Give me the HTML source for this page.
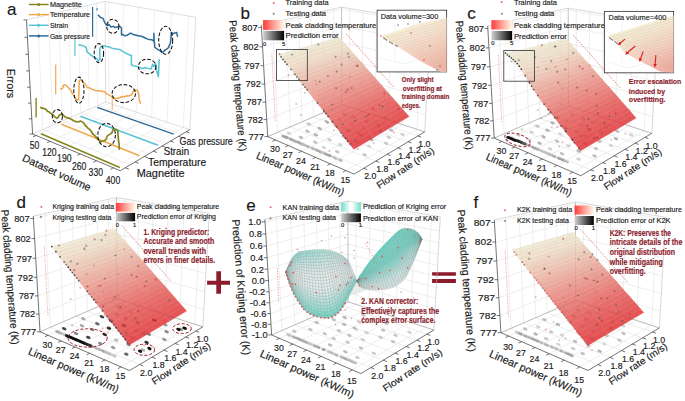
<!DOCTYPE html>
<html><head><meta charset="utf-8"><style>
html,body{margin:0;padding:0;background:#fff;}
svg{display:block;font-family:"Liberation Sans",sans-serif;}
text{fill:#1a1a1a;stroke:#1a1a1a;stroke-width:0.16px;}
</style></head><body>
<svg width="685" height="401" viewBox="0 0 685 401">
<rect width="685" height="401" fill="#fff"/>
<defs>
<linearGradient id="rg" x1="0" x2="1" y1="0" y2="0"><stop offset="0" stop-color="#ff3a3a"/><stop offset="0.5" stop-color="#ff9f93"/><stop offset="1" stop-color="#fff8e8"/></linearGradient>
<linearGradient id="gg" x1="0" x2="1" y1="0" y2="0"><stop offset="0" stop-color="#d2d2d2"/><stop offset="1" stop-color="#000"/></linearGradient>
<linearGradient id="tg" x1="0" x2="1" y1="0" y2="0"><stop offset="0" stop-color="#6fdccb"/><stop offset="0.45" stop-color="#ffffff"/><stop offset="0.55" stop-color="#ffffff"/><stop offset="1" stop-color="#6fdccb"/></linearGradient>
<linearGradient id="ib" gradientUnits="userSpaceOnUse" x1="405" y1="22" x2="425" y2="70"><stop offset="0" stop-color="#f6f0d6"/><stop offset="0.35" stop-color="#f5e2cf"/><stop offset="0.7" stop-color="#f3cdbb"/><stop offset="1" stop-color="#efb9a8"/></linearGradient>
<linearGradient id="ic" gradientUnits="userSpaceOnUse" x1="630" y1="22" x2="650" y2="72"><stop offset="0" stop-color="#f1f0d4"/><stop offset="0.3" stop-color="#f4e6cf"/><stop offset="0.65" stop-color="#f3cfbf"/><stop offset="1" stop-color="#eeb2a4"/></linearGradient>
<marker id="ah" viewBox="0 0 6 6" refX="3" refY="3" markerWidth="3.2" markerHeight="3.2" orient="auto"><path d="M0 0L6 3L0 6z" fill="#d82020"/></marker>
</defs>
<g stroke="#dcdcdc" stroke-width="0.5" fill="none">
<polyline points="267.7,136.6 341.9,104.6 424.7,131.9"/>
<polyline points="266.7,119.6 341.8,89.6 425.7,115.1"/>
<polyline points="265.7,102.1 341.7,74.2 426.6,97.9"/>
<polyline points="264.7,84.1 341.7,58.5 427.6,80.3"/>
<polyline points="263.6,65.7 341.6,42.4 428.7,62.2"/>
<polyline points="262.5,46.8 341.6,26 429.7,43.7"/>
<polyline points="261.4,27.4 341.5,9.2 430.8,24.7"/>
<polyline points="272.3,22.6 277.8,132.3 363.8,168.2"/>
<polyline points="285.8,19.6 290.3,126.9 375.8,161.1"/>
<polyline points="298.7,16.7 302.1,121.8 387.2,154.3"/>
<polyline points="310.9,14 313.4,116.9 397.9,147.9"/>
<polyline points="322.6,11.4 324.2,112.2 408.2,141.8"/>
<polyline points="333.7,8.9 334.6,107.7 417.9,135.9"/>
<polyline points="349.6,8.5 349.4,107.1 275.4,140"/>
<polyline points="362.9,10.8 361.8,111.2 288.2,145.5"/>
<polyline points="376.8,13.2 374.8,115.4 301.5,151.3"/>
<polyline points="391.4,15.7 388.3,119.9 315.6,157.4"/>
<polyline points="406.6,18.2 402.3,124.5 330.3,163.8"/>
<polyline points="422.5,21 417,129.3 345.8,170.5"/>
</g>
<g stroke="#bdbdbd" stroke-width="0.6" fill="none">
<polyline points="261.3,25.1 341.5,7.2 430.9,22.4 424.7,131.9"/>
</g>
<g stroke="#9a9a9a" stroke-width="0.6" fill="none">
<polyline points="341.5,7.2 341.9,104.6"/>
<polyline points="267.7,136.6 341.9,104.6 424.7,131.9"/>
</g>
<g>
<ellipse cx="289" cy="133.2" rx="2.4" ry="1.4" fill="#d2d2d2" transform="rotate(23.5 289 133.2)"/>
<ellipse cx="301" cy="137.4" rx="2.4" ry="1.4" fill="#bebebe" transform="rotate(23.5 301 137.4)"/>
<ellipse cx="315.3" cy="142.3" rx="2.4" ry="1.4" fill="#c0c0c0" transform="rotate(23.5 315.3 142.3)"/>
<ellipse cx="323.9" cy="147.5" rx="2.4" ry="1.4" fill="#d6d6d6" transform="rotate(23.5 323.9 147.5)"/>
<ellipse cx="337.3" cy="151.8" rx="2.4" ry="1.4" fill="#c6c6c6" transform="rotate(23.5 337.3 151.8)"/>
<ellipse cx="307.5" cy="131.3" rx="2.4" ry="1.4" fill="#bebebe" transform="rotate(23.5 307.5 131.3)"/>
<ellipse cx="315.8" cy="134.9" rx="2.4" ry="1.4" fill="#b4b4b4" transform="rotate(23.5 315.8 134.9)"/>
<ellipse cx="329.4" cy="139.8" rx="2.4" ry="1.4" fill="#cccccc" transform="rotate(23.5 329.4 139.8)"/>
<ellipse cx="340.2" cy="144.7" rx="2.4" ry="1.4" fill="#d2d2d2" transform="rotate(23.5 340.2 144.7)"/>
<ellipse cx="364.7" cy="154.8" rx="2.4" ry="1.4" fill="#c6c6c6" transform="rotate(23.5 364.7 154.8)"/>
<ellipse cx="308.9" cy="124.1" rx="2.4" ry="1.4" fill="#c6c6c6" transform="rotate(23.5 308.9 124.1)"/>
<ellipse cx="319.7" cy="128.5" rx="2.4" ry="1.4" fill="#b4b4b4" transform="rotate(23.5 319.7 128.5)"/>
<ellipse cx="343.7" cy="137" rx="2.4" ry="1.4" fill="#d2d2d2" transform="rotate(23.5 343.7 137)"/>
<ellipse cx="355.9" cy="141.3" rx="2.4" ry="1.4" fill="#b4b4b4" transform="rotate(23.5 355.9 141.3)"/>
<ellipse cx="369.1" cy="146.3" rx="2.4" ry="1.4" fill="#d6d6d6" transform="rotate(23.5 369.1 146.3)"/>
<ellipse cx="326.8" cy="121.7" rx="2.4" ry="1.4" fill="#b4b4b4" transform="rotate(23.5 326.8 121.7)"/>
<ellipse cx="335.8" cy="126" rx="2.4" ry="1.4" fill="#c6c6c6" transform="rotate(23.5 335.8 126)"/>
<ellipse cx="347.9" cy="130.5" rx="2.4" ry="1.4" fill="#b4b4b4" transform="rotate(23.5 347.9 130.5)"/>
<ellipse cx="360.4" cy="135" rx="2.4" ry="1.4" fill="#bebebe" transform="rotate(23.5 360.4 135)"/>
<ellipse cx="371.3" cy="139.5" rx="2.4" ry="1.4" fill="#b4b4b4" transform="rotate(23.5 371.3 139.5)"/>
<ellipse cx="386.1" cy="143.4" rx="2.4" ry="1.4" fill="#cccccc" transform="rotate(23.5 386.1 143.4)"/>
<ellipse cx="339.7" cy="120" rx="2.4" ry="1.4" fill="#cccccc" transform="rotate(23.5 339.7 120)"/>
<ellipse cx="351.5" cy="124.2" rx="2.4" ry="1.4" fill="#d2d2d2" transform="rotate(23.5 351.5 124.2)"/>
<ellipse cx="364" cy="128.1" rx="2.4" ry="1.4" fill="#d6d6d6" transform="rotate(23.5 364 128.1)"/>
<ellipse cx="374.2" cy="132.2" rx="2.4" ry="1.4" fill="#d6d6d6" transform="rotate(23.5 374.2 132.2)"/>
<ellipse cx="388.8" cy="137.3" rx="2.4" ry="1.4" fill="#cccccc" transform="rotate(23.5 388.8 137.3)"/>
<ellipse cx="344.3" cy="114.5" rx="2.4" ry="1.4" fill="#b4b4b4" transform="rotate(23.5 344.3 114.5)"/>
<ellipse cx="354" cy="117" rx="2.4" ry="1.4" fill="#c0c0c0" transform="rotate(23.5 354 117)"/>
<ellipse cx="366.7" cy="121.6" rx="2.4" ry="1.4" fill="#b4b4b4" transform="rotate(23.5 366.7 121.6)"/>
<ellipse cx="378.5" cy="125.7" rx="2.4" ry="1.4" fill="#c0c0c0" transform="rotate(23.5 378.5 125.7)"/>
<ellipse cx="391.2" cy="130.1" rx="2.4" ry="1.4" fill="#c0c0c0" transform="rotate(23.5 391.2 130.1)"/>
<ellipse cx="402.4" cy="134.4" rx="2.4" ry="1.4" fill="#d2d2d2" transform="rotate(23.5 402.4 134.4)"/>
<ellipse cx="284.5" cy="136.7" rx="3.2" ry="1.35" fill="#a1a1a1" transform="rotate(23.5 284.5 136.7)"/>
<ellipse cx="286.8" cy="137.6" rx="2.4" ry="1.35" fill="#a3a3a3" transform="rotate(23.5 286.8 137.6)"/>
<ellipse cx="291.4" cy="139.6" rx="2.8" ry="1.35" fill="#a0a0a0" transform="rotate(23.5 291.4 139.6)"/>
<ellipse cx="294.4" cy="140.9" rx="3.2" ry="1.35" fill="#aaaaaa" transform="rotate(23.5 294.4 140.9)"/>
<ellipse cx="297.5" cy="142.1" rx="2.4" ry="1.35" fill="#adadad" transform="rotate(23.5 297.5 142.1)"/>
<ellipse cx="300.5" cy="143.4" rx="3.2" ry="1.35" fill="#a6a6a6" transform="rotate(23.5 300.5 143.4)"/>
<ellipse cx="303.6" cy="144.7" rx="3.2" ry="1.35" fill="#bababa" transform="rotate(23.5 303.6 144.7)"/>
<ellipse cx="307.7" cy="146.4" rx="2.8" ry="1.35" fill="#b2b2b2" transform="rotate(23.5 307.7 146.4)"/>
<ellipse cx="312.7" cy="148.6" rx="2.4" ry="1.35" fill="#b2b2b2" transform="rotate(23.5 312.7 148.6)"/>
<ellipse cx="316.9" cy="150.3" rx="2.8" ry="1.35" fill="#afafaf" transform="rotate(23.5 316.9 150.3)"/>
<ellipse cx="320.1" cy="151.7" rx="2.8" ry="1.35" fill="#aaaaaa" transform="rotate(23.5 320.1 151.7)"/>
<ellipse cx="323.5" cy="153.1" rx="2.8" ry="1.35" fill="#c6c6c6" transform="rotate(23.5 323.5 153.1)"/>
<ellipse cx="326.1" cy="154.2" rx="2.8" ry="1.35" fill="#a9a9a9" transform="rotate(23.5 326.1 154.2)"/>
<ellipse cx="329.5" cy="155.6" rx="2.4" ry="1.35" fill="#a1a1a1" transform="rotate(23.5 329.5 155.6)"/>
<ellipse cx="334.9" cy="157.9" rx="3.2" ry="1.35" fill="#bcbcbc" transform="rotate(23.5 334.9 157.9)"/>
<ellipse cx="340.4" cy="160.2" rx="2.4" ry="1.35" fill="#b5b5b5" transform="rotate(23.5 340.4 160.2)"/>
</g>
<line x1="346.5" y1="34.1" x2="394" y2="87.5" stroke="#e07a7a" stroke-width="0.9" stroke-dasharray="1.6 1.4"/>
<line x1="275.3" y1="120.7" x2="271.8" y2="53.3" stroke="#e88" stroke-width="0.9" stroke-dasharray="0.9 1.3"/>
<g opacity="0.82">
<g stroke-width="0.5">
<polygon points="409,116.5 405.9,113 388.9,122.8 392.1,126.5" fill="#e43033" stroke="#e43033"/>
<polygon points="392.1,126.5 388.9,122.8 370.5,133.4 373.8,137.4" fill="#e42e31" stroke="#e42e31"/>
<polygon points="373.8,137.4 370.5,133.4 350.5,145 353.8,149.2" fill="#e32b2f" stroke="#e32b2f"/>
<polygon points="405.9,113 402.8,109.5 385.8,119.1 388.9,122.8" fill="#e43738" stroke="#e43738"/>
<polygon points="388.9,122.8 385.8,119.1 367.3,129.5 370.5,133.4" fill="#e43436" stroke="#e43436"/>
<polygon points="370.5,133.4 367.3,129.5 347.1,140.8 350.5,145" fill="#e43235" stroke="#e43235"/>
<polygon points="402.8,109.5 399.7,106 382.6,115.4 385.8,119.1" fill="#e53d3e" stroke="#e53d3e"/>
<polygon points="385.8,119.1 382.6,115.4 364.1,125.6 367.3,129.5" fill="#e53b3c" stroke="#e53b3c"/>
<polygon points="367.3,129.5 364.1,125.6 343.8,136.6 347.1,140.8" fill="#e5393a" stroke="#e5393a"/>
<polygon points="399.7,106 396.7,102.6 379.5,111.7 382.6,115.4" fill="#e54443" stroke="#e54443"/>
<polygon points="382.6,115.4 379.5,111.7 360.9,121.7 364.1,125.6" fill="#e54241" stroke="#e54241"/>
<polygon points="364.1,125.6 360.9,121.7 340.6,132.5 343.8,136.6" fill="#e53f3f" stroke="#e53f3f"/>
<polygon points="396.7,102.6 393.6,99.1 376.4,108.1 379.5,111.7" fill="#e64a48" stroke="#e64a48"/>
<polygon points="379.5,111.7 376.4,108.1 357.7,117.8 360.9,121.7" fill="#e64846" stroke="#e64846"/>
<polygon points="360.9,121.7 357.7,117.8 337.3,128.4 340.6,132.5" fill="#e64645" stroke="#e64645"/>
<polygon points="393.6,99.1 390.6,95.7 373.3,104.4 376.4,108.1" fill="#e7514d" stroke="#e7514d"/>
<polygon points="376.4,108.1 373.3,104.4 354.5,113.9 357.7,117.8" fill="#e64f4b" stroke="#e64f4b"/>
<polygon points="357.7,117.8 354.5,113.9 334.1,124.3 337.3,128.4" fill="#e64d4a" stroke="#e64d4a"/>
<polygon points="390.6,95.7 387.6,92.3 370.2,100.8 373.3,104.4" fill="#e75a55" stroke="#e75a55"/>
<polygon points="373.3,104.4 370.2,100.8 351.4,110.1 354.5,113.9" fill="#e75753" stroke="#e75753"/>
<polygon points="354.5,113.9 351.4,110.1 330.9,120.2 334.1,124.3" fill="#e75550" stroke="#e75550"/>
<polygon points="387.6,92.3 384.6,88.9 367.2,97.2 370.2,100.8" fill="#e8635d" stroke="#e8635d"/>
<polygon points="370.2,100.8 367.2,97.2 348.3,106.3 351.4,110.1" fill="#e8615b" stroke="#e8615b"/>
<polygon points="351.4,110.1 348.3,106.3 327.7,116.1 330.9,120.2" fill="#e85e59" stroke="#e85e59"/>
<polygon points="384.6,88.9 381.7,85.5 364.2,93.7 367.2,97.2" fill="#e96c65" stroke="#e96c65"/>
<polygon points="367.2,97.2 364.2,93.7 345.2,102.5 348.3,106.3" fill="#e96a63" stroke="#e96a63"/>
<polygon points="348.3,106.3 345.2,102.5 324.5,112.1 327.7,116.1" fill="#e96861" stroke="#e96861"/>
<polygon points="381.7,85.5 378.7,82.2 361.1,90.1 364.2,93.7" fill="#ea766d" stroke="#ea766d"/>
<polygon points="364.2,93.7 361.1,90.1 342.1,98.7 345.2,102.5" fill="#ea736b" stroke="#ea736b"/>
<polygon points="345.2,102.5 342.1,98.7 321.3,108.1 324.5,112.1" fill="#e97169" stroke="#e97169"/>
<polygon points="378.7,82.2 375.8,78.8 358.1,86.6 361.1,90.1" fill="#ea7f74" stroke="#ea7f74"/>
<polygon points="361.1,90.1 358.1,86.6 339,95 342.1,98.7" fill="#ea7d73" stroke="#ea7d73"/>
<polygon points="342.1,98.7 339,95 318.2,104.2 321.3,108.1" fill="#ea7b71" stroke="#ea7b71"/>
<polygon points="375.8,78.8 372.9,75.5 355.2,83.1 358.1,86.6" fill="#eb887c" stroke="#eb887c"/>
<polygon points="358.1,86.6 355.2,83.1 336,91.3 339,95" fill="#eb867b" stroke="#eb867b"/>
<polygon points="339,95 336,91.3 315.1,100.2 318.2,104.2" fill="#eb8479" stroke="#eb8479"/>
<polygon points="372.9,75.5 370,72.2 352.2,79.6 355.2,83.1" fill="#ec9184" stroke="#ec9184"/>
<polygon points="355.2,83.1 352.2,79.6 332.9,87.6 336,91.3" fill="#ec8f83" stroke="#ec8f83"/>
<polygon points="336,91.3 332.9,87.6 312,96.3 315.1,100.2" fill="#ec8d81" stroke="#ec8d81"/>
<polygon points="370,72.2 367.1,69 349.3,76.1 352.2,79.6" fill="#ec9b8c" stroke="#ec9b8c"/>
<polygon points="352.2,79.6 349.3,76.1 329.9,83.9 332.9,87.6" fill="#ec998b" stroke="#ec998b"/>
<polygon points="332.9,87.6 329.9,83.9 308.9,92.4 312,96.3" fill="#ec9789" stroke="#ec9789"/>
<polygon points="367.1,69 364.2,65.7 346.3,72.7 349.3,76.1" fill="#eda495" stroke="#eda495"/>
<polygon points="349.3,76.1 346.3,72.7 326.9,80.3 329.9,83.9" fill="#eda293" stroke="#eda293"/>
<polygon points="329.9,83.9 326.9,80.3 305.8,88.5 308.9,92.4" fill="#eda192" stroke="#eda192"/>
<polygon points="364.2,65.7 361.4,62.5 343.4,69.3 346.3,72.7" fill="#edad9d" stroke="#edad9d"/>
<polygon points="346.3,72.7 343.4,69.3 324,76.7 326.9,80.3" fill="#edac9b" stroke="#edac9b"/>
<polygon points="326.9,80.3 324,76.7 302.8,84.7 305.8,88.5" fill="#edaa9a" stroke="#edaa9a"/>
<polygon points="361.4,62.5 358.5,59.2 340.5,65.9 343.4,69.3" fill="#eeb7a5" stroke="#eeb7a5"/>
<polygon points="343.4,69.3 340.5,65.9 321,73.1 324,76.7" fill="#eeb5a4" stroke="#eeb5a4"/>
<polygon points="324,76.7 321,73.1 299.8,80.9 302.8,84.7" fill="#eeb4a3" stroke="#eeb4a3"/>
<polygon points="358.5,59.2 355.7,56 337.6,62.5 340.5,65.9" fill="#eec0ad" stroke="#eec0ad"/>
<polygon points="340.5,65.9 337.6,62.5 318.1,69.5 321,73.1" fill="#eebfac" stroke="#eebfac"/>
<polygon points="321,73.1 318.1,69.5 296.8,77.1 299.8,80.9" fill="#eebdab" stroke="#eebdab"/>
<polygon points="355.7,56 352.9,52.9 334.8,59.1 337.6,62.5" fill="#efc8b4" stroke="#efc8b4"/>
<polygon points="337.6,62.5 334.8,59.1 315.1,65.9 318.1,69.5" fill="#efc7b3" stroke="#efc7b3"/>
<polygon points="318.1,69.5 315.1,65.9 293.8,73.3 296.8,77.1" fill="#efc6b2" stroke="#efc6b2"/>
<polygon points="352.9,52.9 350.1,49.7 331.9,55.8 334.8,59.1" fill="#efd1bb" stroke="#efd1bb"/>
<polygon points="334.8,59.1 331.9,55.8 312.2,62.4 315.1,65.9" fill="#efd0ba" stroke="#efd0ba"/>
<polygon points="315.1,65.9 312.2,62.4 290.8,69.5 293.8,73.3" fill="#efcfb9" stroke="#efcfb9"/>
<polygon points="350.1,49.7 347.4,46.5 329.1,52.5 331.9,55.8" fill="#f0dac2" stroke="#f0dac2"/>
<polygon points="331.9,55.8 329.1,52.5 309.3,58.9 312.2,62.4" fill="#f0d9c1" stroke="#f0d9c1"/>
<polygon points="312.2,62.4 309.3,58.9 287.9,65.8 290.8,69.5" fill="#f0d8c1" stroke="#f0d8c1"/>
<polygon points="347.4,46.5 344.6,43.4 326.3,49.1 329.1,52.5" fill="#f1e0c8" stroke="#f1e0c8"/>
<polygon points="329.1,52.5 326.3,49.1 306.5,55.4 309.3,58.9" fill="#f1e0c8" stroke="#f1e0c8"/>
<polygon points="309.3,58.9 306.5,55.4 284.9,62.1 287.9,65.8" fill="#f0e0c7" stroke="#f0e0c7"/>
<polygon points="344.6,43.4 341.9,40.3 323.5,45.9 326.3,49.1" fill="#f1e5cc" stroke="#f1e5cc"/>
<polygon points="326.3,49.1 323.5,45.9 303.6,51.9 306.5,55.4" fill="#f1e4cc" stroke="#f1e4cc"/>
<polygon points="306.5,55.4 303.6,51.9 282,58.4 284.9,62.1" fill="#f1e4cc" stroke="#f1e4cc"/>
<polygon points="341.9,40.3 339.1,37.2 320.7,42.6 323.5,45.9" fill="#f1e9d1" stroke="#f1e9d1"/>
<polygon points="323.5,45.9 320.7,42.6 300.8,48.4 303.6,51.9" fill="#f1e9d1" stroke="#f1e9d1"/>
<polygon points="303.6,51.9 300.8,48.4 279.1,54.7 282,58.4" fill="#f1e9d0" stroke="#f1e9d0"/>
</g>
<g stroke="#5a4a44" stroke-width="0.35" stroke-opacity="0.16" fill="none">
<polyline points="409,116.5 353.8,149.2"/>
<polyline points="406.5,113.7 351.1,145.9"/>
<polyline points="404,110.9 348.5,142.5"/>
<polyline points="401.6,108.1 345.8,139.1"/>
<polyline points="399.1,105.3 343.2,135.8"/>
<polyline points="396.7,102.6 340.6,132.5"/>
<polyline points="394.3,99.8 338,129.2"/>
<polyline points="391.8,97 335.4,125.9"/>
<polyline points="389.4,94.3 332.8,122.6"/>
<polyline points="387,91.6 330.2,119.4"/>
<polyline points="384.6,88.9 327.7,116.1"/>
<polyline points="382.3,86.2 325.1,112.9"/>
<polyline points="379.9,83.5 322.6,109.7"/>
<polyline points="377.6,80.8 320.1,106.5"/>
<polyline points="375.2,78.2 317.6,103.4"/>
<polyline points="372.9,75.5 315.1,100.2"/>
<polyline points="370.6,72.9 312.6,97.1"/>
<polyline points="368.3,70.3 310.1,94"/>
<polyline points="366,67.7 307.7,90.9"/>
<polyline points="363.7,65.1 305.2,87.8"/>
<polyline points="361.4,62.5 302.8,84.7"/>
<polyline points="359.1,59.9 300.4,81.6"/>
<polyline points="356.9,57.3 298,78.6"/>
<polyline points="354.6,54.8 295.6,75.5"/>
<polyline points="352.4,52.2 293.2,72.5"/>
<polyline points="350.1,49.7 290.8,69.5"/>
<polyline points="347.9,47.2 288.5,66.5"/>
<polyline points="345.7,44.7 286.1,63.6"/>
<polyline points="343.5,42.2 283.8,60.6"/>
<polyline points="341.3,39.7 281.5,57.7"/>
<polyline points="339.1,37.2 279.1,54.7"/>
<polyline points="409,116.5 339.1,37.2"/>
<polyline points="407.4,117.5 337.4,37.7"/>
<polyline points="405.7,118.5 335.6,38.2"/>
<polyline points="404.1,119.5 333.8,38.8"/>
<polyline points="402.4,120.4 331.9,39.3"/>
<polyline points="400.7,121.4 330.1,39.8"/>
<polyline points="399,122.4 328.2,40.4"/>
<polyline points="397.3,123.5 326.4,40.9"/>
<polyline points="395.6,124.5 324.5,41.5"/>
<polyline points="393.9,125.5 322.6,42"/>
<polyline points="392.1,126.5 320.7,42.6"/>
<polyline points="390.4,127.6 318.8,43.1"/>
<polyline points="388.6,128.6 316.8,43.7"/>
<polyline points="386.8,129.7 314.9,44.3"/>
<polyline points="385,130.8 312.9,44.9"/>
<polyline points="383.2,131.9 310.9,45.4"/>
<polyline points="381.3,132.9 308.9,46"/>
<polyline points="379.5,134 306.9,46.6"/>
<polyline points="377.6,135.2 304.9,47.2"/>
<polyline points="375.7,136.3 302.8,47.8"/>
<polyline points="373.8,137.4 300.8,48.4"/>
<polyline points="371.9,138.5 298.7,49"/>
<polyline points="369.9,139.7 296.6,49.6"/>
<polyline points="368,140.8 294.5,50.3"/>
<polyline points="366,142 292.3,50.9"/>
<polyline points="364,143.2 290.2,51.5"/>
<polyline points="362,144.4 288,52.1"/>
<polyline points="360,145.6 285.8,52.8"/>
<polyline points="358,146.8 283.6,53.4"/>
<polyline points="355.9,148 281.4,54.1"/>
<polyline points="353.8,149.2 279.1,54.7"/>
</g></g>
<g stroke-width="0.6">
<path d="M344.6 92h2.4M345.8 90.8v2.4" stroke="#b03030" stroke-opacity="0.7"/>
<path d="M346.6 89.6h2.4M347.8 88.4v2.4" stroke="#b03030" stroke-opacity="0.7"/>
<path d="M367.2 114.6h2.4M368.4 113.4v2.4" stroke="#b03030" stroke-opacity="0.7"/>
<path d="M346.7 53.8h2.4M347.9 52.6v2.4" stroke="#555" stroke-opacity="0.7"/>
<path d="M357.1 132.8h2.4M358.3 131.6v2.4" stroke="#b03030" stroke-opacity="0.7"/>
<path d="M350.4 143.6h2.4M351.6 142.4v2.4" stroke="#b03030" stroke-opacity="0.7"/>
<path d="M326.7 75.9h2.4M327.9 74.7v2.4" stroke="#555" stroke-opacity="0.7"/>
<path d="M379.2 130.7h2.4M380.4 129.5v2.4" stroke="#555" stroke-opacity="0.7"/>
<path d="M381.4 106.4h2.4M382.6 105.2v2.4" stroke="#555" stroke-opacity="0.7"/>
<path d="M350.6 88h2.4M351.8 86.8v2.4" stroke="#b03030" stroke-opacity="0.7"/>
<path d="M334.9 88.2h2.4M336.1 87v2.4" stroke="#555" stroke-opacity="0.7"/>
<path d="M335.5 71.6h2.4M336.7 70.4v2.4" stroke="#555" stroke-opacity="0.7"/>
<path d="M278.4 54.1h2.4M279.6 52.9v2.4" stroke="#b03030" stroke-opacity="0.7"/>
<path d="M340.4 64.8h2.4M341.6 63.6v2.4" stroke="#555" stroke-opacity="0.7"/>
<path d="M383.1 93.5h2.4M384.3 92.3v2.4" stroke="#b03030" stroke-opacity="0.7"/>
<path d="M331.1 104.5h2.4M332.3 103.3v2.4" stroke="#555" stroke-opacity="0.7"/>
<path d="M290.9 54.6h2.4M292.1 53.4v2.4" stroke="#555" stroke-opacity="0.7"/>
<path d="M341.7 124.5h2.4M342.9 123.3v2.4" stroke="#555" stroke-opacity="0.7"/>
<path d="M317.1 44.5h2.4M318.3 43.3v2.4" stroke="#555" stroke-opacity="0.7"/>
<path d="M318.5 81.8h2.4M319.7 80.6v2.4" stroke="#555" stroke-opacity="0.7"/>
<path d="M384.4 118h2.4M385.6 116.8v2.4" stroke="#b03030" stroke-opacity="0.7"/>
<path d="M347.7 57h2.4M348.9 55.8v2.4" stroke="#555" stroke-opacity="0.7"/>
<path d="M397.4 109h2.4M398.6 107.8v2.4" stroke="#b03030" stroke-opacity="0.7"/>
<path d="M365 116.6h2.4M366.2 115.4v2.4" stroke="#555" stroke-opacity="0.7"/>
<path d="M354 120.7h2.4M355.2 119.5v2.4" stroke="#555" stroke-opacity="0.7"/>
<path d="M355.6 65.9h2.4M356.8 64.7v2.4" stroke="#555" stroke-opacity="0.7"/>
<path d="M378.3 105.2h2.4M379.5 104v2.4" stroke="#b03030" stroke-opacity="0.7"/>
<path d="M334.4 56.9h2.4M335.6 55.7v2.4" stroke="#b03030" stroke-opacity="0.7"/>
<path d="M371.7 108.9h2.4M372.9 107.7v2.4" stroke="#b03030" stroke-opacity="0.7"/>
<path d="M356.6 65.7h2.4M357.8 64.5v2.4" stroke="#b03030" stroke-opacity="0.7"/>
<path d="M378.8 112.2h2.2M379.9 111.1v2.2" stroke="#e06060" stroke-opacity="0.6"/>
<path d="M381.7 124.2h2.2M382.8 123.1v2.2" stroke="#e06060" stroke-opacity="0.6"/>
<path d="M357.6 132.1h2.2M358.7 131v2.2" stroke="#e06060" stroke-opacity="0.6"/>
<path d="M314.3 80.6h2.2M315.4 79.5v2.2" stroke="#888" stroke-opacity="0.6"/>
<path d="M386.6 107.8h2.2M387.7 106.7v2.2" stroke="#888" stroke-opacity="0.6"/>
<path d="M379.7 108.8h2.2M380.8 107.7v2.2" stroke="#888" stroke-opacity="0.6"/>
<path d="M340.3 131.2h2.2M341.4 130.1v2.2" stroke="#888" stroke-opacity="0.6"/>
<path d="M371.2 123.4h2.2M372.3 122.3v2.2" stroke="#888" stroke-opacity="0.6"/>
<path d="M352 139h2.2M353.1 137.9v2.2" stroke="#888" stroke-opacity="0.6"/>
<path d="M349.3 116.8h2.2M350.4 115.7v2.2" stroke="#888" stroke-opacity="0.6"/>
<path d="M391 126.2h2.2M392.1 125.1v2.2" stroke="#888" stroke-opacity="0.6"/>
<path d="M348.9 76.9h2.2M350 75.8v2.2" stroke="#e06060" stroke-opacity="0.6"/>
<path d="M392.8 132.4h2.2M393.9 131.3v2.2" stroke="#e06060" stroke-opacity="0.6"/>
<path d="M375.5 123.4h2.2M376.6 122.3v2.2" stroke="#e06060" stroke-opacity="0.6"/>
<path d="M331.3 110.9h2.2M332.4 109.8v2.2" stroke="#888" stroke-opacity="0.6"/>
<path d="M326.8 123h2.2M327.9 121.9v2.2" stroke="#e06060" stroke-opacity="0.6"/>
<path d="M356.8 149h2.2M357.9 147.9v2.2" stroke="#888" stroke-opacity="0.6"/>
<path d="M372.6 143h2.2M373.7 141.9v2.2" stroke="#888" stroke-opacity="0.6"/>
<path d="M328.2 151.1h2.2M329.3 150v2.2" stroke="#e06060" stroke-opacity="0.6"/>
<path d="M303.7 92.9h2.2M304.8 91.8v2.2" stroke="#888" stroke-opacity="0.6"/>
<path d="M299.6 114.9h2.2M300.7 113.8v2.2" stroke="#888" stroke-opacity="0.6"/>
<path d="M295.1 104h2.2M296.2 102.9v2.2" stroke="#888" stroke-opacity="0.6"/>
<path d="M315.3 84.4h2.2M316.4 83.3v2.2" stroke="#e06060" stroke-opacity="0.6"/>
<path d="M332.8 130.4h2.2M333.9 129.3v2.2" stroke="#888" stroke-opacity="0.6"/>
<path d="M287.4 75.1h2.2M288.5 74v2.2" stroke="#e06060" stroke-opacity="0.6"/>
</g>
<g>
<circle cx="281.1" cy="56.8" r="0.85" fill="#555"/>
<circle cx="283" cy="59.3" r="0.85" fill="#444"/>
<circle cx="285" cy="61.8" r="0.85" fill="#444"/>
<circle cx="286.9" cy="64.3" r="0.85" fill="#444"/>
<circle cx="290.9" cy="69.3" r="0.85" fill="#666"/>
<circle cx="294.9" cy="74.3" r="0.85" fill="#555"/>
<circle cx="296.9" cy="76.9" r="0.85" fill="#666"/>
<circle cx="298.9" cy="79.4" r="0.85" fill="#555"/>
<circle cx="303" cy="84.6" r="0.85" fill="#666"/>
<circle cx="305" cy="87.1" r="0.85" fill="#666"/>
<circle cx="307.1" cy="89.7" r="0.85" fill="#666"/>
<circle cx="317.5" cy="102.9" r="0.85" fill="#555"/>
<circle cx="323.8" cy="110.9" r="0.85" fill="#444"/>
<circle cx="325.9" cy="113.6" r="0.85" fill="#444"/>
<circle cx="328.1" cy="116.3" r="0.85" fill="#444"/>
<circle cx="332.4" cy="121.7" r="0.85" fill="#444"/>
<circle cx="336.7" cy="127.2" r="0.85" fill="#666"/>
<circle cx="341.1" cy="132.8" r="0.85" fill="#666"/>
<circle cx="343.3" cy="135.6" r="0.85" fill="#666"/>
<circle cx="345.5" cy="138.4" r="0.85" fill="#444"/>
<circle cx="347.7" cy="141.2" r="0.85" fill="#444"/>
<circle cx="350" cy="144" r="0.85" fill="#666"/>
</g>
<g stroke="#3a3a3a" stroke-width="0.7" fill="none">
<polyline points="261.3,25.1 267.7,136.6 354,174.1 424.7,131.9"/>
<line x1="264.5" y1="136.6" x2="267.7" y2="136.6"/>
<line x1="263.5" y1="119.6" x2="266.7" y2="119.6"/>
<line x1="262.5" y1="102.1" x2="265.7" y2="102.1"/>
<line x1="261.5" y1="84.1" x2="264.7" y2="84.1"/>
<line x1="260.4" y1="65.7" x2="263.6" y2="65.7"/>
<line x1="259.3" y1="46.8" x2="262.5" y2="46.8"/>
<line x1="258.2" y1="27.4" x2="261.4" y2="27.4"/>
<line x1="275.4" y1="140" x2="272.4" y2="141.3"/>
<line x1="288.2" y1="145.5" x2="285.2" y2="146.9"/>
<line x1="301.5" y1="151.3" x2="298.5" y2="152.8"/>
<line x1="315.6" y1="157.4" x2="312.6" y2="158.9"/>
<line x1="330.3" y1="163.8" x2="327.3" y2="165.4"/>
<line x1="345.8" y1="170.5" x2="342.8" y2="172.2"/>
<line x1="363.8" y1="168.2" x2="367.3" y2="169.7"/>
<line x1="375.8" y1="161.1" x2="379.3" y2="162.4"/>
<line x1="387.2" y1="154.3" x2="390.6" y2="155.6"/>
<line x1="397.9" y1="147.9" x2="401.3" y2="149.1"/>
<line x1="408.2" y1="141.8" x2="411.5" y2="142.9"/>
<line x1="417.9" y1="135.9" x2="421.2" y2="137.1"/>
</g>
<text x="263.9" y="139.9" style="font-size:9.3px" text-anchor="end">777</text>
<text x="262.9" y="122.9" style="font-size:9.3px" text-anchor="end">782</text>
<text x="261.9" y="105.4" style="font-size:9.3px" text-anchor="end">787</text>
<text x="260.9" y="87.4" style="font-size:9.3px" text-anchor="end">792</text>
<text x="259.8" y="69" style="font-size:9.3px" text-anchor="end">797</text>
<text x="258.7" y="50.1" style="font-size:9.3px" text-anchor="end">802</text>
<text x="257.6" y="30.7" style="font-size:9.3px" text-anchor="end">807</text>
<text x="274.9" y="152.3" style="font-size:8.8px" text-anchor="middle">30</text>
<text x="287.7" y="157.8" style="font-size:8.8px" text-anchor="middle">27</text>
<text x="301" y="163.6" style="font-size:8.8px" text-anchor="middle">24</text>
<text x="315.1" y="169.7" style="font-size:8.8px" text-anchor="middle">21</text>
<text x="329.8" y="176.1" style="font-size:8.8px" text-anchor="middle">18</text>
<text x="345.3" y="182.8" style="font-size:8.8px" text-anchor="middle">15</text>
<text x="370.3" y="179.3" style="font-size:8.8px" text-anchor="middle">2.0</text>
<text x="382.3" y="172.2" style="font-size:8.8px" text-anchor="middle">1.8</text>
<text x="393.7" y="165.4" style="font-size:8.8px" text-anchor="middle">1.6</text>
<text x="404.4" y="159" style="font-size:8.8px" text-anchor="middle">1.4</text>
<text x="414.7" y="152.9" style="font-size:8.8px" text-anchor="middle">1.2</text>
<text x="424.4" y="147" style="font-size:8.8px" text-anchor="middle">1.0</text>
<text x="240.5" y="18.5" style="font-size:17px">b</text>
<text x="229" y="20.6" style="font-size:10.8px" textLength="131.3" lengthAdjust="spacingAndGlyphs" transform="rotate(85.5 229 20.6)">Peak cladding temperature (K)</text>
<text x="255.6" y="158.2" style="font-size:10.8px" textLength="94.5" lengthAdjust="spacingAndGlyphs" transform="rotate(23.5 255.6 158.2)">Linear power (kW/m)</text>
<text x="379.2" y="189" style="font-size:9.5px" textLength="67" lengthAdjust="spacingAndGlyphs" transform="rotate(-33.5 379.2 189)">Flow rate (m/s)</text>
<circle cx="273.7" cy="3" r="1.05" fill="#f07070"/>
<circle cx="273.7" cy="13.8" r="1.05" fill="#888"/>
<rect x="263.1" y="20" width="21" height="9.9" fill="url(#rg)"/>
<rect x="263.1" y="30.9" width="21" height="9.4" fill="url(#gg)"/>
<text x="285.6" y="5" style="font-size:7.8px" textLength="43" lengthAdjust="spacingAndGlyphs">Training data</text>
<text x="285.6" y="16" style="font-size:7.8px" textLength="40.4" lengthAdjust="spacingAndGlyphs">Testing data</text>
<text x="285.6" y="27.6" style="font-size:7.8px" textLength="90.6" lengthAdjust="spacingAndGlyphs">Peak cladding temperature</text>
<text x="285.6" y="38.2" style="font-size:7.8px" textLength="53" lengthAdjust="spacingAndGlyphs">Prediction error</text>
<text x="264.6" y="45.5" style="font-size:5.8px" text-anchor="middle">0</text>
<text x="283.6" y="45.5" style="font-size:5.8px" text-anchor="middle">5</text>
<rect x="276.6" y="49.4" width="30.7" height="31.2" fill="none" stroke="#333" stroke-width="0.8"/>
<rect x="377.1" y="10.2" width="69.5" height="61.7" fill="#fff" stroke="#444" stroke-width="0.9"/>
<g stroke="#e4e4e4" stroke-width="0.5" fill="none"><path d="M395 22V60M414 18V55M431 14V50M380 58L404 64L446 52M380 40L446 27"/></g>
<polygon points="381,36 414,25 446.6,17.5 446.6,71.9 441,71.9 420,61 399,47.5" fill="url(#ib)"/>
<g stroke="#555" stroke-width="0.5" stroke-opacity="0.15"><path d="M384.2 37.8L446.6 20.2"/><path d="M387.4 39.5L446.6 22.9"/><path d="M390.6 41.3L446.6 25.7"/><path d="M393.8 43L446.6 28.4"/><path d="M397 44.8L446.6 31.1"/><path d="M400.2 46.6L446.6 33.8"/><path d="M403.4 48.3L446.6 36.5"/><path d="M406.6 50.1L446.6 39.3"/><path d="M409.8 51.8L446.6 42"/><path d="M413 53.6L446.6 44.7"/><path d="M416.2 55.4L446.6 47.4"/><path d="M419.4 57.1L446.6 50.1"/><path d="M422.6 58.9L446.6 52.9"/><path d="M425.8 60.6L446.6 55.6"/><path d="M429 62.4L446.6 58.3"/><path d="M432.2 64.2L446.6 61"/><path d="M435.4 65.9L446.6 63.7"/><path d="M438.6 67.7L446.6 66.5"/><path d="M441.8 69.4L446.6 69.2"/></g>
<path d="M383 37.5L387 40.5M389 41.5L393 44M395 45L398 46.5" stroke="#555" stroke-width="0.9"/>
<circle cx="381" cy="36" r="0.7" fill="#d33"/>
<circle cx="398" cy="25" r="0.7" fill="#555"/>
<circle cx="408" cy="24" r="0.7" fill="#555"/>
<circle cx="420" cy="22" r="0.7" fill="#555"/>
<circle cx="411" cy="33" r="0.7" fill="#d33"/>
<circle cx="430" cy="46" r="0.7" fill="#555"/>
<circle cx="424" cy="60" r="0.7" fill="#d33"/>
<circle cx="440" cy="66" r="0.7" fill="#d33"/>
<circle cx="437" cy="70" r="0.7" fill="#555"/>
<text x="380.8" y="19.2" style="font-size:8px" textLength="57.4" lengthAdjust="spacingAndGlyphs">Data volume=300</text>
<text x="401.8" y="82" style="font-size:7.8px;font-weight:bold;fill:#8c1c2c;stroke:#8c1c2c" textLength="31.7" lengthAdjust="spacingAndGlyphs">Only slight</text>
<text x="402.8" y="90.5" style="font-size:7.8px;font-weight:bold;fill:#8c1c2c;stroke:#8c1c2c" textLength="39.2" lengthAdjust="spacingAndGlyphs">overfitting at</text>
<text x="401.8" y="99" style="font-size:7.8px;font-weight:bold;fill:#8c1c2c;stroke:#8c1c2c" textLength="47.6" lengthAdjust="spacingAndGlyphs">training domain</text>
<text x="401.8" y="107.5" style="font-size:7.8px;font-weight:bold;fill:#8c1c2c;stroke:#8c1c2c" textLength="18.7" lengthAdjust="spacingAndGlyphs">edges.</text>
<g stroke="#dcdcdc" stroke-width="0.5" fill="none">
<polyline points="494.2,138.1 568.6,105.9 651.8,133.3"/>
<polyline points="493.2,120.9 568.6,90.8 652.8,116.5"/>
<polyline points="492.2,103.4 568.5,75.4 653.8,99.2"/>
<polyline points="491.1,85.3 568.4,59.6 654.8,81.5"/>
<polyline points="490,66.8 568.4,43.4 655.8,63.4"/>
<polyline points="488.9,47.9 568.3,27 656.8,44.7"/>
<polyline points="487.8,28.4 568.3,10.1 657.9,25.7"/>
<polyline points="498.8,23.6 504.3,133.7 590.7,169.8"/>
<polyline points="512.3,20.5 516.8,128.3 602.7,162.6"/>
<polyline points="525.2,17.6 528.7,123.2 614.1,155.8"/>
<polyline points="537.5,14.9 540,118.3 624.9,149.3"/>
<polyline points="549.2,12.3 550.9,113.6 635.2,143.2"/>
<polyline points="560.4,9.8 561.3,109.1 645,137.4"/>
<polyline points="576.3,9.4 576.2,108.4 501.9,141.4"/>
<polyline points="589.7,11.7 588.7,112.5 514.7,147"/>
<polyline points="603.7,14.1 601.7,116.8 528.1,152.8"/>
<polyline points="618.3,16.6 615.2,121.3 542.2,158.9"/>
<polyline points="633.6,19.2 629.3,125.9 557,165.3"/>
<polyline points="649.6,21.9 644.1,130.8 572.6,172.1"/>
</g>
<g stroke="#bdbdbd" stroke-width="0.6" fill="none">
<polyline points="487.7,26 568.2,8.1 658.1,23.3 651.8,133.3"/>
</g>
<g stroke="#9a9a9a" stroke-width="0.6" fill="none">
<polyline points="568.2,8.1 568.6,105.9"/>
<polyline points="494.2,138.1 568.6,105.9 651.8,133.3"/>
</g>
<g>
<ellipse cx="518.4" cy="135" rx="2.4" ry="1.4" fill="#cccccc" transform="rotate(23.5 518.4 135)"/>
<ellipse cx="529.3" cy="139.8" rx="2.4" ry="1.4" fill="#d2d2d2" transform="rotate(23.5 529.3 139.8)"/>
<ellipse cx="539.6" cy="143.3" rx="2.4" ry="1.4" fill="#b4b4b4" transform="rotate(23.5 539.6 143.3)"/>
<ellipse cx="550" cy="148.9" rx="2.4" ry="1.4" fill="#d2d2d2" transform="rotate(23.5 550 148.9)"/>
<ellipse cx="562" cy="153.8" rx="2.4" ry="1.4" fill="#c0c0c0" transform="rotate(23.5 562 153.8)"/>
<ellipse cx="578.6" cy="159.1" rx="2.4" ry="1.4" fill="#d2d2d2" transform="rotate(23.5 578.6 159.1)"/>
<ellipse cx="531.5" cy="132.3" rx="2.4" ry="1.4" fill="#d2d2d2" transform="rotate(23.5 531.5 132.3)"/>
<ellipse cx="543.5" cy="136.7" rx="2.4" ry="1.4" fill="#b4b4b4" transform="rotate(23.5 543.5 136.7)"/>
<ellipse cx="557.1" cy="141.2" rx="2.4" ry="1.4" fill="#c0c0c0" transform="rotate(23.5 557.1 141.2)"/>
<ellipse cx="568.4" cy="145.7" rx="2.4" ry="1.4" fill="#d2d2d2" transform="rotate(23.5 568.4 145.7)"/>
<ellipse cx="578.7" cy="151" rx="2.4" ry="1.4" fill="#b4b4b4" transform="rotate(23.5 578.7 151)"/>
<ellipse cx="594.6" cy="156" rx="2.4" ry="1.4" fill="#bebebe" transform="rotate(23.5 594.6 156)"/>
<ellipse cx="537.3" cy="126.1" rx="2.4" ry="1.4" fill="#c6c6c6" transform="rotate(23.5 537.3 126.1)"/>
<ellipse cx="547.5" cy="130.3" rx="2.4" ry="1.4" fill="#b4b4b4" transform="rotate(23.5 547.5 130.3)"/>
<ellipse cx="560.4" cy="134" rx="2.4" ry="1.4" fill="#d6d6d6" transform="rotate(23.5 560.4 134)"/>
<ellipse cx="572.7" cy="138.4" rx="2.4" ry="1.4" fill="#d6d6d6" transform="rotate(23.5 572.7 138.4)"/>
<ellipse cx="585.2" cy="143.6" rx="2.4" ry="1.4" fill="#b4b4b4" transform="rotate(23.5 585.2 143.6)"/>
<ellipse cx="595.9" cy="148.6" rx="2.4" ry="1.4" fill="#c6c6c6" transform="rotate(23.5 595.9 148.6)"/>
<ellipse cx="552.5" cy="122.9" rx="2.4" ry="1.4" fill="#b4b4b4" transform="rotate(23.5 552.5 122.9)"/>
<ellipse cx="564.8" cy="127.5" rx="2.4" ry="1.4" fill="#cccccc" transform="rotate(23.5 564.8 127.5)"/>
<ellipse cx="576.9" cy="132" rx="2.4" ry="1.4" fill="#c6c6c6" transform="rotate(23.5 576.9 132)"/>
<ellipse cx="585.5" cy="135.8" rx="2.4" ry="1.4" fill="#d2d2d2" transform="rotate(23.5 585.5 135.8)"/>
<ellipse cx="599.4" cy="141.4" rx="2.4" ry="1.4" fill="#c0c0c0" transform="rotate(23.5 599.4 141.4)"/>
<ellipse cx="610.9" cy="145.5" rx="2.4" ry="1.4" fill="#d6d6d6" transform="rotate(23.5 610.9 145.5)"/>
<ellipse cx="557.6" cy="117.1" rx="2.4" ry="1.4" fill="#bebebe" transform="rotate(23.5 557.6 117.1)"/>
<ellipse cx="567.7" cy="121.4" rx="2.4" ry="1.4" fill="#cccccc" transform="rotate(23.5 567.7 121.4)"/>
<ellipse cx="580.9" cy="125.1" rx="2.4" ry="1.4" fill="#cccccc" transform="rotate(23.5 580.9 125.1)"/>
<ellipse cx="588.5" cy="129.5" rx="2.4" ry="1.4" fill="#b4b4b4" transform="rotate(23.5 588.5 129.5)"/>
<ellipse cx="601.3" cy="133" rx="2.4" ry="1.4" fill="#cccccc" transform="rotate(23.5 601.3 133)"/>
<ellipse cx="616" cy="138.8" rx="2.4" ry="1.4" fill="#b4b4b4" transform="rotate(23.5 616 138.8)"/>
<ellipse cx="572.5" cy="114.9" rx="2.4" ry="1.4" fill="#bebebe" transform="rotate(23.5 572.5 114.9)"/>
<ellipse cx="583.2" cy="118.6" rx="2.4" ry="1.4" fill="#c0c0c0" transform="rotate(23.5 583.2 118.6)"/>
<ellipse cx="592.7" cy="122.5" rx="2.4" ry="1.4" fill="#cccccc" transform="rotate(23.5 592.7 122.5)"/>
<ellipse cx="606" cy="127" rx="2.4" ry="1.4" fill="#c6c6c6" transform="rotate(23.5 606 127)"/>
<ellipse cx="617.3" cy="131.3" rx="2.4" ry="1.4" fill="#bebebe" transform="rotate(23.5 617.3 131.3)"/>
<ellipse cx="631.2" cy="135" rx="2.4" ry="1.4" fill="#d2d2d2" transform="rotate(23.5 631.2 135)"/>
<ellipse cx="511" cy="138.1" rx="3.2" ry="1.35" fill="#aaaaaa" transform="rotate(23.5 511 138.1)"/>
<ellipse cx="513.9" cy="139.3" rx="2.8" ry="1.35" fill="#bebebe" transform="rotate(23.5 513.9 139.3)"/>
<ellipse cx="517.7" cy="141" rx="2.4" ry="1.35" fill="#a5a5a5" transform="rotate(23.5 517.7 141)"/>
<ellipse cx="521.6" cy="142.6" rx="3.2" ry="1.35" fill="#b6b6b6" transform="rotate(23.5 521.6 142.6)"/>
<ellipse cx="526.4" cy="144.6" rx="3.2" ry="1.35" fill="#c6c6c6" transform="rotate(23.5 526.4 144.6)"/>
<ellipse cx="528.9" cy="145.7" rx="2.4" ry="1.35" fill="#b3b3b3" transform="rotate(23.5 528.9 145.7)"/>
<ellipse cx="533.8" cy="147.7" rx="3.2" ry="1.35" fill="#a8a8a8" transform="rotate(23.5 533.8 147.7)"/>
<ellipse cx="537" cy="149.1" rx="3.2" ry="1.35" fill="#adadad" transform="rotate(23.5 537 149.1)"/>
<ellipse cx="542.1" cy="151.2" rx="3.2" ry="1.35" fill="#bfbfbf" transform="rotate(23.5 542.1 151.2)"/>
<ellipse cx="546.3" cy="153" rx="3.2" ry="1.35" fill="#c0c0c0" transform="rotate(23.5 546.3 153)"/>
<ellipse cx="549.7" cy="154.4" rx="3.2" ry="1.35" fill="#bababa" transform="rotate(23.5 549.7 154.4)"/>
<ellipse cx="554" cy="156.2" rx="2.8" ry="1.35" fill="#adadad" transform="rotate(23.5 554 156.2)"/>
<ellipse cx="559.4" cy="158.5" rx="2.8" ry="1.35" fill="#a2a2a2" transform="rotate(23.5 559.4 158.5)"/>
<ellipse cx="562.9" cy="160" rx="3.2" ry="1.35" fill="#a1a1a1" transform="rotate(23.5 562.9 160)"/>
<ellipse cx="566.4" cy="161.4" rx="2.8" ry="1.35" fill="#bebebe" transform="rotate(23.5 566.4 161.4)"/>
<ellipse cx="508.7" cy="137.7" rx="2.6" ry="1.5" fill="#111" transform="rotate(23.5 508.7 137.7)"/>
<ellipse cx="511.6" cy="138.9" rx="2.6" ry="1.5" fill="#111" transform="rotate(23.5 511.6 138.9)"/>
<ellipse cx="514.5" cy="140.2" rx="2.6" ry="1.5" fill="#111" transform="rotate(23.5 514.5 140.2)"/>
<ellipse cx="518.2" cy="141.1" rx="2.6" ry="1.5" fill="#222" transform="rotate(23.5 518.2 141.1)"/>
<ellipse cx="521.2" cy="142.4" rx="2.6" ry="1.5" fill="#333" transform="rotate(23.5 521.2 142.4)"/>
<ellipse cx="524.2" cy="143.7" rx="2.6" ry="1.5" fill="#555" transform="rotate(23.5 524.2 143.7)"/>
</g>
<line x1="573.2" y1="35.1" x2="620.9" y2="88.7" stroke="#e07a7a" stroke-width="0.9" stroke-dasharray="1.6 1.4"/>
<line x1="501.8" y1="122.1" x2="498.3" y2="54.4" stroke="#e88" stroke-width="0.9" stroke-dasharray="0.9 1.3"/>
<g opacity="0.82">
<g stroke-width="0.5">
<polygon points="636,117.9 632.9,114.4 615.9,124.2 619.1,127.9" fill="#e43033" stroke="#e43033"/>
<polygon points="619.1,127.9 615.9,124.2 597.4,134.9 600.7,138.8" fill="#e42e31" stroke="#e42e31"/>
<polygon points="600.7,138.8 597.4,134.9 577.3,146.5 580.6,150.7" fill="#e32b2f" stroke="#e32b2f"/>
<polygon points="632.9,114.4 629.8,110.8 612.7,120.5 615.9,124.2" fill="#e43738" stroke="#e43738"/>
<polygon points="615.9,124.2 612.7,120.5 594.2,130.9 597.4,134.9" fill="#e43436" stroke="#e43436"/>
<polygon points="597.4,134.9 594.2,130.9 573.9,142.3 577.3,146.5" fill="#e43235" stroke="#e43235"/>
<polygon points="629.8,110.8 626.7,107.3 609.6,116.7 612.7,120.5" fill="#e53d3e" stroke="#e53d3e"/>
<polygon points="612.7,120.5 609.6,116.7 590.9,127 594.2,130.9" fill="#e53b3c" stroke="#e53b3c"/>
<polygon points="594.2,130.9 590.9,127 570.6,138.1 573.9,142.3" fill="#e5393a" stroke="#e5393a"/>
<polygon points="626.7,107.3 623.7,103.9 606.4,113 609.6,116.7" fill="#e54443" stroke="#e54443"/>
<polygon points="609.6,116.7 606.4,113 587.7,123 590.9,127" fill="#e54241" stroke="#e54241"/>
<polygon points="590.9,127 587.7,123 567.3,133.9 570.6,138.1" fill="#e53f3f" stroke="#e53f3f"/>
<polygon points="623.7,103.9 620.6,100.4 603.3,109.4 606.4,113" fill="#e64a48" stroke="#e64a48"/>
<polygon points="606.4,113 603.3,109.4 584.5,119.1 587.7,123" fill="#e64846" stroke="#e64846"/>
<polygon points="587.7,123 584.5,119.1 564,129.8 567.3,133.9" fill="#e64645" stroke="#e64645"/>
<polygon points="620.6,100.4 617.6,96.9 600.2,105.7 603.3,109.4" fill="#e7514d" stroke="#e7514d"/>
<polygon points="603.3,109.4 600.2,105.7 581.3,115.3 584.5,119.1" fill="#e64f4b" stroke="#e64f4b"/>
<polygon points="584.5,119.1 581.3,115.3 560.8,125.7 564,129.8" fill="#e64d4a" stroke="#e64d4a"/>
<polygon points="617.6,96.9 614.6,93.5 597.1,102.1 600.2,105.7" fill="#e75a55" stroke="#e75a55"/>
<polygon points="600.2,105.7 597.1,102.1 578.2,111.4 581.3,115.3" fill="#e75753" stroke="#e75753"/>
<polygon points="581.3,115.3 578.2,111.4 557.6,121.6 560.8,125.7" fill="#e75550" stroke="#e75550"/>
<polygon points="614.6,93.5 611.6,90.1 594.1,98.5 597.1,102.1" fill="#e8635d" stroke="#e8635d"/>
<polygon points="597.1,102.1 594.1,98.5 575,107.6 578.2,111.4" fill="#e8615b" stroke="#e8615b"/>
<polygon points="578.2,111.4 575,107.6 554.4,117.5 557.6,121.6" fill="#e85e59" stroke="#e85e59"/>
<polygon points="611.6,90.1 608.6,86.7 591,94.9 594.1,98.5" fill="#e96c65" stroke="#e96c65"/>
<polygon points="594.1,98.5 591,94.9 571.9,103.8 575,107.6" fill="#e96a63" stroke="#e96a63"/>
<polygon points="575,107.6 571.9,103.8 551.2,113.5 554.4,117.5" fill="#e96861" stroke="#e96861"/>
<polygon points="608.6,86.7 605.6,83.4 588,91.4 591,94.9" fill="#ea766d" stroke="#ea766d"/>
<polygon points="591,94.9 588,91.4 568.8,100 571.9,103.8" fill="#ea736b" stroke="#ea736b"/>
<polygon points="571.9,103.8 568.8,100 548,109.4 551.2,113.5" fill="#e97169" stroke="#e97169"/>
<polygon points="605.6,83.4 602.7,80 585,87.8 588,91.4" fill="#ea7f74" stroke="#ea7f74"/>
<polygon points="588,91.4 585,87.8 565.8,96.2 568.8,100" fill="#ea7d73" stroke="#ea7d73"/>
<polygon points="568.8,100 565.8,96.2 544.8,105.4 548,109.4" fill="#ea7b71" stroke="#ea7b71"/>
<polygon points="602.7,80 599.8,76.7 582,84.3 585,87.8" fill="#eb887c" stroke="#eb887c"/>
<polygon points="585,87.8 582,84.3 562.7,92.5 565.8,96.2" fill="#eb867b" stroke="#eb867b"/>
<polygon points="565.8,96.2 562.7,92.5 541.7,101.3 544.8,105.4" fill="#eb8479" stroke="#eb8479"/>
<polygon points="599.8,76.7 596.9,73.4 579,80.8 582,84.3" fill="#ec9184" stroke="#ec9184"/>
<polygon points="582,84.3 579,80.8 559.6,88.6 562.7,92.5" fill="#ec9083" stroke="#ec9083"/>
<polygon points="562.7,92.5 559.6,88.6 538.6,97.1 541.7,101.3" fill="#ec8e82" stroke="#ec8e82"/>
<polygon points="596.9,73.4 594,70.1 576,77.3 579,80.8" fill="#ec9b8c" stroke="#ec9b8c"/>
<polygon points="579,80.8 576,77.3 556.6,84.7 559.6,88.6" fill="#ec998b" stroke="#ec998b"/>
<polygon points="559.6,88.6 556.6,84.7 535.5,92.6 538.6,97.1" fill="#ec998b" stroke="#ec998b"/>
<polygon points="594,70.1 591.1,66.8 573.1,73.8 576,77.3" fill="#eda495" stroke="#eda495"/>
<polygon points="576,77.3 573.1,73.8 553.6,80.7 556.6,84.7" fill="#eda394" stroke="#eda394"/>
<polygon points="556.6,84.7 553.6,80.7 532.4,87.9 535.5,92.6" fill="#eda495" stroke="#eda495"/>
<polygon points="591.1,66.8 588.2,63.6 570.2,70.3 573.1,73.8" fill="#edad9d" stroke="#edad9d"/>
<polygon points="573.1,73.8 570.2,70.3 550.6,76.6 553.6,80.7" fill="#edad9d" stroke="#edad9d"/>
<polygon points="553.6,80.7 550.6,76.6 529.3,82.8 532.4,87.9" fill="#edb09f" stroke="#edb09f"/>
<polygon points="588.2,63.6 585.4,60.4 567.3,66.9 570.2,70.3" fill="#eeb7a5" stroke="#eeb7a5"/>
<polygon points="570.2,70.3 567.3,66.9 547.6,72.4 550.6,76.6" fill="#eeb8a6" stroke="#eeb8a6"/>
<polygon points="550.6,76.6 547.6,72.4 526.2,77.6 529.3,82.8" fill="#eebcaa" stroke="#eebcaa"/>
<polygon points="585.4,60.4 582.5,57.1 564.4,63.4 567.3,66.9" fill="#eec0ad" stroke="#eec0ad"/>
<polygon points="567.3,66.9 564.4,63.4 544.7,68.3 547.6,72.4" fill="#eec2ae" stroke="#eec2ae"/>
<polygon points="547.6,72.4 544.7,68.3 523.1,72.5 526.2,77.6" fill="#efc8b4" stroke="#efc8b4"/>
<polygon points="582.5,57.1 579.7,53.9 561.5,60 564.4,63.4" fill="#efc8b4" stroke="#efc8b4"/>
<polygon points="564.4,63.4 561.5,60 541.7,64.4 544.7,68.3" fill="#efcbb6" stroke="#efcbb6"/>
<polygon points="544.7,68.3 541.7,64.4 520.1,67.8 523.1,72.5" fill="#f0d4bd" stroke="#f0d4bd"/>
<polygon points="579.7,53.9 576.9,50.8 558.6,56.7 561.5,60" fill="#efd1bb" stroke="#efd1bb"/>
<polygon points="561.5,60 558.6,56.7 538.8,60.8 541.7,64.4" fill="#f0d4bd" stroke="#f0d4bd"/>
<polygon points="541.7,64.4 538.8,60.8 517.1,63.9 520.1,67.8" fill="#f0dec5" stroke="#f0dec5"/>
<polygon points="576.9,50.8 574.1,47.6 555.8,53.3 558.6,56.7" fill="#f0dac2" stroke="#f0dac2"/>
<polygon points="558.6,56.7 555.8,53.3 535.9,57.5 538.8,60.8" fill="#f0ddc5" stroke="#f0ddc5"/>
<polygon points="538.8,60.8 535.9,57.5 514.2,60.8 517.1,63.9" fill="#f1e2ca" stroke="#f1e2ca"/>
<polygon points="574.1,47.6 571.4,44.5 553,50 555.8,53.3" fill="#f1e0c8" stroke="#f1e0c8"/>
<polygon points="555.8,53.3 553,50 533,54.5 535.9,57.5" fill="#f1e2c9" stroke="#f1e2c9"/>
<polygon points="535.9,57.5 533,54.5 511.2,58.2 514.2,60.8" fill="#f1e6cd" stroke="#f1e6cd"/>
<polygon points="571.4,44.5 568.6,41.3 550.2,46.8 553,50" fill="#f1e5cc" stroke="#f1e5cc"/>
<polygon points="553,50 550.2,46.8 530.2,51.5 533,54.5" fill="#f1e6cd" stroke="#f1e6cd"/>
<polygon points="533,54.5 530.2,51.5 508.4,55.9 511.2,58.2" fill="#f1e9d0" stroke="#f1e9d0"/>
<polygon points="568.6,41.3 565.9,38.2 547.4,43.6 550.2,46.8" fill="#f1e9d1" stroke="#f1e9d1"/>
<polygon points="550.2,46.8 547.4,43.6 527.3,48.6 530.2,51.5" fill="#f1ead1" stroke="#f1ead1"/>
<polygon points="530.2,51.5 527.3,48.6 505.5,53.5 508.4,55.9" fill="#f1ecd4" stroke="#f1ecd4"/>
</g>
<g stroke="#5a4a44" stroke-width="0.35" stroke-opacity="0.16" fill="none">
<polyline points="636,117.9 580.6,150.7"/>
<polyline points="633.5,115.1 577.9,147.3"/>
<polyline points="631.1,112.2 575.3,144"/>
<polyline points="628.6,109.4 572.6,140.6"/>
<polyline points="626.1,106.6 570,137.2"/>
<polyline points="623.7,103.9 567.3,133.9"/>
<polyline points="621.2,101.1 564.7,130.6"/>
<polyline points="618.8,98.3 562.1,127.3"/>
<polyline points="616.4,95.6 559.5,124"/>
<polyline points="614,92.8 556.9,120.8"/>
<polyline points="611.6,90.1 554.4,117.5"/>
<polyline points="609.2,87.4 551.8,114.3"/>
<polyline points="606.8,84.7 549.3,111"/>
<polyline points="604.5,82 546.7,107.8"/>
<polyline points="602.1,79.4 544.2,104.6"/>
<polyline points="599.8,76.7 541.7,101.3"/>
<polyline points="597.4,74.1 539.2,97.9"/>
<polyline points="595.1,71.4 536.7,94.4"/>
<polyline points="592.8,68.8 534.2,90.7"/>
<polyline points="590.5,66.2 531.8,86.9"/>
<polyline points="588.2,63.6 529.3,82.8"/>
<polyline points="585.9,61 526.8,78.6"/>
<polyline points="583.7,58.4 524.4,74.5"/>
<polyline points="581.4,55.9 521.9,70.5"/>
<polyline points="579.2,53.3 519.5,67"/>
<polyline points="576.9,50.8 517.1,63.9"/>
<polyline points="574.7,48.2 514.7,61.4"/>
<polyline points="572.5,45.7 512.4,59.2"/>
<polyline points="570.3,43.2 510.1,57.3"/>
<polyline points="568.1,40.7 507.8,55.5"/>
<polyline points="565.9,38.2 505.5,53.5"/>
<polyline points="636,117.9 565.9,38.2"/>
<polyline points="634.4,118.9 564.1,38.7"/>
<polyline points="632.8,119.8 562.3,39.3"/>
<polyline points="631.1,120.8 560.5,39.8"/>
<polyline points="629.4,121.8 558.6,40.3"/>
<polyline points="627.7,122.8 556.8,40.9"/>
<polyline points="626,123.8 554.9,41.4"/>
<polyline points="624.3,124.8 553.1,42"/>
<polyline points="622.6,125.9 551.2,42.5"/>
<polyline points="620.9,126.9 549.3,43"/>
<polyline points="619.1,127.9 547.4,43.6"/>
<polyline points="617.3,129 545.4,44.1"/>
<polyline points="615.5,130 543.5,44.6"/>
<polyline points="613.7,131.1 541.5,45.1"/>
<polyline points="611.9,132.2 539.5,45.6"/>
<polyline points="610.1,133.3 537.6,46.1"/>
<polyline points="608.2,134.4 535.5,46.6"/>
<polyline points="606.4,135.5 533.5,47.1"/>
<polyline points="604.5,136.6 531.5,47.6"/>
<polyline points="602.6,137.7 529.4,48.1"/>
<polyline points="600.7,138.8 527.3,48.6"/>
<polyline points="598.8,140 525.2,49.1"/>
<polyline points="596.8,141.1 523.1,49.6"/>
<polyline points="594.9,142.3 521,50"/>
<polyline points="592.9,143.5 518.8,50.5"/>
<polyline points="590.9,144.7 516.7,51"/>
<polyline points="588.9,145.9 514.5,51.5"/>
<polyline points="586.8,147.1 512.3,52"/>
<polyline points="584.8,148.3 510,52.5"/>
<polyline points="582.7,149.5 507.8,53"/>
<polyline points="580.6,150.7 505.5,53.5"/>
</g></g>
<g stroke-width="0.6">
<path d="M589 129.1h2.4M590.2 127.9v2.4" stroke="#b03030" stroke-opacity="0.7"/>
<path d="M553.7 46.5h2.4M554.9 45.3v2.4" stroke="#555" stroke-opacity="0.7"/>
<path d="M545.1 69h2.4M546.3 67.8v2.4" stroke="#555" stroke-opacity="0.7"/>
<path d="M564.1 69.3h2.4M565.3 68.1v2.4" stroke="#b03030" stroke-opacity="0.7"/>
<path d="M614.7 113.4h2.4M615.9 112.2v2.4" stroke="#b03030" stroke-opacity="0.7"/>
<path d="M595 93.8h2.4M596.2 92.6v2.4" stroke="#b03030" stroke-opacity="0.7"/>
<path d="M581.5 68.7h2.4M582.7 67.5v2.4" stroke="#b03030" stroke-opacity="0.7"/>
<path d="M578.5 66.4h2.4M579.7 65.2v2.4" stroke="#b03030" stroke-opacity="0.7"/>
<path d="M608.3 116.3h2.4M609.5 115.1v2.4" stroke="#555" stroke-opacity="0.7"/>
<path d="M564.6 128.7h2.4M565.8 127.5v2.4" stroke="#555" stroke-opacity="0.7"/>
<path d="M540.6 45.2h2.4M541.8 44v2.4" stroke="#b03030" stroke-opacity="0.7"/>
<path d="M533.6 57.2h2.4M534.8 56v2.4" stroke="#555" stroke-opacity="0.7"/>
<path d="M557 82.7h2.4M558.2 81.5v2.4" stroke="#555" stroke-opacity="0.7"/>
<path d="M579.6 136h2.4M580.8 134.8v2.4" stroke="#b03030" stroke-opacity="0.7"/>
<path d="M596.7 113.4h2.4M597.9 112.2v2.4" stroke="#555" stroke-opacity="0.7"/>
<path d="M550.1 61.1h2.4M551.3 59.9v2.4" stroke="#555" stroke-opacity="0.7"/>
<path d="M572 52.9h2.4M573.2 51.7v2.4" stroke="#555" stroke-opacity="0.7"/>
<path d="M593 137.9h2.4M594.2 136.7v2.4" stroke="#555" stroke-opacity="0.7"/>
<path d="M591.9 76h2.4M593.1 74.8v2.4" stroke="#555" stroke-opacity="0.7"/>
<path d="M556 71.7h2.4M557.2 70.5v2.4" stroke="#555" stroke-opacity="0.7"/>
<path d="M576 87.4h2.4M577.2 86.2v2.4" stroke="#b03030" stroke-opacity="0.7"/>
<path d="M603 123h2.4M604.2 121.8v2.4" stroke="#555" stroke-opacity="0.7"/>
<path d="M517.7 60.2h2.4M518.9 59v2.4" stroke="#555" stroke-opacity="0.7"/>
<path d="M586.2 125.7h2.4M587.4 124.5v2.4" stroke="#b03030" stroke-opacity="0.7"/>
<path d="M595.8 137.6h2.4M597 136.4v2.4" stroke="#b03030" stroke-opacity="0.7"/>
<path d="M585.5 90.5h2.4M586.7 89.3v2.4" stroke="#b03030" stroke-opacity="0.7"/>
<path d="M554.2 46.5h2.4M555.4 45.3v2.4" stroke="#555" stroke-opacity="0.7"/>
<path d="M587.1 119.1h2.4M588.3 117.9v2.4" stroke="#555" stroke-opacity="0.7"/>
<path d="M595.6 106h2.4M596.8 104.8v2.4" stroke="#555" stroke-opacity="0.7"/>
<path d="M555.9 118.2h2.4M557.1 117v2.4" stroke="#b03030" stroke-opacity="0.7"/>
<path d="M561.4 142.3h2.2M562.5 141.2v2.2" stroke="#e06060" stroke-opacity="0.6"/>
<path d="M624.5 133.7h2.2M625.6 132.6v2.2" stroke="#e06060" stroke-opacity="0.6"/>
<path d="M559.2 103.6h2.2M560.3 102.5v2.2" stroke="#888" stroke-opacity="0.6"/>
<path d="M554.5 66.7h2.2M555.6 65.6v2.2" stroke="#e06060" stroke-opacity="0.6"/>
<path d="M561.4 88.2h2.2M562.5 87.1v2.2" stroke="#888" stroke-opacity="0.6"/>
<path d="M550.7 127.3h2.2M551.8 126.2v2.2" stroke="#e06060" stroke-opacity="0.6"/>
<path d="M536.8 67.4h2.2M537.9 66.3v2.2" stroke="#e06060" stroke-opacity="0.6"/>
<path d="M536.8 110h2.2M537.9 108.9v2.2" stroke="#888" stroke-opacity="0.6"/>
<path d="M582.5 120h2.2M583.6 118.9v2.2" stroke="#e06060" stroke-opacity="0.6"/>
<path d="M582.3 145h2.2M583.4 143.9v2.2" stroke="#e06060" stroke-opacity="0.6"/>
<path d="M572.7 121.3h2.2M573.8 120.2v2.2" stroke="#888" stroke-opacity="0.6"/>
<path d="M596.4 124.4h2.2M597.5 123.3v2.2" stroke="#e06060" stroke-opacity="0.6"/>
<path d="M610.8 111.2h2.2M611.9 110.1v2.2" stroke="#e06060" stroke-opacity="0.6"/>
<path d="M575.1 88h2.2M576.2 86.9v2.2" stroke="#888" stroke-opacity="0.6"/>
<path d="M556.2 127h2.2M557.3 125.9v2.2" stroke="#e06060" stroke-opacity="0.6"/>
<path d="M610.1 139.7h2.2M611.2 138.6v2.2" stroke="#e06060" stroke-opacity="0.6"/>
<path d="M520.9 129.2h2.2M522 128.1v2.2" stroke="#888" stroke-opacity="0.6"/>
<path d="M539.9 118.4h2.2M541 117.3v2.2" stroke="#888" stroke-opacity="0.6"/>
<path d="M547.5 113.5h2.2M548.6 112.4v2.2" stroke="#888" stroke-opacity="0.6"/>
<path d="M565.7 59.3h2.2M566.8 58.2v2.2" stroke="#e06060" stroke-opacity="0.6"/>
<path d="M605 127.2h2.2M606.1 126.1v2.2" stroke="#e06060" stroke-opacity="0.6"/>
<path d="M558.4 122.9h2.2M559.5 121.8v2.2" stroke="#e06060" stroke-opacity="0.6"/>
<path d="M558.2 146.5h2.2M559.3 145.4v2.2" stroke="#888" stroke-opacity="0.6"/>
<path d="M588.5 65.4h2.2M589.6 64.3v2.2" stroke="#e06060" stroke-opacity="0.6"/>
<path d="M510.4 61.6h2.2M511.5 60.5v2.2" stroke="#888" stroke-opacity="0.6"/>
</g>
<g>
<circle cx="505.5" cy="53.1" r="0.85" fill="#444"/>
<circle cx="507.4" cy="54.8" r="0.85" fill="#555"/>
<circle cx="509.3" cy="56.3" r="0.85" fill="#333"/>
<circle cx="511.3" cy="57.9" r="0.85" fill="#555"/>
<circle cx="513.2" cy="59.6" r="0.85" fill="#555"/>
<circle cx="515.2" cy="61.4" r="0.85" fill="#444"/>
<circle cx="517.2" cy="63.6" r="0.85" fill="#333"/>
<circle cx="519.2" cy="66.2" r="0.85" fill="#333"/>
<circle cx="521.2" cy="69.1" r="0.85" fill="#333"/>
<circle cx="525.3" cy="75.7" r="0.85" fill="#555"/>
<circle cx="529.5" cy="82.7" r="0.85" fill="#333"/>
<circle cx="531.6" cy="86.2" r="0.85" fill="#555"/>
<circle cx="533.6" cy="89.5" r="0.85" fill="#555"/>
<circle cx="537.8" cy="95.6" r="0.85" fill="#555"/>
<circle cx="544.1" cy="104.1" r="0.85" fill="#555"/>
<circle cx="548.3" cy="109.5" r="0.85" fill="#333"/>
<circle cx="550.5" cy="112.2" r="0.85" fill="#444"/>
<circle cx="554.8" cy="117.6" r="0.85" fill="#444"/>
<circle cx="561.3" cy="125.9" r="0.85" fill="#444"/>
<circle cx="565.6" cy="131.4" r="0.85" fill="#333"/>
<circle cx="572.3" cy="139.8" r="0.85" fill="#333"/>
<circle cx="574.5" cy="142.6" r="0.85" fill="#555"/>
<circle cx="579" cy="148.3" r="0.85" fill="#555"/>
</g>
<g stroke="#3a3a3a" stroke-width="0.7" fill="none">
<polyline points="487.7,26 494.2,138.1 580.8,175.7 651.8,133.3"/>
<line x1="491" y1="138.1" x2="494.2" y2="138.1"/>
<line x1="490" y1="120.9" x2="493.2" y2="120.9"/>
<line x1="489" y1="103.4" x2="492.2" y2="103.4"/>
<line x1="487.9" y1="85.3" x2="491.1" y2="85.3"/>
<line x1="486.8" y1="66.8" x2="490" y2="66.8"/>
<line x1="485.7" y1="47.9" x2="488.9" y2="47.9"/>
<line x1="484.6" y1="28.4" x2="487.8" y2="28.4"/>
<line x1="501.9" y1="141.4" x2="498.9" y2="142.8"/>
<line x1="514.7" y1="147" x2="511.7" y2="148.4"/>
<line x1="528.1" y1="152.8" x2="525.1" y2="154.3"/>
<line x1="542.2" y1="158.9" x2="539.2" y2="160.5"/>
<line x1="557" y1="165.3" x2="554" y2="167"/>
<line x1="572.6" y1="172.1" x2="569.6" y2="173.8"/>
<line x1="590.7" y1="169.8" x2="594.2" y2="171.2"/>
<line x1="602.7" y1="162.6" x2="606.2" y2="164"/>
<line x1="614.1" y1="155.8" x2="617.6" y2="157.1"/>
<line x1="624.9" y1="149.3" x2="628.3" y2="150.6"/>
<line x1="635.2" y1="143.2" x2="638.6" y2="144.4"/>
<line x1="645" y1="137.4" x2="648.3" y2="138.5"/>
</g>
<text x="490.4" y="141.4" style="font-size:9.3px" text-anchor="end">777</text>
<text x="489.4" y="124.2" style="font-size:9.3px" text-anchor="end">782</text>
<text x="488.4" y="106.7" style="font-size:9.3px" text-anchor="end">787</text>
<text x="487.3" y="88.6" style="font-size:9.3px" text-anchor="end">792</text>
<text x="486.2" y="70.1" style="font-size:9.3px" text-anchor="end">797</text>
<text x="485.1" y="51.2" style="font-size:9.3px" text-anchor="end">802</text>
<text x="484" y="31.7" style="font-size:9.3px" text-anchor="end">807</text>
<text x="501.4" y="153.7" style="font-size:8.8px" text-anchor="middle">30</text>
<text x="514.2" y="159.3" style="font-size:8.8px" text-anchor="middle">27</text>
<text x="527.6" y="165.1" style="font-size:8.8px" text-anchor="middle">24</text>
<text x="541.7" y="171.2" style="font-size:8.8px" text-anchor="middle">21</text>
<text x="556.5" y="177.6" style="font-size:8.8px" text-anchor="middle">18</text>
<text x="572.1" y="184.4" style="font-size:8.8px" text-anchor="middle">15</text>
<text x="597.2" y="180.9" style="font-size:8.8px" text-anchor="middle">2.0</text>
<text x="609.2" y="173.7" style="font-size:8.8px" text-anchor="middle">1.8</text>
<text x="620.6" y="166.9" style="font-size:8.8px" text-anchor="middle">1.6</text>
<text x="631.4" y="160.4" style="font-size:8.8px" text-anchor="middle">1.4</text>
<text x="641.7" y="154.3" style="font-size:8.8px" text-anchor="middle">1.2</text>
<text x="651.5" y="148.5" style="font-size:8.8px" text-anchor="middle">1.0</text>
<text x="467.2" y="18.5" style="font-size:17px">c</text>
<text x="455.6" y="21" style="font-size:10.8px" textLength="129.4" lengthAdjust="spacingAndGlyphs" transform="rotate(85.5 455.6 21)">Peak cladding temperature (K)</text>
<text x="485.2" y="159.4" style="font-size:10.8px" textLength="92.5" lengthAdjust="spacingAndGlyphs" transform="rotate(23.5 485.2 159.4)">Linear power (kW/m)</text>
<text x="606.6" y="190.3" style="font-size:9.5px" textLength="67" lengthAdjust="spacingAndGlyphs" transform="rotate(-33.5 606.6 190.3)">Flow rate (m/s)</text>
<circle cx="501.6" cy="2.1" r="1.05" fill="#f07070"/>
<circle cx="502" cy="13.7" r="1.05" fill="#888"/>
<rect x="491.4" y="20.1" width="20.7" height="9.4" fill="url(#rg)"/>
<rect x="491.4" y="31" width="20.7" height="9.2" fill="url(#gg)"/>
<text x="513.9" y="4.6" style="font-size:7.8px" textLength="43" lengthAdjust="spacingAndGlyphs">Training data</text>
<text x="513.9" y="16.1" style="font-size:7.8px" textLength="40.4" lengthAdjust="spacingAndGlyphs">Testing data</text>
<text x="513.9" y="28" style="font-size:7.8px" textLength="91" lengthAdjust="spacingAndGlyphs">Peak cladding temperature</text>
<text x="513.9" y="38.8" style="font-size:7.8px" textLength="53" lengthAdjust="spacingAndGlyphs">Prediction error</text>
<text x="492.9" y="45.4" style="font-size:5.8px" text-anchor="middle">0</text>
<text x="511.6" y="45.4" style="font-size:5.8px" text-anchor="middle">5</text>
<ellipse cx="517.5" cy="139.8" rx="13.2" ry="5.8" fill="none" stroke="#a02030" stroke-width="1" stroke-dasharray="3 1.8" transform="rotate(18 517.5 139.8)"/>
<rect x="503.8" y="50.4" width="30.7" height="30.8" fill="none" stroke="#333" stroke-width="0.8"/>
<rect x="604.4" y="11.4" width="69.2" height="61.4" fill="#fff" stroke="#444" stroke-width="0.9"/>
<g stroke="#e4e4e4" stroke-width="0.5" fill="none"><path d="M622 22V62M641 18V58M658 15V54M607 62L628 68L673 56"/></g>
<polygon points="607.1,36 673.6,15.5 673.6,72.8 660,71.5 625.3,53.3 616.2,43.3" fill="url(#ic)"/>
<g stroke="#555" stroke-width="0.5" stroke-opacity="0.15"><path d="M610.3 37.8L673.6 18.4"/><path d="M613.6 39.6L673.6 21.3"/><path d="M616.9 41.4L673.6 24.2"/><path d="M620.2 43.2L673.6 27.1"/><path d="M623.5 45L673.6 30"/><path d="M626.8 46.8L673.6 32.9"/><path d="M630.1 48.6L673.6 35.8"/><path d="M633.4 50.4L673.6 38.7"/><path d="M636.7 52.2L673.6 41.6"/><path d="M640 54L673.6 44.5"/><path d="M643.3 55.8L673.6 47.4"/><path d="M646.6 57.6L673.6 50.3"/><path d="M649.9 59.4L673.6 53.2"/><path d="M653.2 61.2L673.6 56.1"/><path d="M656.5 63L673.6 59"/><path d="M659.8 64.8L673.6 61.9"/><path d="M663.1 66.6L673.6 64.8"/><path d="M666.4 68.4L673.6 67.7"/><path d="M669.7 70.2L673.6 70.6"/></g>
<path d="M609 37.5L613 40.5M614.5 41.5L618 44" stroke="#555" stroke-width="0.9"/>
<g stroke="#d82020" stroke-width="1.1" marker-end="url(#ah)"><path d="M625 39.2L619.3 44"/><path d="M635.3 46L626.5 53.5"/><path d="M643.2 51.4L640 60.2"/><path d="M655.9 55.1L655 65.8"/></g>
<text x="608.6" y="20" style="font-size:8px" textLength="57.7" lengthAdjust="spacingAndGlyphs">Data volume=400</text>
<text x="628.8" y="84.2" style="font-size:7.8px;font-weight:bold;fill:#8c1c2c;stroke:#8c1c2c" textLength="52.5" lengthAdjust="spacingAndGlyphs">Error escalation</text>
<text x="628.8" y="93.5" style="font-size:7.8px;font-weight:bold;fill:#8c1c2c;stroke:#8c1c2c" textLength="36.3" lengthAdjust="spacingAndGlyphs">induced by</text>
<text x="628.8" y="102.2" style="font-size:7.8px;font-weight:bold;fill:#8c1c2c;stroke:#8c1c2c" textLength="36.7" lengthAdjust="spacingAndGlyphs">overfitting.</text>
<g stroke="#dcdcdc" stroke-width="0.5" fill="none">
<polyline points="40,331.8 116.9,298.6 202.8,326.9"/>
<polyline points="39,314.1 116.8,283 203.8,309.5"/>
<polyline points="38,295.9 116.8,267 204.8,291.7"/>
<polyline points="36.9,277.3 116.7,250.7 205.9,273.4"/>
<polyline points="35.8,258.2 116.7,234.1 206.9,254.6"/>
<polyline points="34.6,238.6 116.6,217.1 208,235.4"/>
<polyline points="33.5,218.5 116.5,199.6 209.1,215.7"/>
<polyline points="44.8,213.5 50.5,327.3 139.7,364.5"/>
<polyline points="58.8,210.4 63.4,321.7 152.1,357.1"/>
<polyline points="72.1,207.4 75.7,316.4 163.9,350.1"/>
<polyline points="84.8,204.6 87.4,311.3 175.1,343.4"/>
<polyline points="96.9,201.9 98.6,306.5 185.7,337.1"/>
<polyline points="108.4,199.3 109.4,301.8 195.8,331.1"/>
<polyline points="124.9,199 124.7,301.2 48,335.3"/>
<polyline points="138.7,201.3 137.6,305.4 61.2,341"/>
<polyline points="153.2,203.8 151,309.8 75.1,347"/>
<polyline points="168.3,206.3 165,314.4 89.6,353.3"/>
<polyline points="184,209 179.6,319.2 104.9,360"/>
<polyline points="200.6,211.8 194.8,324.2 121,366.9"/>
</g>
<g stroke="#bdbdbd" stroke-width="0.6" fill="none">
<polyline points="33.3,216.1 116.5,197.5 209.3,213.3 202.8,326.9"/>
</g>
<g stroke="#9a9a9a" stroke-width="0.6" fill="none">
<polyline points="116.5,197.5 116.9,298.6"/>
<polyline points="40,331.8 116.9,298.6 202.8,326.9"/>
</g>
<g>
<ellipse cx="64.2" cy="328.8" rx="2.4" ry="1.4" fill="#444444" transform="rotate(23.5 64.2 328.8)"/>
<ellipse cx="76" cy="333.5" rx="2.4" ry="1.4" fill="#888888" transform="rotate(23.5 76 333.5)"/>
<ellipse cx="88.3" cy="337.4" rx="2.4" ry="1.4" fill="#444444" transform="rotate(23.5 88.3 337.4)"/>
<ellipse cx="100.4" cy="343.5" rx="2.4" ry="1.4" fill="#888888" transform="rotate(23.5 100.4 343.5)"/>
<ellipse cx="113.1" cy="347.5" rx="2.4" ry="1.4" fill="#999999" transform="rotate(23.5 113.1 347.5)"/>
<ellipse cx="126.3" cy="354.1" rx="2.4" ry="1.4" fill="#666666" transform="rotate(23.5 126.3 354.1)"/>
<ellipse cx="82" cy="325.7" rx="2.4" ry="1.4" fill="#aaaaaa" transform="rotate(23.5 82 325.7)"/>
<ellipse cx="92.2" cy="329.6" rx="2.4" ry="1.4" fill="#888888" transform="rotate(23.5 92.2 329.6)"/>
<ellipse cx="104.7" cy="334.5" rx="2.4" ry="1.4" fill="#222222" transform="rotate(23.5 104.7 334.5)"/>
<ellipse cx="116.2" cy="340.1" rx="2.4" ry="1.4" fill="#bbbbbb" transform="rotate(23.5 116.2 340.1)"/>
<ellipse cx="128.4" cy="344.5" rx="2.4" ry="1.4" fill="#888888" transform="rotate(23.5 128.4 344.5)"/>
<ellipse cx="143" cy="350" rx="2.4" ry="1.4" fill="#aaaaaa" transform="rotate(23.5 143 350)"/>
<ellipse cx="83.3" cy="318.8" rx="2.4" ry="1.4" fill="#aaaaaa" transform="rotate(23.5 83.3 318.8)"/>
<ellipse cx="97.3" cy="323.7" rx="2.4" ry="1.4" fill="#666666" transform="rotate(23.5 97.3 323.7)"/>
<ellipse cx="108.9" cy="328.1" rx="2.4" ry="1.4" fill="#222222" transform="rotate(23.5 108.9 328.1)"/>
<ellipse cx="132.1" cy="337.5" rx="2.4" ry="1.4" fill="#bbbbbb" transform="rotate(23.5 132.1 337.5)"/>
<ellipse cx="146.6" cy="342.4" rx="2.4" ry="1.4" fill="#333333" transform="rotate(23.5 146.6 342.4)"/>
<ellipse cx="101.9" cy="316.7" rx="2.4" ry="1.4" fill="#444444" transform="rotate(23.5 101.9 316.7)"/>
<ellipse cx="111" cy="320.7" rx="2.4" ry="1.4" fill="#333333" transform="rotate(23.5 111 320.7)"/>
<ellipse cx="123.8" cy="325.5" rx="2.4" ry="1.4" fill="#222222" transform="rotate(23.5 123.8 325.5)"/>
<ellipse cx="148.8" cy="334.3" rx="2.4" ry="1.4" fill="#888888" transform="rotate(23.5 148.8 334.3)"/>
<ellipse cx="164.3" cy="339.5" rx="2.4" ry="1.4" fill="#999999" transform="rotate(23.5 164.3 339.5)"/>
<ellipse cx="116.7" cy="314.4" rx="2.4" ry="1.4" fill="#aaaaaa" transform="rotate(23.5 116.7 314.4)"/>
<ellipse cx="125.6" cy="318.4" rx="2.4" ry="1.4" fill="#aaaaaa" transform="rotate(23.5 125.6 318.4)"/>
<ellipse cx="137.6" cy="322.4" rx="2.4" ry="1.4" fill="#999999" transform="rotate(23.5 137.6 322.4)"/>
<ellipse cx="166.6" cy="331.8" rx="2.4" ry="1.4" fill="#888888" transform="rotate(23.5 166.6 331.8)"/>
<ellipse cx="118.9" cy="307.5" rx="2.4" ry="1.4" fill="#aaaaaa" transform="rotate(23.5 118.9 307.5)"/>
<ellipse cx="131" cy="311.9" rx="2.4" ry="1.4" fill="#bbbbbb" transform="rotate(23.5 131 311.9)"/>
<ellipse cx="154.3" cy="320.3" rx="2.4" ry="1.4" fill="#222222" transform="rotate(23.5 154.3 320.3)"/>
<ellipse cx="165.3" cy="324.7" rx="2.4" ry="1.4" fill="#999999" transform="rotate(23.5 165.3 324.7)"/>
<ellipse cx="180.9" cy="329.2" rx="2.4" ry="1.4" fill="#999999" transform="rotate(23.5 180.9 329.2)"/>
<ellipse cx="57.4" cy="331.8" rx="2.4" ry="1.35" fill="#a2a2a2" transform="rotate(23.5 57.4 331.8)"/>
<ellipse cx="60.4" cy="333.1" rx="2.4" ry="1.35" fill="#b1b1b1" transform="rotate(23.5 60.4 333.1)"/>
<ellipse cx="64.4" cy="334.8" rx="2.4" ry="1.35" fill="#b8b8b8" transform="rotate(23.5 64.4 334.8)"/>
<ellipse cx="66.8" cy="335.8" rx="3.2" ry="1.35" fill="#b6b6b6" transform="rotate(23.5 66.8 335.8)"/>
<ellipse cx="69.3" cy="336.9" rx="3.2" ry="1.35" fill="#c5c5c5" transform="rotate(23.5 69.3 336.9)"/>
<ellipse cx="71.8" cy="337.9" rx="2.4" ry="1.35" fill="#a2a2a2" transform="rotate(23.5 71.8 337.9)"/>
<ellipse cx="76.8" cy="340" rx="2.8" ry="1.35" fill="#a5a5a5" transform="rotate(23.5 76.8 340)"/>
<ellipse cx="81" cy="341.8" rx="2.8" ry="1.35" fill="#b8b8b8" transform="rotate(23.5 81 341.8)"/>
<ellipse cx="83.6" cy="342.9" rx="2.8" ry="1.35" fill="#a4a4a4" transform="rotate(23.5 83.6 342.9)"/>
<ellipse cx="88.8" cy="345.1" rx="2.8" ry="1.35" fill="#b3b3b3" transform="rotate(23.5 88.8 345.1)"/>
<ellipse cx="91.5" cy="346.2" rx="3.2" ry="1.35" fill="#a5a5a5" transform="rotate(23.5 91.5 346.2)"/>
<ellipse cx="95.9" cy="348" rx="2.8" ry="1.35" fill="#bdbdbd" transform="rotate(23.5 95.9 348)"/>
<ellipse cx="99.3" cy="349.5" rx="2.4" ry="1.35" fill="#b4b4b4" transform="rotate(23.5 99.3 349.5)"/>
<ellipse cx="103.8" cy="351.4" rx="3.2" ry="1.35" fill="#a5a5a5" transform="rotate(23.5 103.8 351.4)"/>
<ellipse cx="106.6" cy="352.6" rx="2.8" ry="1.35" fill="#bebebe" transform="rotate(23.5 106.6 352.6)"/>
<ellipse cx="109.4" cy="353.8" rx="2.8" ry="1.35" fill="#bbbbbb" transform="rotate(23.5 109.4 353.8)"/>
<ellipse cx="114.1" cy="355.7" rx="2.8" ry="1.35" fill="#c4c4c4" transform="rotate(23.5 114.1 355.7)"/>
<ellipse cx="67.5" cy="336.1" rx="2.6" ry="1.5" fill="#111" transform="rotate(23.5 67.5 336.1)"/>
<ellipse cx="70.2" cy="337.2" rx="2.6" ry="1.5" fill="#111" transform="rotate(23.5 70.2 337.2)"/>
<ellipse cx="72.9" cy="338.4" rx="2.6" ry="1.5" fill="#111" transform="rotate(23.5 72.9 338.4)"/>
<ellipse cx="75.6" cy="339.5" rx="2.6" ry="1.5" fill="#111" transform="rotate(23.5 75.6 339.5)"/>
<ellipse cx="78.4" cy="340.7" rx="2.6" ry="1.5" fill="#111" transform="rotate(23.5 78.4 340.7)"/>
<ellipse cx="81.2" cy="341.9" rx="2.6" ry="1.5" fill="#111" transform="rotate(23.5 81.2 341.9)"/>
<ellipse cx="84" cy="343.1" rx="2.6" ry="1.5" fill="#111" transform="rotate(23.5 84 343.1)"/>
<ellipse cx="86.9" cy="344.3" rx="2.6" ry="1.5" fill="#222" transform="rotate(23.5 86.9 344.3)"/>
<ellipse cx="89.8" cy="345.5" rx="2.6" ry="1.5" fill="#333" transform="rotate(23.5 89.8 345.5)"/>
<ellipse cx="140.1" cy="351.2" rx="2.2" ry="1.5" fill="#111" transform="rotate(23.5 140.1 351.2)"/>
<ellipse cx="149.4" cy="348.5" rx="2.2" ry="1.5" fill="#111" transform="rotate(23.5 149.4 348.5)"/>
<ellipse cx="178.5" cy="329.4" rx="2.4" ry="1.5" fill="#111" transform="rotate(23.5 178.5 329.4)"/>
<ellipse cx="184.6" cy="328.2" rx="2.4" ry="1.5" fill="#111" transform="rotate(23.5 184.6 328.2)"/>
</g>
<line x1="121.7" y1="225.5" x2="170.9" y2="280.9" stroke="#e07a7a" stroke-width="0.9" stroke-dasharray="1.6 1.4"/>
<line x1="47.9" y1="315.3" x2="44.2" y2="245.4" stroke="#e88" stroke-width="0.9" stroke-dasharray="0.9 1.3"/>
<g opacity="0.82">
<g stroke-width="0.5">
<polygon points="186.5,311 183.3,307.3 165.7,317.5 169,321.3" fill="#e43033" stroke="#e43033"/>
<polygon points="169,321.3 165.7,317.5 146.7,328.5 150,332.6" fill="#e42e31" stroke="#e42e31"/>
<polygon points="150,332.6 146.7,328.5 125.8,340.5 129.3,344.9" fill="#e32b2f" stroke="#e32b2f"/>
<polygon points="183.3,307.3 180.1,303.7 162.5,313.6 165.7,317.5" fill="#e43738" stroke="#e43738"/>
<polygon points="165.7,317.5 162.5,313.6 143.3,324.4 146.7,328.5" fill="#e43436" stroke="#e43436"/>
<polygon points="146.7,328.5 143.3,324.4 122.4,336.1 125.8,340.5" fill="#e43235" stroke="#e43235"/>
<polygon points="180.1,303.7 176.9,300.1 159.2,309.8 162.5,313.6" fill="#e53d3e" stroke="#e53d3e"/>
<polygon points="162.5,313.6 159.2,309.8 139.9,320.3 143.3,324.4" fill="#e53b3c" stroke="#e53b3c"/>
<polygon points="143.3,324.4 139.9,320.3 119,331.8 122.4,336.1" fill="#e5393a" stroke="#e5393a"/>
<polygon points="176.9,300.1 173.8,296.5 156,306 159.2,309.8" fill="#e54443" stroke="#e54443"/>
<polygon points="159.2,309.8 156,306 136.6,316.3 139.9,320.3" fill="#e54241" stroke="#e54241"/>
<polygon points="139.9,320.3 136.6,316.3 115.6,327.5 119,331.8" fill="#e53f3f" stroke="#e53f3f"/>
<polygon points="173.8,296.5 170.6,292.9 152.7,302.2 156,306" fill="#e64a48" stroke="#e64a48"/>
<polygon points="156,306 152.7,302.2 133.3,312.3 136.6,316.3" fill="#e64846" stroke="#e64846"/>
<polygon points="136.6,316.3 133.3,312.3 112.2,323.2 115.6,327.5" fill="#e64645" stroke="#e64645"/>
<polygon points="170.6,292.9 167.5,289.3 149.5,298.4 152.7,302.2" fill="#e7514d" stroke="#e7514d"/>
<polygon points="152.7,302.2 149.5,298.4 130.1,308.3 133.3,312.3" fill="#e64f4b" stroke="#e64f4b"/>
<polygon points="133.3,312.3 130.1,308.3 108.8,319 112.2,323.2" fill="#e64d4a" stroke="#e64d4a"/>
<polygon points="167.5,289.3 164.4,285.8 146.4,294.7 149.5,298.4" fill="#e75a55" stroke="#e75a55"/>
<polygon points="149.5,298.4 146.4,294.7 126.8,304.3 130.1,308.3" fill="#e75753" stroke="#e75753"/>
<polygon points="130.1,308.3 126.8,304.3 105.5,314.8 108.8,319" fill="#e75550" stroke="#e75550"/>
<polygon points="164.4,285.8 161.3,282.3 143.2,290.9 146.4,294.7" fill="#e8635d" stroke="#e8635d"/>
<polygon points="146.4,294.7 143.2,290.9 123.6,300.3 126.8,304.3" fill="#e8615b" stroke="#e8615b"/>
<polygon points="126.8,304.3 123.6,300.3 102.2,310.6 105.5,314.8" fill="#e85e59" stroke="#e85e59"/>
<polygon points="161.3,282.3 158.2,278.8 140,287.2 143.2,290.9" fill="#e96c65" stroke="#e96c65"/>
<polygon points="143.2,290.9 140,287.2 120.3,296.4 123.6,300.3" fill="#e96a63" stroke="#e96a63"/>
<polygon points="123.6,300.3 120.3,296.4 98.9,306.4 102.2,310.6" fill="#e96861" stroke="#e96861"/>
<polygon points="158.2,278.8 155.1,275.3 136.9,283.6 140,287.2" fill="#ea766d" stroke="#ea766d"/>
<polygon points="140,287.2 136.9,283.6 117.1,292.5 120.3,296.4" fill="#ea736b" stroke="#ea736b"/>
<polygon points="120.3,296.4 117.1,292.5 95.6,302.3 98.9,306.4" fill="#e97169" stroke="#e97169"/>
<polygon points="155.1,275.3 152.1,271.9 133.8,279.9 136.9,283.6" fill="#ea7f74" stroke="#ea7f74"/>
<polygon points="136.9,283.6 133.8,279.9 114,288.6 117.1,292.5" fill="#ea7d73" stroke="#ea7d73"/>
<polygon points="117.1,292.5 114,288.6 92.4,298.1 95.6,302.3" fill="#ea7b71" stroke="#ea7b71"/>
<polygon points="152.1,271.9 149.1,268.4 130.7,276.3 133.8,279.9" fill="#eb887c" stroke="#eb887c"/>
<polygon points="133.8,279.9 130.7,276.3 110.8,284.8 114,288.6" fill="#eb867b" stroke="#eb867b"/>
<polygon points="114,288.6 110.8,284.8 89.1,294 92.4,298.1" fill="#eb8479" stroke="#eb8479"/>
<polygon points="149.1,268.4 146.1,265 127.6,272.7 130.7,276.3" fill="#ec9184" stroke="#ec9184"/>
<polygon points="130.7,276.3 127.6,272.7 107.7,281 110.8,284.8" fill="#ec8f83" stroke="#ec8f83"/>
<polygon points="110.8,284.8 107.7,281 85.9,290 89.1,294" fill="#ec8d81" stroke="#ec8d81"/>
<polygon points="146.1,265 143.1,261.6 124.6,269.1 127.6,272.7" fill="#ec9b8c" stroke="#ec9b8c"/>
<polygon points="127.6,272.7 124.6,269.1 104.5,277.2 107.7,281" fill="#ec998b" stroke="#ec998b"/>
<polygon points="107.7,281 104.5,277.2 82.7,285.9 85.9,290" fill="#ec9789" stroke="#ec9789"/>
<polygon points="143.1,261.6 140.1,258.2 121.5,265.5 124.6,269.1" fill="#eda495" stroke="#eda495"/>
<polygon points="124.6,269.1 121.5,265.5 101.4,273.4 104.5,277.2" fill="#eda293" stroke="#eda293"/>
<polygon points="104.5,277.2 101.4,273.4 79.6,281.9 82.7,285.9" fill="#eda192" stroke="#eda192"/>
<polygon points="140.1,258.2 137.2,254.9 118.5,262 121.5,265.5" fill="#edad9d" stroke="#edad9d"/>
<polygon points="121.5,265.5 118.5,262 98.3,269.6 101.4,273.4" fill="#edac9b" stroke="#edac9b"/>
<polygon points="101.4,273.4 98.3,269.6 76.4,277.9 79.6,281.9" fill="#edaa9a" stroke="#edaa9a"/>
<polygon points="137.2,254.9 134.2,251.5 115.5,258.4 118.5,262" fill="#eeb7a5" stroke="#eeb7a5"/>
<polygon points="118.5,262 115.5,258.4 95.3,265.9 98.3,269.6" fill="#eeb5a4" stroke="#eeb5a4"/>
<polygon points="98.3,269.6 95.3,265.9 73.3,274 76.4,277.9" fill="#eeb4a3" stroke="#eeb4a3"/>
<polygon points="134.2,251.5 131.3,248.2 112.5,254.9 115.5,258.4" fill="#eec0ad" stroke="#eec0ad"/>
<polygon points="115.5,258.4 112.5,254.9 92.2,262.2 95.3,265.9" fill="#eebfac" stroke="#eebfac"/>
<polygon points="95.3,265.9 92.2,262.2 70.2,270 73.3,274" fill="#eebdab" stroke="#eebdab"/>
<polygon points="131.3,248.2 128.4,244.9 109.6,251.4 112.5,254.9" fill="#efc8b4" stroke="#efc8b4"/>
<polygon points="112.5,254.9 109.6,251.4 89.2,258.5 92.2,262.2" fill="#efc7b3" stroke="#efc7b3"/>
<polygon points="92.2,262.2 89.2,258.5 67.1,266.1 70.2,270" fill="#efc6b2" stroke="#efc6b2"/>
<polygon points="128.4,244.9 125.5,241.6 106.6,248 109.6,251.4" fill="#efd1bb" stroke="#efd1bb"/>
<polygon points="109.6,251.4 106.6,248 86.2,254.8 89.2,258.5" fill="#efd0ba" stroke="#efd0ba"/>
<polygon points="89.2,258.5 86.2,254.8 64,262.2 67.1,266.1" fill="#efcfb9" stroke="#efcfb9"/>
<polygon points="125.5,241.6 122.6,238.4 103.7,244.5 106.6,248" fill="#f0dac2" stroke="#f0dac2"/>
<polygon points="106.6,248 103.7,244.5 83.2,251.1 86.2,254.8" fill="#f0d9c1" stroke="#f0d9c1"/>
<polygon points="86.2,254.8 83.2,251.1 60.9,258.3 64,262.2" fill="#f0d8c1" stroke="#f0d8c1"/>
<polygon points="122.6,238.4 119.8,235.1 100.8,241.1 103.7,244.5" fill="#f1e0c8" stroke="#f1e0c8"/>
<polygon points="103.7,244.5 100.8,241.1 80.2,247.5 83.2,251.1" fill="#f1e0c8" stroke="#f1e0c8"/>
<polygon points="83.2,251.1 80.2,247.5 57.9,254.5 60.9,258.3" fill="#f0e0c7" stroke="#f0e0c7"/>
<polygon points="119.8,235.1 116.9,231.9 97.9,237.7 100.8,241.1" fill="#f1e5cc" stroke="#f1e5cc"/>
<polygon points="100.8,241.1 97.9,237.7 77.2,243.9 80.2,247.5" fill="#f1e4cc" stroke="#f1e4cc"/>
<polygon points="80.2,247.5 77.2,243.9 54.9,250.7 57.9,254.5" fill="#f1e4cc" stroke="#f1e4cc"/>
<polygon points="116.9,231.9 114.1,228.7 95,234.3 97.9,237.7" fill="#f1e9d1" stroke="#f1e9d1"/>
<polygon points="97.9,237.7 95,234.3 74.3,240.3 77.2,243.9" fill="#f1e9d1" stroke="#f1e9d1"/>
<polygon points="77.2,243.9 74.3,240.3 51.9,246.9 54.9,250.7" fill="#f1e9d0" stroke="#f1e9d0"/>
</g>
<g stroke="#5a4a44" stroke-width="0.35" stroke-opacity="0.16" fill="none">
<polyline points="186.5,311 129.3,344.9"/>
<polyline points="184,308 126.5,341.4"/>
<polyline points="181.4,305.1 123.8,337.9"/>
<polyline points="178.8,302.2 121,334.4"/>
<polyline points="176.3,299.3 118.3,330.9"/>
<polyline points="173.8,296.5 115.6,327.5"/>
<polyline points="171.2,293.6 112.9,324.1"/>
<polyline points="168.7,290.8 110.2,320.7"/>
<polyline points="166.2,287.9 107.5,317.3"/>
<polyline points="163.8,285.1 104.8,313.9"/>
<polyline points="161.3,282.3 102.2,310.6"/>
<polyline points="158.8,279.5 99.6,307.2"/>
<polyline points="156.4,276.7 96.9,303.9"/>
<polyline points="153.9,273.9 94.3,300.6"/>
<polyline points="151.5,271.2 91.7,297.3"/>
<polyline points="149.1,268.4 89.1,294"/>
<polyline points="146.7,265.7 86.6,290.8"/>
<polyline points="144.3,263 84,287.6"/>
<polyline points="141.9,260.3 81.5,284.3"/>
<polyline points="139.5,257.6 78.9,281.1"/>
<polyline points="137.2,254.9 76.4,277.9"/>
<polyline points="134.8,252.2 73.9,274.8"/>
<polyline points="132.5,249.6 71.4,271.6"/>
<polyline points="130.1,246.9 68.9,268.5"/>
<polyline points="127.8,244.3 66.4,265.3"/>
<polyline points="125.5,241.6 64,262.2"/>
<polyline points="123.2,239 61.5,259.1"/>
<polyline points="120.9,236.4 59.1,256"/>
<polyline points="118.6,233.8 56.7,253"/>
<polyline points="116.3,231.3 54.3,249.9"/>
<polyline points="114.1,228.7 51.9,246.9"/>
<polyline points="186.5,311 114.1,228.7"/>
<polyline points="184.9,312 112.2,229.2"/>
<polyline points="183.2,313 110.4,229.8"/>
<polyline points="181.4,314 108.5,230.3"/>
<polyline points="179.7,315 106.6,230.9"/>
<polyline points="178,316.1 104.7,231.4"/>
<polyline points="176.2,317.1 102.8,232"/>
<polyline points="174.4,318.1 100.9,232.6"/>
<polyline points="172.7,319.2 98.9,233.1"/>
<polyline points="170.9,320.3 97,233.7"/>
<polyline points="169,321.3 95,234.3"/>
<polyline points="167.2,322.4 93,234.9"/>
<polyline points="165.4,323.5 91,235.4"/>
<polyline points="163.5,324.6 88.9,236"/>
<polyline points="161.6,325.7 86.9,236.6"/>
<polyline points="159.7,326.9 84.8,237.2"/>
<polyline points="157.8,328 82.8,237.8"/>
<polyline points="155.9,329.1 80.7,238.5"/>
<polyline points="154,330.3 78.6,239.1"/>
<polyline points="152,331.4 76.4,239.7"/>
<polyline points="150,332.6 74.3,240.3"/>
<polyline points="148,333.8 72.1,240.9"/>
<polyline points="146,335 70,241.6"/>
<polyline points="144,336.2 67.8,242.2"/>
<polyline points="142,337.4 65.5,242.9"/>
<polyline points="139.9,338.6 63.3,243.5"/>
<polyline points="137.8,339.8 61.1,244.2"/>
<polyline points="135.7,341.1 58.8,244.8"/>
<polyline points="133.6,342.3 56.5,245.5"/>
<polyline points="131.5,343.6 54.2,246.2"/>
<polyline points="129.3,344.9 51.9,246.9"/>
</g></g>
<g stroke-width="0.6">
<path d="M99 285.7h2.4M100.2 284.5v2.4" stroke="#b03030" stroke-opacity="0.7"/>
<path d="M119.6 306.8h2.4M120.8 305.6v2.4" stroke="#b03030" stroke-opacity="0.7"/>
<path d="M130.3 256.9h2.4M131.5 255.7v2.4" stroke="#555" stroke-opacity="0.7"/>
<path d="M113.5 297.1h2.4M114.7 295.9v2.4" stroke="#555" stroke-opacity="0.7"/>
<path d="M130.3 275h2.4M131.5 273.8v2.4" stroke="#b03030" stroke-opacity="0.7"/>
<path d="M93.5 239.3h2.4M94.7 238.1v2.4" stroke="#b03030" stroke-opacity="0.7"/>
<path d="M134.9 330.8h2.4M136.1 329.6v2.4" stroke="#b03030" stroke-opacity="0.7"/>
<path d="M134.3 318.3h2.4M135.5 317.1v2.4" stroke="#b03030" stroke-opacity="0.7"/>
<path d="M104.1 235h2.4M105.3 233.8v2.4" stroke="#b03030" stroke-opacity="0.7"/>
<path d="M83.2 249.2h2.4M84.4 248v2.4" stroke="#555" stroke-opacity="0.7"/>
<path d="M125.2 333.3h2.4M126.4 332.1v2.4" stroke="#555" stroke-opacity="0.7"/>
<path d="M105.2 230.6h2.4M106.4 229.4v2.4" stroke="#b03030" stroke-opacity="0.7"/>
<path d="M69.7 261.4h2.4M70.9 260.2v2.4" stroke="#555" stroke-opacity="0.7"/>
<path d="M154.5 279.6h2.4M155.7 278.4v2.4" stroke="#b03030" stroke-opacity="0.7"/>
<path d="M102 306.4h2.4M103.2 305.2v2.4" stroke="#555" stroke-opacity="0.7"/>
<path d="M76.1 263.8h2.4M77.3 262.6v2.4" stroke="#555" stroke-opacity="0.7"/>
<path d="M86.4 286.5h2.4M87.6 285.3v2.4" stroke="#b03030" stroke-opacity="0.7"/>
<path d="M143.7 286.1h2.4M144.9 284.9v2.4" stroke="#b03030" stroke-opacity="0.7"/>
<path d="M137.1 311h2.4M138.3 309.8v2.4" stroke="#b03030" stroke-opacity="0.7"/>
<path d="M137 266.2h2.4M138.2 265v2.4" stroke="#b03030" stroke-opacity="0.7"/>
<path d="M100.4 240.1h2.4M101.6 238.9v2.4" stroke="#555" stroke-opacity="0.7"/>
<path d="M85.1 245.7h2.4M86.3 244.5v2.4" stroke="#555" stroke-opacity="0.7"/>
<path d="M142.8 333.9h2.4M144 332.7v2.4" stroke="#555" stroke-opacity="0.7"/>
<path d="M135.4 276.9h2.4M136.6 275.7v2.4" stroke="#b03030" stroke-opacity="0.7"/>
<path d="M114.2 255.5h2.4M115.4 254.3v2.4" stroke="#555" stroke-opacity="0.7"/>
<path d="M57.8 245.5h2.4M59 244.3v2.4" stroke="#555" stroke-opacity="0.7"/>
<path d="M103.5 278.6h2.4M104.7 277.4v2.4" stroke="#555" stroke-opacity="0.7"/>
<path d="M73.1 270h2.4M74.3 268.8v2.4" stroke="#b03030" stroke-opacity="0.7"/>
<path d="M145.3 281.5h2.4M146.5 280.3v2.4" stroke="#555" stroke-opacity="0.7"/>
<path d="M168.1 300.2h2.4M169.3 299v2.4" stroke="#555" stroke-opacity="0.7"/>
<path d="M92.9 265.4h2.2M94 264.3v2.2" stroke="#888" stroke-opacity="0.6"/>
<path d="M123.2 249.3h2.2M124.3 248.2v2.2" stroke="#e06060" stroke-opacity="0.6"/>
<path d="M79.1 287.8h2.2M80.2 286.7v2.2" stroke="#e06060" stroke-opacity="0.6"/>
<path d="M175 314.7h2.2M176.1 313.6v2.2" stroke="#e06060" stroke-opacity="0.6"/>
<path d="M130.8 313.3h2.2M131.9 312.2v2.2" stroke="#e06060" stroke-opacity="0.6"/>
<path d="M104.5 298.6h2.2M105.6 297.5v2.2" stroke="#e06060" stroke-opacity="0.6"/>
<path d="M115 305.1h2.2M116.1 304v2.2" stroke="#888" stroke-opacity="0.6"/>
<path d="M117.4 295.6h2.2M118.5 294.5v2.2" stroke="#e06060" stroke-opacity="0.6"/>
<path d="M156.2 290.5h2.2M157.3 289.4v2.2" stroke="#e06060" stroke-opacity="0.6"/>
<path d="M101.5 328.5h2.2M102.6 327.4v2.2" stroke="#e06060" stroke-opacity="0.6"/>
<path d="M85.9 274h2.2M87 272.9v2.2" stroke="#e06060" stroke-opacity="0.6"/>
<path d="M69.6 299.1h2.2M70.7 298v2.2" stroke="#e06060" stroke-opacity="0.6"/>
<path d="M112.1 299h2.2M113.2 297.9v2.2" stroke="#e06060" stroke-opacity="0.6"/>
<path d="M101.8 291.8h2.2M102.9 290.7v2.2" stroke="#e06060" stroke-opacity="0.6"/>
<path d="M123.7 306.5h2.2M124.8 305.4v2.2" stroke="#e06060" stroke-opacity="0.6"/>
<path d="M170.8 318.2h2.2M171.9 317.1v2.2" stroke="#888" stroke-opacity="0.6"/>
<path d="M107.2 327.3h2.2M108.3 326.2v2.2" stroke="#e06060" stroke-opacity="0.6"/>
<path d="M106.8 332.6h2.2M107.9 331.5v2.2" stroke="#e06060" stroke-opacity="0.6"/>
<path d="M83.3 247.9h2.2M84.4 246.8v2.2" stroke="#e06060" stroke-opacity="0.6"/>
<path d="M71.1 325.4h2.2M72.2 324.3v2.2" stroke="#e06060" stroke-opacity="0.6"/>
<path d="M117.3 274.4h2.2M118.4 273.3v2.2" stroke="#888" stroke-opacity="0.6"/>
<path d="M103.4 315.3h2.2M104.5 314.2v2.2" stroke="#e06060" stroke-opacity="0.6"/>
<path d="M141.2 331h2.2M142.3 329.9v2.2" stroke="#e06060" stroke-opacity="0.6"/>
<path d="M96.7 286.1h2.2M97.8 285v2.2" stroke="#e06060" stroke-opacity="0.6"/>
<path d="M143.1 345.6h2.2M144.2 344.5v2.2" stroke="#888" stroke-opacity="0.6"/>
</g>
<g>
<circle cx="51.8" cy="246.5" r="0.85" fill="#333"/>
<circle cx="55.9" cy="251.6" r="0.85" fill="#333"/>
<circle cx="60" cy="256.8" r="0.85" fill="#444"/>
<circle cx="64.1" cy="261.9" r="0.85" fill="#666"/>
<circle cx="66.1" cy="264.6" r="0.85" fill="#666"/>
<circle cx="68.2" cy="267.2" r="0.85" fill="#333"/>
<circle cx="70.3" cy="269.8" r="0.85" fill="#333"/>
<circle cx="72.4" cy="272.5" r="0.85" fill="#555"/>
<circle cx="74.5" cy="275.1" r="0.85" fill="#333"/>
<circle cx="76.6" cy="277.8" r="0.85" fill="#666"/>
<circle cx="78.7" cy="280.5" r="0.85" fill="#555"/>
<circle cx="87.3" cy="291.3" r="0.85" fill="#555"/>
<circle cx="89.4" cy="294" r="0.85" fill="#666"/>
<circle cx="91.6" cy="296.8" r="0.85" fill="#666"/>
<circle cx="93.8" cy="299.6" r="0.85" fill="#333"/>
<circle cx="96" cy="302.3" r="0.85" fill="#555"/>
<circle cx="102.6" cy="310.7" r="0.85" fill="#555"/>
<circle cx="107.1" cy="316.4" r="0.85" fill="#555"/>
<circle cx="109.3" cy="319.2" r="0.85" fill="#666"/>
<circle cx="111.6" cy="322.1" r="0.85" fill="#555"/>
<circle cx="113.8" cy="324.9" r="0.85" fill="#666"/>
<circle cx="116.1" cy="327.8" r="0.85" fill="#333"/>
<circle cx="118.4" cy="330.7" r="0.85" fill="#555"/>
<circle cx="120.7" cy="333.6" r="0.85" fill="#555"/>
<circle cx="123" cy="336.5" r="0.85" fill="#666"/>
<circle cx="125.3" cy="339.4" r="0.85" fill="#333"/>
<circle cx="127.6" cy="342.4" r="0.85" fill="#555"/>
</g>
<g stroke="#3a3a3a" stroke-width="0.7" fill="none">
<polyline points="33.3,216.1 40,331.8 129.5,370.6 202.8,326.9"/>
<line x1="36.8" y1="331.8" x2="40" y2="331.8"/>
<line x1="35.8" y1="314.1" x2="39" y2="314.1"/>
<line x1="34.8" y1="295.9" x2="38" y2="295.9"/>
<line x1="33.7" y1="277.3" x2="36.9" y2="277.3"/>
<line x1="32.6" y1="258.2" x2="35.8" y2="258.2"/>
<line x1="31.4" y1="238.6" x2="34.6" y2="238.6"/>
<line x1="30.3" y1="218.5" x2="33.5" y2="218.5"/>
<line x1="48" y1="335.3" x2="44.9" y2="336.7"/>
<line x1="61.2" y1="341" x2="58.1" y2="342.5"/>
<line x1="75.1" y1="347" x2="72" y2="348.5"/>
<line x1="89.6" y1="353.3" x2="86.5" y2="354.9"/>
<line x1="104.9" y1="360" x2="101.8" y2="361.6"/>
<line x1="121" y1="366.9" x2="117.9" y2="368.7"/>
<line x1="139.7" y1="364.5" x2="143.3" y2="366.1"/>
<line x1="152.1" y1="357.1" x2="155.7" y2="358.6"/>
<line x1="163.9" y1="350.1" x2="167.5" y2="351.5"/>
<line x1="175.1" y1="343.4" x2="178.6" y2="344.7"/>
<line x1="185.7" y1="337.1" x2="189.2" y2="338.3"/>
<line x1="195.8" y1="331.1" x2="199.2" y2="332.3"/>
</g>
<text x="36.2" y="335.1" style="font-size:9.3px" text-anchor="end">777</text>
<text x="35.2" y="317.4" style="font-size:9.3px" text-anchor="end">782</text>
<text x="34.2" y="299.2" style="font-size:9.3px" text-anchor="end">787</text>
<text x="33.1" y="280.6" style="font-size:9.3px" text-anchor="end">792</text>
<text x="32" y="261.5" style="font-size:9.3px" text-anchor="end">797</text>
<text x="30.8" y="241.9" style="font-size:9.3px" text-anchor="end">802</text>
<text x="29.7" y="221.8" style="font-size:9.3px" text-anchor="end">807</text>
<text x="47.5" y="347.6" style="font-size:8.8px" text-anchor="middle">30</text>
<text x="60.7" y="353.3" style="font-size:8.8px" text-anchor="middle">27</text>
<text x="74.6" y="359.3" style="font-size:8.8px" text-anchor="middle">24</text>
<text x="89.1" y="365.6" style="font-size:8.8px" text-anchor="middle">21</text>
<text x="104.4" y="372.3" style="font-size:8.8px" text-anchor="middle">18</text>
<text x="120.5" y="379.2" style="font-size:8.8px" text-anchor="middle">15</text>
<text x="146.2" y="375.6" style="font-size:8.8px" text-anchor="middle">2.0</text>
<text x="158.6" y="368.2" style="font-size:8.8px" text-anchor="middle">1.8</text>
<text x="170.4" y="361.2" style="font-size:8.8px" text-anchor="middle">1.6</text>
<text x="181.6" y="354.5" style="font-size:8.8px" text-anchor="middle">1.4</text>
<text x="192.2" y="348.2" style="font-size:8.8px" text-anchor="middle">1.2</text>
<text x="202.3" y="342.2" style="font-size:8.8px" text-anchor="middle">1.0</text>
<text x="16.5" y="207.5" style="font-size:17px">d</text>
<text x="1" y="210" style="font-size:10.8px" textLength="135.3" lengthAdjust="spacingAndGlyphs" transform="rotate(85.5 1 210)">Peak cladding temperature (K)</text>
<text x="27.5" y="354" style="font-size:10.8px" textLength="97.5" lengthAdjust="spacingAndGlyphs" transform="rotate(23.5 27.5 354)">Linear power (kW/m)</text>
<text x="154.6" y="385" style="font-size:9.5px" textLength="68" lengthAdjust="spacingAndGlyphs" transform="rotate(-33.5 154.6 385)">Flow rate (m/s)</text>
<circle cx="41.4" cy="206.9" r="1.05" fill="#f07070"/>
<circle cx="40.9" cy="216.9" r="1.05" fill="#888"/>
<rect x="115.8" y="202.9" width="19.3" height="8.7" fill="url(#rg)"/>
<rect x="115.8" y="212.9" width="19.3" height="8.4" fill="url(#gg)"/>
<text x="52.4" y="209.4" style="font-size:7.8px" textLength="61.7" lengthAdjust="spacingAndGlyphs">Kriging training data</text>
<text x="52.4" y="219.5" style="font-size:7.8px" textLength="59" lengthAdjust="spacingAndGlyphs">Kriging testing data</text>
<text x="136.8" y="208.8" style="font-size:7.8px" textLength="82.4" lengthAdjust="spacingAndGlyphs">Peak cladding temperature</text>
<text x="136.8" y="219.3" style="font-size:7.8px" textLength="79.1" lengthAdjust="spacingAndGlyphs">Prediction error of Kriging</text>
<text x="117.3" y="226.5" style="font-size:5.8px" text-anchor="middle">0</text>
<text x="134.6" y="226.5" style="font-size:5.8px" text-anchor="middle">1</text>
<ellipse cx="87.6" cy="338" rx="19.6" ry="9.2" fill="none" stroke="#a02030" stroke-width="1" stroke-dasharray="3 1.8"/>
<ellipse cx="144.4" cy="349.8" rx="10.3" ry="5.6" fill="none" stroke="#a02030" stroke-width="1" stroke-dasharray="3 1.8"/>
<ellipse cx="182" cy="328.6" rx="9.3" ry="4.9" fill="none" stroke="#a02030" stroke-width="1" stroke-dasharray="3 1.8"/>
<text x="143.5" y="235.2" style="font-size:8.2px;font-weight:bold;fill:#8c1c2c;stroke:#8c1c2c" textLength="65.7" lengthAdjust="spacingAndGlyphs">1. Kriging predictor:</text>
<text x="143.5" y="244.3" style="font-size:8.2px;font-weight:bold;fill:#8c1c2c;stroke:#8c1c2c" textLength="70.7" lengthAdjust="spacingAndGlyphs">Accurate and smooth</text>
<text x="143.5" y="253.6" style="font-size:8.2px;font-weight:bold;fill:#8c1c2c;stroke:#8c1c2c" textLength="62.5" lengthAdjust="spacingAndGlyphs">overall trends with</text>
<text x="143.5" y="263.1" style="font-size:8.2px;font-weight:bold;fill:#8c1c2c;stroke:#8c1c2c" textLength="71.7" lengthAdjust="spacingAndGlyphs">errors in finer details.</text>
<g stroke="#dcdcdc" stroke-width="0.5" fill="none">
<polyline points="500.9,332.7 575.7,300.4 659.4,327.9"/>
<polyline points="499.9,315.5 575.7,285.2 660.4,311"/>
<polyline points="498.8,297.8 575.6,269.6 661.4,293.6"/>
<polyline points="497.8,279.7 575.6,253.8 662.4,275.8"/>
<polyline points="496.7,261.1 575.5,237.5 663.4,257.6"/>
<polyline points="495.6,242 575.4,221 664.5,238.9"/>
<polyline points="494.5,222.4 575.4,204 665.6,219.6"/>
<polyline points="505.5,217.5 511.1,328.3 597.9,364.6"/>
<polyline points="519.1,214.5 523.6,322.9 610,357.4"/>
<polyline points="532.1,211.6 535.6,317.7 621.5,350.6"/>
<polyline points="544.5,208.8 547,312.8 632.4,344.1"/>
<polyline points="556.3,206.2 557.9,308.1 642.7,337.9"/>
<polyline points="567.5,203.7 568.4,303.5 652.6,332"/>
<polyline points="583.5,203.3 583.4,302.9 508.6,336.1"/>
<polyline points="597,205.6 595.9,307 521.5,341.7"/>
<polyline points="611.1,208 609,311.3 535,347.5"/>
<polyline points="625.8,210.5 622.6,315.8 549.2,353.7"/>
<polyline points="641.1,213.1 636.8,320.5 564.1,360.1"/>
<polyline points="657.2,215.9 651.6,325.4 579.7,366.9"/>
</g>
<g stroke="#bdbdbd" stroke-width="0.6" fill="none">
<polyline points="494.3,220 575.4,201.9 665.7,217.3 659.4,327.9"/>
</g>
<g stroke="#9a9a9a" stroke-width="0.6" fill="none">
<polyline points="575.4,201.9 575.7,300.4"/>
<polyline points="500.9,332.7 575.7,300.4 659.4,327.9"/>
</g>
<g>
<ellipse cx="525.2" cy="329" rx="2.4" ry="1.4" fill="#c0c0c0" transform="rotate(23.5 525.2 329)"/>
<ellipse cx="535.6" cy="334" rx="2.4" ry="1.4" fill="#b4b4b4" transform="rotate(23.5 535.6 334)"/>
<ellipse cx="546.2" cy="338.7" rx="2.4" ry="1.4" fill="#c6c6c6" transform="rotate(23.5 546.2 338.7)"/>
<ellipse cx="558.5" cy="344.5" rx="2.4" ry="1.4" fill="#d6d6d6" transform="rotate(23.5 558.5 344.5)"/>
<ellipse cx="573.2" cy="348.5" rx="2.4" ry="1.4" fill="#cccccc" transform="rotate(23.5 573.2 348.5)"/>
<ellipse cx="582.7" cy="353.6" rx="2.4" ry="1.4" fill="#c0c0c0" transform="rotate(23.5 582.7 353.6)"/>
<ellipse cx="538.2" cy="326.9" rx="2.4" ry="1.4" fill="#d2d2d2" transform="rotate(23.5 538.2 326.9)"/>
<ellipse cx="551.2" cy="331.9" rx="2.4" ry="1.4" fill="#c6c6c6" transform="rotate(23.5 551.2 331.9)"/>
<ellipse cx="562.1" cy="335.3" rx="2.4" ry="1.4" fill="#d2d2d2" transform="rotate(23.5 562.1 335.3)"/>
<ellipse cx="575.1" cy="341.5" rx="2.4" ry="1.4" fill="#bebebe" transform="rotate(23.5 575.1 341.5)"/>
<ellipse cx="588.3" cy="345.9" rx="2.4" ry="1.4" fill="#c6c6c6" transform="rotate(23.5 588.3 345.9)"/>
<ellipse cx="599.6" cy="351.2" rx="2.4" ry="1.4" fill="#b4b4b4" transform="rotate(23.5 599.6 351.2)"/>
<ellipse cx="544.5" cy="319.6" rx="2.4" ry="1.4" fill="#c0c0c0" transform="rotate(23.5 544.5 319.6)"/>
<ellipse cx="557.8" cy="324.4" rx="2.4" ry="1.4" fill="#b4b4b4" transform="rotate(23.5 557.8 324.4)"/>
<ellipse cx="578.6" cy="333.2" rx="2.4" ry="1.4" fill="#cccccc" transform="rotate(23.5 578.6 333.2)"/>
<ellipse cx="591.3" cy="338.3" rx="2.4" ry="1.4" fill="#c6c6c6" transform="rotate(23.5 591.3 338.3)"/>
<ellipse cx="604.3" cy="343.9" rx="2.4" ry="1.4" fill="#d6d6d6" transform="rotate(23.5 604.3 343.9)"/>
<ellipse cx="570.5" cy="322" rx="2.4" ry="1.4" fill="#cccccc" transform="rotate(23.5 570.5 322)"/>
<ellipse cx="581.7" cy="326.1" rx="2.4" ry="1.4" fill="#c6c6c6" transform="rotate(23.5 581.7 326.1)"/>
<ellipse cx="593" cy="331" rx="2.4" ry="1.4" fill="#cccccc" transform="rotate(23.5 593 331)"/>
<ellipse cx="606.6" cy="335.6" rx="2.4" ry="1.4" fill="#c0c0c0" transform="rotate(23.5 606.6 335.6)"/>
<ellipse cx="619.4" cy="340.3" rx="2.4" ry="1.4" fill="#c6c6c6" transform="rotate(23.5 619.4 340.3)"/>
<ellipse cx="563.6" cy="312.4" rx="2.4" ry="1.4" fill="#d2d2d2" transform="rotate(23.5 563.6 312.4)"/>
<ellipse cx="573.7" cy="316.2" rx="2.4" ry="1.4" fill="#b4b4b4" transform="rotate(23.5 573.7 316.2)"/>
<ellipse cx="585.9" cy="319.9" rx="2.4" ry="1.4" fill="#c6c6c6" transform="rotate(23.5 585.9 319.9)"/>
<ellipse cx="598.5" cy="324.1" rx="2.4" ry="1.4" fill="#d2d2d2" transform="rotate(23.5 598.5 324.1)"/>
<ellipse cx="610.9" cy="328.1" rx="2.4" ry="1.4" fill="#b4b4b4" transform="rotate(23.5 610.9 328.1)"/>
<ellipse cx="623.5" cy="333.5" rx="2.4" ry="1.4" fill="#c0c0c0" transform="rotate(23.5 623.5 333.5)"/>
<ellipse cx="577.7" cy="310" rx="2.4" ry="1.4" fill="#b4b4b4" transform="rotate(23.5 577.7 310)"/>
<ellipse cx="589.7" cy="313.2" rx="2.4" ry="1.4" fill="#c0c0c0" transform="rotate(23.5 589.7 313.2)"/>
<ellipse cx="600.1" cy="317.8" rx="2.4" ry="1.4" fill="#d2d2d2" transform="rotate(23.5 600.1 317.8)"/>
<ellipse cx="612.6" cy="321.9" rx="2.4" ry="1.4" fill="#d2d2d2" transform="rotate(23.5 612.6 321.9)"/>
<ellipse cx="623" cy="325.6" rx="2.4" ry="1.4" fill="#d2d2d2" transform="rotate(23.5 623 325.6)"/>
<ellipse cx="517.8" cy="332.8" rx="3.2" ry="1.35" fill="#c7c7c7" transform="rotate(23.5 517.8 332.8)"/>
<ellipse cx="520.7" cy="334" rx="2.4" ry="1.35" fill="#a0a0a0" transform="rotate(23.5 520.7 334)"/>
<ellipse cx="525.4" cy="336" rx="2.8" ry="1.35" fill="#a8a8a8" transform="rotate(23.5 525.4 336)"/>
<ellipse cx="529.4" cy="337.6" rx="2.8" ry="1.35" fill="#b8b8b8" transform="rotate(23.5 529.4 337.6)"/>
<ellipse cx="533.3" cy="339.3" rx="3.2" ry="1.35" fill="#a5a5a5" transform="rotate(23.5 533.3 339.3)"/>
<ellipse cx="537.4" cy="341" rx="2.4" ry="1.35" fill="#a5a5a5" transform="rotate(23.5 537.4 341)"/>
<ellipse cx="541.4" cy="342.7" rx="2.4" ry="1.35" fill="#bbbbbb" transform="rotate(23.5 541.4 342.7)"/>
<ellipse cx="546.5" cy="344.9" rx="3.2" ry="1.35" fill="#b2b2b2" transform="rotate(23.5 546.5 344.9)"/>
<ellipse cx="551.7" cy="347" rx="2.4" ry="1.35" fill="#b7b7b7" transform="rotate(23.5 551.7 347)"/>
<ellipse cx="556" cy="348.8" rx="3.2" ry="1.35" fill="#bebebe" transform="rotate(23.5 556 348.8)"/>
<ellipse cx="561.3" cy="351.1" rx="2.4" ry="1.35" fill="#adadad" transform="rotate(23.5 561.3 351.1)"/>
<ellipse cx="565.7" cy="353" rx="2.4" ry="1.35" fill="#b5b5b5" transform="rotate(23.5 565.7 353)"/>
<ellipse cx="568.5" cy="354.1" rx="2.4" ry="1.35" fill="#a6a6a6" transform="rotate(23.5 568.5 354.1)"/>
<ellipse cx="571.2" cy="355.3" rx="2.8" ry="1.35" fill="#a8a8a8" transform="rotate(23.5 571.2 355.3)"/>
</g>
<line x1="580.4" y1="229.2" x2="628.4" y2="283.1" stroke="#e07a7a" stroke-width="0.9" stroke-dasharray="1.6 1.4"/>
<line x1="508.5" y1="316.7" x2="505" y2="248.6" stroke="#e88" stroke-width="0.9" stroke-dasharray="0.9 1.3"/>
<g opacity="0.82">
<g stroke-width="0.5">
<polygon points="643.6,312.4 640.4,308.9 623.3,318.8 626.5,322.5" fill="#e43033" stroke="#e43033"/>
<polygon points="626.5,322.5 623.3,318.8 604.7,329.5 608,333.5" fill="#e42e31" stroke="#e42e31"/>
<polygon points="608,333.5 604.7,329.5 584.4,341.2 587.8,345.5" fill="#e32b2f" stroke="#e32b2f"/>
<polygon points="640.4,308.9 637.3,305.3 620.1,315 623.3,318.8" fill="#e43738" stroke="#e43738"/>
<polygon points="623.3,318.8 620.1,315 601.4,325.5 604.7,329.5" fill="#e43436" stroke="#e43436"/>
<polygon points="604.7,329.5 601.4,325.5 581.1,336.9 584.4,341.2" fill="#e43235" stroke="#e43235"/>
<polygon points="637.3,305.3 634.2,301.8 616.9,311.3 620.1,315" fill="#e53d3e" stroke="#e53d3e"/>
<polygon points="620.1,315 616.9,311.3 598.2,321.5 601.4,325.5" fill="#e53b3c" stroke="#e53b3c"/>
<polygon points="601.4,325.5 598.2,321.5 577.8,332.7 581.1,336.9" fill="#e5393a" stroke="#e5393a"/>
<polygon points="634.2,301.8 631.1,298.3 613.8,307.6 616.9,311.3" fill="#e54443" stroke="#e54443"/>
<polygon points="616.9,311.3 613.8,307.6 595,317.6 598.2,321.5" fill="#e54241" stroke="#e54241"/>
<polygon points="598.2,321.5 595,317.6 574.4,328.5 577.8,332.7" fill="#e53f3f" stroke="#e53f3f"/>
<polygon points="631.1,298.3 628.1,294.8 610.6,303.9 613.8,307.6" fill="#e64a48" stroke="#e64a48"/>
<polygon points="613.8,307.6 610.6,303.9 591.7,313.7 595,317.6" fill="#e64846" stroke="#e64846"/>
<polygon points="595,317.6 591.7,313.7 571.2,324.4 574.4,328.5" fill="#e64645" stroke="#e64645"/>
<polygon points="628.1,294.8 625,291.4 607.5,300.2 610.6,303.9" fill="#e7514d" stroke="#e7514d"/>
<polygon points="610.6,303.9 607.5,300.2 588.5,309.8 591.7,313.7" fill="#e64f4b" stroke="#e64f4b"/>
<polygon points="591.7,313.7 588.5,309.8 567.9,320.2 571.2,324.4" fill="#e64d4a" stroke="#e64d4a"/>
<polygon points="625,291.4 622,287.9 604.4,296.6 607.5,300.2" fill="#e75a55" stroke="#e75a55"/>
<polygon points="607.5,300.2 604.4,296.6 585.4,305.9 588.5,309.8" fill="#e75753" stroke="#e75753"/>
<polygon points="588.5,309.8 585.4,305.9 564.6,316.1 567.9,320.2" fill="#e75550" stroke="#e75550"/>
<polygon points="622,287.9 619,284.5 601.3,292.9 604.4,296.6" fill="#e8635d" stroke="#e8635d"/>
<polygon points="604.4,296.6 601.3,292.9 582.2,302.1 585.4,305.9" fill="#e8615b" stroke="#e8615b"/>
<polygon points="585.4,305.9 582.2,302.1 561.4,312 564.6,316.1" fill="#e85e59" stroke="#e85e59"/>
<polygon points="619,284.5 616,281.1 598.3,289.3 601.3,292.9" fill="#e96c65" stroke="#e96c65"/>
<polygon points="601.3,292.9 598.3,289.3 579.1,298.3 582.2,302.1" fill="#e96a63" stroke="#e96a63"/>
<polygon points="582.2,302.1 579.1,298.3 558.2,308 561.4,312" fill="#e96861" stroke="#e96861"/>
<polygon points="616,281.1 613,277.7 595.2,285.7 598.3,289.3" fill="#ea766d" stroke="#ea766d"/>
<polygon points="598.3,289.3 595.2,285.7 576,294.5 579.1,298.3" fill="#ea736b" stroke="#ea736b"/>
<polygon points="579.1,298.3 576,294.5 555,303.9 558.2,308" fill="#e97169" stroke="#e97169"/>
<polygon points="613,277.7 610,274.3 592.2,282.2 595.2,285.7" fill="#ea7f74" stroke="#ea7f74"/>
<polygon points="595.2,285.7 592.2,282.2 572.9,290.7 576,294.5" fill="#ea7d73" stroke="#ea7d73"/>
<polygon points="576,294.5 572.9,290.7 551.8,299.9 555,303.9" fill="#ea7b71" stroke="#ea7b71"/>
<polygon points="610,274.3 607.1,271 589.2,278.6 592.2,282.2" fill="#eb887c" stroke="#eb887c"/>
<polygon points="592.2,282.2 589.2,278.6 569.8,286.9 572.9,290.7" fill="#eb867b" stroke="#eb867b"/>
<polygon points="572.9,290.7 569.8,286.9 548.7,295.9 551.8,299.9" fill="#eb8479" stroke="#eb8479"/>
<polygon points="607.1,271 604.2,267.7 586.2,275.1 589.2,278.6" fill="#ec9184" stroke="#ec9184"/>
<polygon points="589.2,278.6 586.2,275.1 566.7,283.2 569.8,286.9" fill="#ec8f83" stroke="#ec8f83"/>
<polygon points="569.8,286.9 566.7,283.2 545.6,292 548.7,295.9" fill="#ec8d81" stroke="#ec8d81"/>
<polygon points="604.2,267.7 601.2,264.4 583.2,271.6 586.2,275.1" fill="#ec9b8c" stroke="#ec9b8c"/>
<polygon points="586.2,275.1 583.2,271.6 563.7,279.5 566.7,283.2" fill="#ec998b" stroke="#ec998b"/>
<polygon points="566.7,283.2 563.7,279.5 542.5,288.1 545.6,292" fill="#ec9789" stroke="#ec9789"/>
<polygon points="601.2,264.4 598.3,261.1 580.3,268.2 583.2,271.6" fill="#eda495" stroke="#eda495"/>
<polygon points="583.2,271.6 580.3,268.2 560.7,275.8 563.7,279.5" fill="#eda293" stroke="#eda293"/>
<polygon points="563.7,279.5 560.7,275.8 539.4,284.1 542.5,288.1" fill="#eda192" stroke="#eda192"/>
<polygon points="598.3,261.1 595.5,257.8 577.3,264.7 580.3,268.2" fill="#edad9d" stroke="#edad9d"/>
<polygon points="580.3,268.2 577.3,264.7 557.7,272.2 560.7,275.8" fill="#edac9b" stroke="#edac9b"/>
<polygon points="560.7,275.8 557.7,272.2 536.3,280.3 539.4,284.1" fill="#edaa9a" stroke="#edaa9a"/>
<polygon points="595.5,257.8 592.6,254.6 574.4,261.3 577.3,264.7" fill="#eeb7a5" stroke="#eeb7a5"/>
<polygon points="577.3,264.7 574.4,261.3 554.7,268.5 557.7,272.2" fill="#eeb5a4" stroke="#eeb5a4"/>
<polygon points="557.7,272.2 554.7,268.5 533.2,276.4 536.3,280.3" fill="#eeb4a3" stroke="#eeb4a3"/>
<polygon points="592.6,254.6 589.8,251.3 571.5,257.8 574.4,261.3" fill="#eec0ad" stroke="#eec0ad"/>
<polygon points="574.4,261.3 571.5,257.8 551.7,264.9 554.7,268.5" fill="#eebfac" stroke="#eebfac"/>
<polygon points="554.7,268.5 551.7,264.9 530.2,272.6 533.2,276.4" fill="#eebdab" stroke="#eebdab"/>
<polygon points="589.8,251.3 586.9,248.1 568.6,254.4 571.5,257.8" fill="#efc8b4" stroke="#efc8b4"/>
<polygon points="571.5,257.8 568.6,254.4 548.7,261.3 551.7,264.9" fill="#efc7b3" stroke="#efc7b3"/>
<polygon points="551.7,264.9 548.7,261.3 527.2,268.7 530.2,272.6" fill="#efc6b2" stroke="#efc6b2"/>
<polygon points="586.9,248.1 584.1,244.9 565.7,251.1 568.6,254.4" fill="#efd1bb" stroke="#efd1bb"/>
<polygon points="568.6,254.4 565.7,251.1 545.8,257.7 548.7,261.3" fill="#efd0ba" stroke="#efd0ba"/>
<polygon points="548.7,261.3 545.8,257.7 524.2,264.9 527.2,268.7" fill="#efcfb9" stroke="#efcfb9"/>
<polygon points="584.1,244.9 581.3,241.7 562.9,247.7 565.7,251.1" fill="#f0dac2" stroke="#f0dac2"/>
<polygon points="565.7,251.1 562.9,247.7 542.9,254.2 545.8,257.7" fill="#f0d9c1" stroke="#f0d9c1"/>
<polygon points="545.8,257.7 542.9,254.2 521.2,261.2 524.2,264.9" fill="#f0d8c1" stroke="#f0d8c1"/>
<polygon points="581.3,241.7 578.5,238.6 560,244.4 562.9,247.7" fill="#f1e0c8" stroke="#f1e0c8"/>
<polygon points="562.9,247.7 560,244.4 540,250.6 542.9,254.2" fill="#f1e0c8" stroke="#f1e0c8"/>
<polygon points="542.9,254.2 540,250.6 518.3,257.4 521.2,261.2" fill="#f0e0c7" stroke="#f0e0c7"/>
<polygon points="578.5,238.6 575.8,235.4 557.2,241 560,244.4" fill="#f1e5cc" stroke="#f1e5cc"/>
<polygon points="560,244.4 557.2,241 537.1,247.1 540,250.6" fill="#f1e4cc" stroke="#f1e4cc"/>
<polygon points="540,250.6 537.1,247.1 515.3,253.7 518.3,257.4" fill="#f1e4cc" stroke="#f1e4cc"/>
<polygon points="575.8,235.4 573,232.3 554.4,237.7 557.2,241" fill="#f1e9d1" stroke="#f1e9d1"/>
<polygon points="557.2,241 554.4,237.7 534.2,243.6 537.1,247.1" fill="#f1e9d1" stroke="#f1e9d1"/>
<polygon points="537.1,247.1 534.2,243.6 512.4,250 515.3,253.7" fill="#f1e9d0" stroke="#f1e9d0"/>
</g>
<g stroke="#5a4a44" stroke-width="0.35" stroke-opacity="0.16" fill="none">
<polyline points="643.6,312.4 587.8,345.5"/>
<polyline points="641.1,309.6 585.1,342"/>
<polyline points="638.6,306.7 582.4,338.6"/>
<polyline points="636.1,303.9 579.8,335.3"/>
<polyline points="633.6,301.1 577.1,331.9"/>
<polyline points="631.1,298.3 574.4,328.5"/>
<polyline points="628.7,295.5 571.8,325.2"/>
<polyline points="626.2,292.7 569.2,321.9"/>
<polyline points="623.8,290 566.6,318.6"/>
<polyline points="621.4,287.2 564,315.3"/>
<polyline points="619,284.5 561.4,312"/>
<polyline points="616.6,281.8 558.8,308.8"/>
<polyline points="614.2,279.1 556.3,305.6"/>
<polyline points="611.8,276.4 553.7,302.3"/>
<polyline points="609.4,273.7 551.2,299.1"/>
<polyline points="607.1,271 548.7,295.9"/>
<polyline points="604.7,268.3 546.2,292.8"/>
<polyline points="602.4,265.7 543.7,289.6"/>
<polyline points="600.1,263.1 541.2,286.5"/>
<polyline points="597.8,260.4 538.8,283.4"/>
<polyline points="595.5,257.8 536.3,280.3"/>
<polyline points="593.2,255.2 533.9,277.2"/>
<polyline points="590.9,252.6 531.4,274.1"/>
<polyline points="588.6,250 529,271"/>
<polyline points="586.4,247.5 526.6,268"/>
<polyline points="584.1,244.9 524.2,264.9"/>
<polyline points="581.9,242.4 521.8,261.9"/>
<polyline points="579.6,239.8 519.4,258.9"/>
<polyline points="577.4,237.3 517.1,255.9"/>
<polyline points="575.2,234.8 514.7,253"/>
<polyline points="573,232.3 512.4,250"/>
<polyline points="643.6,312.4 573,232.3"/>
<polyline points="641.9,313.4 571.2,232.8"/>
<polyline points="640.3,314.4 569.4,233.3"/>
<polyline points="638.6,315.4 567.6,233.9"/>
<polyline points="636.9,316.4 565.7,234.4"/>
<polyline points="635.2,317.4 563.9,235"/>
<polyline points="633.5,318.4 562,235.5"/>
<polyline points="631.8,319.4 560.1,236.1"/>
<polyline points="630,320.4 558.2,236.6"/>
<polyline points="628.3,321.5 556.3,237.2"/>
<polyline points="626.5,322.5 554.4,237.7"/>
<polyline points="624.7,323.6 552.4,238.3"/>
<polyline points="622.9,324.7 550.5,238.9"/>
<polyline points="621.1,325.7 548.5,239.5"/>
<polyline points="619.3,326.8 546.5,240"/>
<polyline points="617.5,327.9 544.5,240.6"/>
<polyline points="615.6,329 542.5,241.2"/>
<polyline points="613.7,330.1 540.5,241.8"/>
<polyline points="611.8,331.2 538.4,242.4"/>
<polyline points="609.9,332.4 536.3,243"/>
<polyline points="608,333.5 534.2,243.6"/>
<polyline points="606.1,334.7 532.1,244.2"/>
<polyline points="604.1,335.8 530,244.9"/>
<polyline points="602.1,337 527.9,245.5"/>
<polyline points="600.1,338.2 525.7,246.1"/>
<polyline points="598.1,339.4 523.5,246.7"/>
<polyline points="596.1,340.6 521.4,247.4"/>
<polyline points="594.1,341.8 519.1,248"/>
<polyline points="592,343 516.9,248.7"/>
<polyline points="589.9,344.2 514.7,249.3"/>
<polyline points="587.8,345.5 512.4,250"/>
</g></g>
<g stroke-width="0.6">
<path d="M548.3 273.3h2.4M549.5 272.1v2.4" stroke="#b03030" stroke-opacity="0.7"/>
<path d="M583.8 278.4h2.4M585 277.2v2.4" stroke="#b03030" stroke-opacity="0.7"/>
<path d="M613.3 291.2h2.4M614.5 290v2.4" stroke="#555" stroke-opacity="0.7"/>
<path d="M605.9 298.4h2.4M607.1 297.2v2.4" stroke="#555" stroke-opacity="0.7"/>
<path d="M617.5 311.9h2.4M618.7 310.7v2.4" stroke="#555" stroke-opacity="0.7"/>
<path d="M590.3 269.2h2.4M591.5 268v2.4" stroke="#555" stroke-opacity="0.7"/>
<path d="M598.2 309.7h2.4M599.4 308.5v2.4" stroke="#555" stroke-opacity="0.7"/>
<path d="M543.1 268.7h2.4M544.3 267.5v2.4" stroke="#555" stroke-opacity="0.7"/>
<path d="M595.4 325.2h2.4M596.6 324v2.4" stroke="#b03030" stroke-opacity="0.7"/>
<path d="M576.8 295.4h2.4M578 294.2v2.4" stroke="#555" stroke-opacity="0.7"/>
<path d="M528.2 253.4h2.4M529.4 252.2v2.4" stroke="#b03030" stroke-opacity="0.7"/>
<path d="M562 238.9h2.4M563.2 237.7v2.4" stroke="#b03030" stroke-opacity="0.7"/>
<path d="M543.3 268.8h2.4M544.5 267.6v2.4" stroke="#555" stroke-opacity="0.7"/>
<path d="M598.3 318.2h2.4M599.5 317v2.4" stroke="#555" stroke-opacity="0.7"/>
<path d="M591.2 254.2h2.4M592.4 253v2.4" stroke="#555" stroke-opacity="0.7"/>
<path d="M601.1 274.6h2.4M602.3 273.4v2.4" stroke="#555" stroke-opacity="0.7"/>
<path d="M586 278.8h2.4M587.2 277.6v2.4" stroke="#b03030" stroke-opacity="0.7"/>
<path d="M527.9 258.8h2.4M529.1 257.6v2.4" stroke="#555" stroke-opacity="0.7"/>
<path d="M621 320.8h2.4M622.2 319.6v2.4" stroke="#555" stroke-opacity="0.7"/>
<path d="M577.4 259.3h2.4M578.6 258.1v2.4" stroke="#555" stroke-opacity="0.7"/>
<path d="M600 298.4h2.4M601.2 297.2v2.4" stroke="#b03030" stroke-opacity="0.7"/>
<path d="M592.6 280.5h2.4M593.8 279.3v2.4" stroke="#b03030" stroke-opacity="0.7"/>
<path d="M628.4 314h2.4M629.6 312.8v2.4" stroke="#b03030" stroke-opacity="0.7"/>
<path d="M583 252.4h2.4M584.2 251.2v2.4" stroke="#555" stroke-opacity="0.7"/>
<path d="M568.8 285.4h2.4M570 284.2v2.4" stroke="#555" stroke-opacity="0.7"/>
<path d="M595.8 281.9h2.4M597 280.7v2.4" stroke="#555" stroke-opacity="0.7"/>
<path d="M614.8 305.1h2.4M616 303.9v2.4" stroke="#555" stroke-opacity="0.7"/>
<path d="M600.7 320.5h2.4M601.9 319.3v2.4" stroke="#b03030" stroke-opacity="0.7"/>
<path d="M589.5 257.1h2.4M590.7 255.9v2.4" stroke="#b03030" stroke-opacity="0.7"/>
<path d="M596.1 259.9h2.4M597.3 258.7v2.4" stroke="#555" stroke-opacity="0.7"/>
<path d="M539.7 284.6h2.2M540.8 283.5v2.2" stroke="#e06060" stroke-opacity="0.6"/>
<path d="M544.8 329.5h2.2M545.9 328.4v2.2" stroke="#e06060" stroke-opacity="0.6"/>
<path d="M595.6 338h2.2M596.7 336.9v2.2" stroke="#e06060" stroke-opacity="0.6"/>
<path d="M599.7 317.5h2.2M600.8 316.4v2.2" stroke="#e06060" stroke-opacity="0.6"/>
<path d="M590.7 325.5h2.2M591.8 324.4v2.2" stroke="#888" stroke-opacity="0.6"/>
<path d="M534.6 297h2.2M535.7 295.9v2.2" stroke="#888" stroke-opacity="0.6"/>
<path d="M594 321.3h2.2M595.1 320.2v2.2" stroke="#e06060" stroke-opacity="0.6"/>
<path d="M590.9 350.1h2.2M592 349v2.2" stroke="#e06060" stroke-opacity="0.6"/>
<path d="M547.6 256.5h2.2M548.7 255.4v2.2" stroke="#e06060" stroke-opacity="0.6"/>
<path d="M587.7 313h2.2M588.8 311.9v2.2" stroke="#e06060" stroke-opacity="0.6"/>
<path d="M562 298h2.2M563.1 296.9v2.2" stroke="#e06060" stroke-opacity="0.6"/>
<path d="M565.2 303h2.2M566.3 301.9v2.2" stroke="#e06060" stroke-opacity="0.6"/>
<path d="M598.7 314.4h2.2M599.8 313.3v2.2" stroke="#e06060" stroke-opacity="0.6"/>
<path d="M599.4 317.1h2.2M600.5 316v2.2" stroke="#888" stroke-opacity="0.6"/>
<path d="M558.1 340.2h2.2M559.2 339.1v2.2" stroke="#888" stroke-opacity="0.6"/>
<path d="M562.4 308.4h2.2M563.5 307.3v2.2" stroke="#888" stroke-opacity="0.6"/>
<path d="M597.2 281.4h2.2M598.3 280.3v2.2" stroke="#888" stroke-opacity="0.6"/>
<path d="M584 317.4h2.2M585.1 316.3v2.2" stroke="#e06060" stroke-opacity="0.6"/>
<path d="M616.2 318.3h2.2M617.3 317.2v2.2" stroke="#e06060" stroke-opacity="0.6"/>
<path d="M613.3 328.8h2.2M614.4 327.7v2.2" stroke="#e06060" stroke-opacity="0.6"/>
<path d="M572.4 316.3h2.2M573.5 315.2v2.2" stroke="#e06060" stroke-opacity="0.6"/>
<path d="M564.5 338.4h2.2M565.6 337.3v2.2" stroke="#e06060" stroke-opacity="0.6"/>
<path d="M588.2 309.7h2.2M589.3 308.6v2.2" stroke="#e06060" stroke-opacity="0.6"/>
<path d="M624.3 322.2h2.2M625.4 321.1v2.2" stroke="#e06060" stroke-opacity="0.6"/>
<path d="M552.5 321.9h2.2M553.6 320.8v2.2" stroke="#e06060" stroke-opacity="0.6"/>
</g>
<g>
<circle cx="514.3" cy="252.1" r="0.85" fill="#e07070"/>
<circle cx="516.3" cy="254.6" r="0.85" fill="#e07070"/>
<circle cx="522.3" cy="262.2" r="0.85" fill="#d85555"/>
<circle cx="524.3" cy="264.7" r="0.85" fill="#888"/>
<circle cx="530.3" cy="272.4" r="0.85" fill="#e07070"/>
<circle cx="534.4" cy="277.5" r="0.85" fill="#e07070"/>
<circle cx="536.5" cy="280.1" r="0.85" fill="#e06060"/>
<circle cx="538.5" cy="282.7" r="0.85" fill="#e07070"/>
<circle cx="542.7" cy="288" r="0.85" fill="#888"/>
<circle cx="544.8" cy="290.6" r="0.85" fill="#d85555"/>
<circle cx="546.9" cy="293.3" r="0.85" fill="#e07070"/>
<circle cx="549" cy="295.9" r="0.85" fill="#e06060"/>
<circle cx="551.1" cy="298.6" r="0.85" fill="#e07070"/>
<circle cx="553.2" cy="301.3" r="0.85" fill="#e06060"/>
<circle cx="555.4" cy="304" r="0.85" fill="#d85555"/>
<circle cx="557.5" cy="306.7" r="0.85" fill="#d85555"/>
<circle cx="559.7" cy="309.4" r="0.85" fill="#e06060"/>
<circle cx="561.8" cy="312.2" r="0.85" fill="#d85555"/>
<circle cx="564" cy="314.9" r="0.85" fill="#888"/>
<circle cx="566.2" cy="317.7" r="0.85" fill="#e06060"/>
<circle cx="568.4" cy="320.4" r="0.85" fill="#e07070"/>
<circle cx="570.5" cy="323.2" r="0.85" fill="#d85555"/>
<circle cx="575" cy="328.8" r="0.85" fill="#e06060"/>
<circle cx="577.2" cy="331.6" r="0.85" fill="#d85555"/>
<circle cx="579.4" cy="334.5" r="0.85" fill="#d85555"/>
<circle cx="581.7" cy="337.3" r="0.85" fill="#e06060"/>
<circle cx="586.2" cy="343" r="0.85" fill="#888"/>
</g>
<g stroke="#3a3a3a" stroke-width="0.7" fill="none">
<polyline points="494.3,220 500.9,332.7 588,370.5 659.4,327.9"/>
<line x1="497.7" y1="332.7" x2="500.9" y2="332.7"/>
<line x1="496.7" y1="315.5" x2="499.9" y2="315.5"/>
<line x1="495.6" y1="297.8" x2="498.8" y2="297.8"/>
<line x1="494.6" y1="279.7" x2="497.8" y2="279.7"/>
<line x1="493.5" y1="261.1" x2="496.7" y2="261.1"/>
<line x1="492.4" y1="242" x2="495.6" y2="242"/>
<line x1="491.3" y1="222.4" x2="494.5" y2="222.4"/>
<line x1="508.6" y1="336.1" x2="505.6" y2="337.4"/>
<line x1="521.5" y1="341.7" x2="518.5" y2="343.1"/>
<line x1="535" y1="347.5" x2="532" y2="349"/>
<line x1="549.2" y1="353.7" x2="546.2" y2="355.3"/>
<line x1="564.1" y1="360.1" x2="561.1" y2="361.8"/>
<line x1="579.7" y1="366.9" x2="576.7" y2="368.7"/>
<line x1="597.9" y1="364.6" x2="601.5" y2="366.1"/>
<line x1="610" y1="357.4" x2="613.5" y2="358.8"/>
<line x1="621.5" y1="350.6" x2="625" y2="351.9"/>
<line x1="632.4" y1="344.1" x2="635.8" y2="345.3"/>
<line x1="642.7" y1="337.9" x2="646.1" y2="339.1"/>
<line x1="652.6" y1="332" x2="655.9" y2="333.2"/>
</g>
<text x="497.1" y="336" style="font-size:9.3px" text-anchor="end" textLength="17" lengthAdjust="spacingAndGlyphs">777</text>
<text x="496.1" y="318.8" style="font-size:9.3px" text-anchor="end" textLength="17" lengthAdjust="spacingAndGlyphs">782</text>
<text x="495" y="301.1" style="font-size:9.3px" text-anchor="end" textLength="17" lengthAdjust="spacingAndGlyphs">787</text>
<text x="494" y="283" style="font-size:9.3px" text-anchor="end" textLength="17" lengthAdjust="spacingAndGlyphs">792</text>
<text x="492.9" y="264.4" style="font-size:9.3px" text-anchor="end" textLength="17" lengthAdjust="spacingAndGlyphs">797</text>
<text x="491.8" y="245.3" style="font-size:9.3px" text-anchor="end" textLength="17" lengthAdjust="spacingAndGlyphs">802</text>
<text x="490.7" y="225.7" style="font-size:9.3px" text-anchor="end" textLength="17" lengthAdjust="spacingAndGlyphs">807</text>
<text x="508.1" y="349.5" style="font-size:8.8px" text-anchor="middle">30</text>
<text x="521" y="355.7" style="font-size:8.8px" text-anchor="middle">27</text>
<text x="534.5" y="362.1" style="font-size:8.8px" text-anchor="middle">24</text>
<text x="548.7" y="368.9" style="font-size:8.8px" text-anchor="middle">21</text>
<text x="563.6" y="375.9" style="font-size:8.8px" text-anchor="middle">18</text>
<text x="579.2" y="383.2" style="font-size:8.8px" text-anchor="middle">15</text>
<text x="604.4" y="375.7" style="font-size:8.8px" text-anchor="middle">2.0</text>
<text x="616.5" y="368.5" style="font-size:8.8px" text-anchor="middle">1.8</text>
<text x="628" y="361.7" style="font-size:8.8px" text-anchor="middle">1.6</text>
<text x="638.9" y="355.2" style="font-size:8.8px" text-anchor="middle">1.4</text>
<text x="649.2" y="349" style="font-size:8.8px" text-anchor="middle">1.2</text>
<text x="659.1" y="343.1" style="font-size:8.8px" text-anchor="middle">1.0</text>
<text x="473.5" y="208" style="font-size:17px">f</text>
<text x="457.2" y="210" style="font-size:10.8px" textLength="142.4" lengthAdjust="spacingAndGlyphs" transform="rotate(85.5 457.2 210)">Peak cladding temperature (K)</text>
<text x="488.5" y="356.5" style="font-size:10.8px" textLength="100" lengthAdjust="spacingAndGlyphs" transform="rotate(23.5 488.5 356.5)">Linear power (kW/m)</text>
<text x="611.4" y="385.3" style="font-size:9.5px" textLength="68" lengthAdjust="spacingAndGlyphs" transform="rotate(-33.5 611.4 385.3)">Flow rate (m/s)</text>
<circle cx="505" cy="210.2" r="1.05" fill="#f07070"/>
<circle cx="505" cy="221" r="1.05" fill="#888"/>
<rect x="574.6" y="205.5" width="19.2" height="9.1" fill="url(#rg)"/>
<rect x="574.6" y="216" width="19.2" height="9" fill="url(#gg)"/>
<text x="517" y="211.7" style="font-size:7.8px" textLength="55.4" lengthAdjust="spacingAndGlyphs">K2K training data</text>
<text x="517" y="222.6" style="font-size:7.8px" textLength="52" lengthAdjust="spacingAndGlyphs">K2K testing data</text>
<text x="596" y="212.3" style="font-size:7.8px" textLength="85.9" lengthAdjust="spacingAndGlyphs">Peak cladding temperature</text>
<text x="596" y="223.4" style="font-size:7.8px" textLength="74.4" lengthAdjust="spacingAndGlyphs">Prediction error of K2K</text>
<text x="576.1" y="230.2" style="font-size:5.8px" text-anchor="middle">0</text>
<text x="593.3" y="230.2" style="font-size:5.8px" text-anchor="middle">1</text>
<text x="609.7" y="236.2" style="font-size:8.2px;font-weight:bold;fill:#8c1c2c;stroke:#8c1c2c" textLength="61.4" lengthAdjust="spacingAndGlyphs">K2K: Preserves the</text>
<text x="609.7" y="245.4" style="font-size:8.2px;font-weight:bold;fill:#8c1c2c;stroke:#8c1c2c" textLength="72.6" lengthAdjust="spacingAndGlyphs">intricate details of the</text>
<text x="609.7" y="254.7" style="font-size:8.2px;font-weight:bold;fill:#8c1c2c;stroke:#8c1c2c" textLength="65.4" lengthAdjust="spacingAndGlyphs">original distribution</text>
<text x="609.7" y="264.6" style="font-size:8.2px;font-weight:bold;fill:#8c1c2c;stroke:#8c1c2c" textLength="53.2" lengthAdjust="spacingAndGlyphs">while mitigating</text>
<text x="609.7" y="273.9" style="font-size:8.2px;font-weight:bold;fill:#8c1c2c;stroke:#8c1c2c" textLength="36" lengthAdjust="spacingAndGlyphs">overfitting.</text>
<path d="M216.3 271.3h4.7v22.4h-4.7zM207.1 280.8h22.9v3.9h-22.9z" fill="#8c1c2c"/>
<path d="M432.1 272.2h23.8v3.6h-23.8zM432.1 278.9h23.8v4.1h-23.8z" fill="#8c1c2c"/>
<g stroke="#e0e0e0" stroke-width="0.5" fill="none">
<polyline points="108.8,2 109,103.2 36.1,135.5"/>
<polyline points="123.4,4.6 122.7,107.7 50.1,141.4"/>
<polyline points="138.6,7.3 136.9,112.3 64.8,147.5"/>
<polyline points="154.6,10.1 151.7,117.2 80.2,153.9"/>
<polyline points="171.2,13 167.2,122.2 96.3,160.7"/>
<polyline points="188.7,16.1 183.3,127.4 113.3,167.8"/>
<polyline points="37.6,17.3 42.9,129.6 130.3,164.9"/>
<polyline points="58.7,12.3 62.3,121 149,153.8"/>
<polyline points="78.3,7.7 80.5,113.1 166.3,143.6"/>
<polyline points="96.5,3.4 97.5,105.7 182.3,134.1"/>
<polyline points="48.4,14.8 52.8,125.2"/>
<polyline points="68.7,10 71.6,117"/>
<polyline points="87.6,5.5 89.1,109.3"/>
</g>
<g stroke="#c8c8c8" stroke-width="0.6" fill="none">
<polyline points="26.5,19.9 105.2,1.4 195.8,17.3 189.9,129.6"/>
<polyline points="105.2,1.4 105.6,102.1"/>
<polyline points="32.6,134 105.6,102.1 189.9,129.6"/>
</g>
<line x1="97.2" y1="107.4" x2="173.7" y2="134.1" stroke="#2f6b98" stroke-width="1.5"/>
<line x1="80.4" y1="116.2" x2="158" y2="145.2" stroke="#57c3d3" stroke-width="1.5"/>
<line x1="61.4" y1="124.2" x2="139.5" y2="155.7" stroke="#f0a94c" stroke-width="1.5"/>
<line x1="41" y1="133.7" x2="119.8" y2="167.5" stroke="#85851c" stroke-width="1.5"/>
<polyline points="92.6,7 92.6,8.7 92.6,10.3 92.6,12 92.6,13.6 92.6,15.3 92.6,16.9 92.6,18.6 92.6,20.2 92.6,21.9 92.6,23.6 92.6,25.2 92.6,26.9 92.6,28.5 92.6,30.2 92.6,31.8 92.6,33.5 92.6,35.1 92.6,36.8" fill="none" stroke="#2f6b98" stroke-width="1.2" stroke-linejoin="round"/>
<polyline points="97,7.9 97,10.5" fill="none" stroke="#2f6b98" stroke-width="1" stroke-linejoin="round"/>
<polyline points="97.9,14.9 99.2,16.1 100.5,17.5 103.1,18.4 104,20.7 104.9,22.8 106.2,24.7 107.5,25.4 109,24.5 110,25.8 111,27.1 113.6,26.3 115.2,27.6 117.1,27.1 119.8,26.3 121.5,28 121.5,29.8 121.5,31.5 121.5,33.2 121.5,35 123,34.5 125,35.9 127.7,35 129.5,33.6 131.2,33.3 133,34.5 135.5,35 137.2,35.5 139,36 140.8,35.9 142.5,36.8 144.2,37.5 146,38.3 147.8,39.2 149.5,39.4 151.7,39.7 153.9,41.2 153.9,39.2 153.9,37.2 153.9,35.3 153.9,33.3 154,35.2 154.1,37.1 154.1,39.1 154.2,41 154.4,42.8 154.6,44.6 154.8,47.3 156.5,48.5 158.3,49.9 160,50.6 161.8,52.5 163.6,51.6 165.3,49.9 167.1,48.9 168.8,47.3 169.4,44.9 170,44.4 170.6,42 170.7,41.1 170.9,39 171,37.4 171.1,35.1 171.3,33.3 171.4,32.4 172.8,33.8 174.1,33.3 176.7,32.4 177.1,34.6 177.6,36.8" fill="none" stroke="#2f6b98" stroke-width="1.5" stroke-linejoin="round"/>
<polyline points="74.9,38 74.9,39.7 74.9,41.3 74.9,43 74.9,44.7 74.9,46.3 74.9,48 74.9,49.6 74.9,51.3 74.9,53 74.9,54.6 74.9,56.3" fill="none" stroke="#57c3d3" stroke-width="1.2" stroke-linejoin="round"/>
<polyline points="78.4,44.9 81.1,45.3 84,46.1 86.2,47.5 86.6,49.1 86.9,51.9 89.1,53.4 91.3,55.5 92.8,56.2 94.2,57.7 96.4,58.5 98.6,60.7 100,59.2 100,57.5 99.9,55.8 99.8,54.1 99.8,52.4 99.8,50.7 99.7,49 100.8,46.8 103,46.1 105.2,46.1 107.3,46.8 109.5,46.8 111.7,48.2 113.9,48.5 116.1,49 118.3,49.3 120.5,49.7 122,51.1 123.4,51.7 124.9,52.6 126.3,53.5 127.8,54.1 129.2,54.8 131.4,55.5 131.4,57.4 131.4,59.3 131.4,61.2 131.4,63.1 131.4,65 133.6,65.8 136,66.2 138,67.2 140,67.6 142.4,68.7 144.5,67.5 146.8,68.2 149,68.4 151.1,69.1 151.6,67.7 152.1,65.8 152.6,64.3 154,66.5 154.8,64.7 155.5,63.6 155.8,66 156.1,67.8 156.4,69.3 156.7,70.9 157,72.3 157.7,74.2 158.4,76.7 158.5,74.6 158.6,72.9 158.6,70.8 158.7,70.1 158.8,67.8 158.9,66.7 159,64.3 159,63.3 159.1,61.4 159.2,59.2" fill="none" stroke="#57c3d3" stroke-width="1.5" stroke-linejoin="round"/>
<polyline points="55.7,64.4 55.7,66.1 55.7,67.7 55.7,69.4 55.7,71 55.7,72.7 55.7,74.4 55.7,76 55.7,77.7 55.7,79.3 55.7,81 55.7,82.7 55.7,84.3 55.7,86 55.7,87.7 55.7,89.3 55.7,91 55.7,92.6 55.7,94.3" fill="none" stroke="#f0a94c" stroke-width="1.2" stroke-linejoin="round"/>
<polyline points="60.3,89.2 62.5,88.5 63.2,86 64,84.8 66.2,85.5 68.4,87.7 69.8,89.1 71.3,91.4 72.3,93.4 73.2,94.3 74.2,95.8 75.3,98.3 76.4,99.4 78.6,100.1 78.7,98.3 78.7,96.2 78.8,95.4 78.8,93.9 78.9,91.6 78.9,89.7 79,88.4 79.1,87.6 79.1,85.7 79.2,83.1 79.2,81.7 79.3,80.4 80.8,79.7 83,81.9 85.1,84.1 86.2,85.3 87.3,87.7 89.5,87.8 91.7,89.2 94,89.8 95.8,90.7 97.6,90.7 100.5,90.9 103.4,91.4 104.8,92 106.3,93.6 107.8,94.4 109.2,95 110.7,96 112.2,97.2 113.7,97.5 115.1,98.7 118,98 120,97.5 122.4,96.5 124.5,96.8 126.8,95.8 129,95.9 131.1,95 132.1,93.9 133,91.6 134,90.7 137,89.9 138.4,92.1 138.6,94.1 138.8,95.2 139,97.5 139.2,99.4 139.9,101.2 140.6,103.8" fill="none" stroke="#f0a94c" stroke-width="1.5" stroke-linejoin="round"/>
<polyline points="112.2,97.2 112.2,99 112.2,100.9 112.2,102.7 112.2,104.5 112.2,106.3 112.2,108.2 112.2,110" fill="none" stroke="#f0a94c" stroke-width="1" stroke-linejoin="round"/>
<polyline points="36.1,97.9 36.1,99.5 36.1,101.2 36.1,102.8 36.1,104.5 36.1,106.1 36.1,107.8 36.1,109.4 36.1,111 36.1,112.7 36.1,114.3 36.1,116 36.1,117.6" fill="none" stroke="#85851c" stroke-width="1.4" stroke-linejoin="round"/>
<polyline points="40.2,107.4 43.1,108.4 44.6,108.7 46.1,109.6 47.5,111.4 49,111.8 50.5,113.3 51.9,114 53.3,115.2 54.8,116.9 57,118.4 58.1,117.4 59.2,115.4 61.4,114 62.8,114.7 64.3,116.2 66.5,117.6 69.4,118.4 70.8,119 72.3,119.8 73.8,121 75.3,121.3 78.2,122 80.4,121 82.6,122 84,123.5 85.1,125.1 86.2,126.4 88.4,128.6 89.8,129.5 91.3,131.5 92.8,134 94.2,135.1 95.7,136.5 97.2,138.8 98.7,139.9 100.1,141.7 103,141 104.5,140.6 105.9,139.5 106.7,137.5 107.4,135.9 109.6,134.4 111.8,133 112.5,130.9 113.2,129.3 115.4,129.3 117.6,130 117.7,131.2 117.9,132.9 118,135.4 118.2,136.7 118.3,138.8 118.6,140.9 118.8,142.5 119.1,144.6 119.2,146.3 119.2,148 119.3,149.7" fill="none" stroke="#85851c" stroke-width="1.7" stroke-linejoin="round"/>
<g fill="none" stroke="#111" stroke-width="1.05" stroke-dasharray="3.6 1.8">
<ellipse cx="112.8" cy="26.3" rx="6.1" ry="7"/>
<ellipse cx="165.7" cy="40.3" rx="7" ry="14"/>
<ellipse cx="98.9" cy="53.1" rx="4.7" ry="9.5"/>
<ellipse cx="147.2" cy="66.5" rx="8.8" ry="7.3"/>
<ellipse cx="78.9" cy="90.2" rx="5.1" ry="13.1"/>
<ellipse cx="123.8" cy="93.6" rx="11.7" ry="9"/>
<ellipse cx="57.4" cy="116.2" rx="5.1" ry="6.6"/>
<ellipse cx="106.6" cy="135.1" rx="8.8" ry="11.7"/>
</g>
<g stroke="#333" stroke-width="0.7" fill="none">
<polyline points="26.5,19.9 32.6,134 120.3,170.7 189.9,129.6"/>
<line x1="29.6" y1="134" x2="32.6" y2="134"/>
<line x1="28.8" y1="118.8" x2="31.8" y2="118.8"/>
<line x1="27.9" y1="103.1" x2="30.9" y2="103.1"/>
<line x1="27.1" y1="87.2" x2="30.1" y2="87.2"/>
<line x1="26.2" y1="70.9" x2="29.2" y2="70.9"/>
<line x1="25.3" y1="54.3" x2="28.3" y2="54.3"/>
<line x1="24.4" y1="37.3" x2="27.4" y2="37.3"/>
<line x1="23.5" y1="19.9" x2="26.5" y2="19.9"/>
<line x1="36.1" y1="135.5" x2="33.1" y2="136.8"/>
<line x1="50.1" y1="141.4" x2="47.1" y2="142.7"/>
<line x1="64.8" y1="147.5" x2="61.8" y2="148.9"/>
<line x1="80.2" y1="153.9" x2="77.3" y2="155.4"/>
<line x1="96.3" y1="160.7" x2="93.4" y2="162.3"/>
<line x1="113.3" y1="167.8" x2="110.5" y2="169.5"/>
<line x1="125.3" y1="167.8" x2="128.9" y2="169.2"/>
<line x1="135.1" y1="162" x2="138.6" y2="163.4"/>
<line x1="144.4" y1="156.5" x2="147.9" y2="157.8"/>
<line x1="153.4" y1="151.2" x2="156.9" y2="152.5"/>
<line x1="162.1" y1="146.1" x2="165.5" y2="147.3"/>
<line x1="170.4" y1="141.1" x2="173.8" y2="142.3"/>
<line x1="178.4" y1="136.4" x2="181.8" y2="137.5"/>
<line x1="186.2" y1="131.8" x2="189.5" y2="132.9"/>
</g>
<text x="34.5" y="148.5" style="font-size:10.2px" text-anchor="middle" textLength="9.6" lengthAdjust="spacingAndGlyphs">50</text>
<text x="49.4" y="155.5" style="font-size:10.2px" text-anchor="middle" textLength="14.4" lengthAdjust="spacingAndGlyphs">120</text>
<text x="64.3" y="162" style="font-size:10.2px" text-anchor="middle" textLength="14.4" lengthAdjust="spacingAndGlyphs">190</text>
<text x="79.2" y="169.5" style="font-size:10.2px" text-anchor="middle" textLength="14.4" lengthAdjust="spacingAndGlyphs">260</text>
<text x="95.8" y="176" style="font-size:10.2px" text-anchor="middle" textLength="14.4" lengthAdjust="spacingAndGlyphs">330</text>
<text x="113" y="184.4" style="font-size:10.2px" text-anchor="middle" textLength="14.4" lengthAdjust="spacingAndGlyphs">400</text>
<text x="136.7" y="176.9" style="font-size:10.4px" textLength="47.9" lengthAdjust="spacingAndGlyphs">Magnetite</text>
<text x="148" y="165.7" style="font-size:10.4px" textLength="58.3" lengthAdjust="spacingAndGlyphs">Temperature</text>
<text x="163.7" y="155.4" style="font-size:10.4px" textLength="25.4" lengthAdjust="spacingAndGlyphs">Strain</text>
<text x="179.5" y="145.3" style="font-size:10.4px" textLength="53.3" lengthAdjust="spacingAndGlyphs">Gas pressure</text>
<text x="21.6" y="160.6" style="font-size:10.6px" textLength="74" lengthAdjust="spacingAndGlyphs" transform="rotate(24.5 21.6 160.6)">Dataset volume</text>
<text x="6.8" y="68.7" style="font-size:11px" textLength="29.5" lengthAdjust="spacingAndGlyphs" transform="rotate(90 6.8 68.7)">Errors</text>
<text x="7" y="14.6" style="font-size:17px">a</text>
<line x1="28.9" y1="4.5" x2="48.6" y2="4.5" stroke="#85851c" stroke-width="1.5"/>
<circle cx="38.7" cy="4.5" r="1.5" fill="#85851c"/>
<text x="49.9" y="7" style="font-size:7.4px" textLength="31.8" lengthAdjust="spacingAndGlyphs">Magnetite</text>
<line x1="28.9" y1="14.6" x2="48.6" y2="14.6" stroke="#f0a94c" stroke-width="1.5"/>
<circle cx="38.7" cy="14.6" r="1.5" fill="#f0a94c"/>
<text x="49.9" y="17.4" style="font-size:7.4px" textLength="40.2" lengthAdjust="spacingAndGlyphs">Temperature</text>
<line x1="28.9" y1="25.3" x2="48.6" y2="25.3" stroke="#57c3d3" stroke-width="1.5"/>
<circle cx="38.7" cy="25.3" r="1.5" fill="#57c3d3"/>
<text x="49.9" y="27.8" style="font-size:7.4px" textLength="18.1" lengthAdjust="spacingAndGlyphs">Strain</text>
<line x1="28.9" y1="35.9" x2="48.6" y2="35.9" stroke="#2f6b98" stroke-width="1.5"/>
<circle cx="38.7" cy="35.9" r="1.5" fill="#2f6b98"/>
<text x="49.9" y="38.7" style="font-size:7.4px" textLength="40" lengthAdjust="spacingAndGlyphs">Gas pressure</text>
<g stroke="#dcdcdc" stroke-width="0.5" fill="none">
<polyline points="271.6,334.9 348.2,301.8 433.9,330"/>
<polyline points="270.9,324.3 348.2,292.5 434.5,319.6"/>
<polyline points="270.3,313.7 348.1,283.1 435.1,309.1"/>
<polyline points="269.7,302.8 348.1,273.5 435.7,298.5"/>
<polyline points="269,291.8 348.1,263.9 436.3,287.6"/>
<polyline points="268.4,280.6 348,254.1 436.9,276.6"/>
<polyline points="267.7,269.2 348,244.1 437.6,265.5"/>
<polyline points="267.1,257.7 348,234.1 438.2,254.2"/>
<polyline points="266.4,246 347.9,223.9 438.8,242.7"/>
<polyline points="265.7,234 347.9,213.6 439.5,231"/>
<polyline points="265,221.9 347.8,203.1 440.2,219.1"/>
<polyline points="276.3,217 282,330.4 370.9,367.5"/>
<polyline points="290.3,213.8 294.8,324.8 383.3,360.2"/>
<polyline points="303.6,210.9 307.1,319.5 395.1,353.1"/>
<polyline points="316.2,208.1 318.8,314.5 406.2,346.5"/>
<polyline points="328.3,205.4 330,309.7 416.8,340.2"/>
<polyline points="339.8,202.8 340.7,305 426.9,334.2"/>
<polyline points="356.2,202.4 356,304.3 279.5,338.3"/>
<polyline points="370,204.8 368.9,308.6 292.7,344.1"/>
<polyline points="384.4,207.2 382.2,313 306.5,350.1"/>
<polyline points="399.4,209.8 396.2,317.6 321,356.4"/>
<polyline points="415.1,212.5 410.7,322.4 336.3,363"/>
<polyline points="431.6,215.3 425.9,327.4 352.3,369.9"/>
</g>
<g stroke="#bdbdbd" stroke-width="0.6" fill="none">
<polyline points="264.9,219.5 347.8,201 440.3,216.8 433.9,330"/>
</g>
<g stroke="#9a9a9a" stroke-width="0.6" fill="none">
<polyline points="347.8,201 348.2,301.8"/>
<polyline points="271.6,334.9 348.2,301.8 433.9,330"/>
</g>
<g>
<ellipse cx="294.3" cy="331.3" rx="2.4" ry="1.4" fill="#c4c4c4" transform="rotate(23.5 294.3 331.3)"/>
<ellipse cx="330.1" cy="345" rx="2.4" ry="1.4" fill="#bcbcbc" transform="rotate(23.5 330.1 345)"/>
<ellipse cx="345.3" cy="351.7" rx="2.4" ry="1.4" fill="#bcbcbc" transform="rotate(23.5 345.3 351.7)"/>
<ellipse cx="357.4" cy="357.5" rx="2.4" ry="1.4" fill="#cccccc" transform="rotate(23.5 357.4 357.5)"/>
<ellipse cx="310.4" cy="329.5" rx="2.4" ry="1.4" fill="#c4c4c4" transform="rotate(23.5 310.4 329.5)"/>
<ellipse cx="324.8" cy="333.7" rx="2.4" ry="1.4" fill="#c4c4c4" transform="rotate(23.5 324.8 333.7)"/>
<ellipse cx="333.6" cy="338.5" rx="2.4" ry="1.4" fill="#c8c8c8" transform="rotate(23.5 333.6 338.5)"/>
<ellipse cx="347.6" cy="342.2" rx="2.4" ry="1.4" fill="#c8c8c8" transform="rotate(23.5 347.6 342.2)"/>
<ellipse cx="360.9" cy="348" rx="2.4" ry="1.4" fill="#c4c4c4" transform="rotate(23.5 360.9 348)"/>
<ellipse cx="373.8" cy="353.3" rx="2.4" ry="1.4" fill="#cccccc" transform="rotate(23.5 373.8 353.3)"/>
<ellipse cx="316.6" cy="322.5" rx="2.4" ry="1.4" fill="#bcbcbc" transform="rotate(23.5 316.6 322.5)"/>
<ellipse cx="339" cy="330.8" rx="2.4" ry="1.4" fill="#c4c4c4" transform="rotate(23.5 339 330.8)"/>
<ellipse cx="349.3" cy="335.4" rx="2.4" ry="1.4" fill="#c4c4c4" transform="rotate(23.5 349.3 335.4)"/>
<ellipse cx="362.8" cy="339.8" rx="2.4" ry="1.4" fill="#d0d0d0" transform="rotate(23.5 362.8 339.8)"/>
<ellipse cx="333.8" cy="319.7" rx="2.4" ry="1.4" fill="#c4c4c4" transform="rotate(23.5 333.8 319.7)"/>
<ellipse cx="344.1" cy="324.4" rx="2.4" ry="1.4" fill="#bcbcbc" transform="rotate(23.5 344.1 324.4)"/>
<ellipse cx="354.7" cy="328.2" rx="2.4" ry="1.4" fill="#bcbcbc" transform="rotate(23.5 354.7 328.2)"/>
<ellipse cx="366.7" cy="332.8" rx="2.4" ry="1.4" fill="#d0d0d0" transform="rotate(23.5 366.7 332.8)"/>
<ellipse cx="380.5" cy="337.2" rx="2.4" ry="1.4" fill="#c8c8c8" transform="rotate(23.5 380.5 337.2)"/>
<ellipse cx="393.1" cy="341.6" rx="2.4" ry="1.4" fill="#c4c4c4" transform="rotate(23.5 393.1 341.6)"/>
<ellipse cx="334.8" cy="313.4" rx="2.4" ry="1.4" fill="#cccccc" transform="rotate(23.5 334.8 313.4)"/>
<ellipse cx="344.6" cy="317.4" rx="2.4" ry="1.4" fill="#bcbcbc" transform="rotate(23.5 344.6 317.4)"/>
<ellipse cx="358.9" cy="321.7" rx="2.4" ry="1.4" fill="#cccccc" transform="rotate(23.5 358.9 321.7)"/>
<ellipse cx="383.1" cy="330.1" rx="2.4" ry="1.4" fill="#c4c4c4" transform="rotate(23.5 383.1 330.1)"/>
<ellipse cx="395.5" cy="335.3" rx="2.4" ry="1.4" fill="#c8c8c8" transform="rotate(23.5 395.5 335.3)"/>
<ellipse cx="363.5" cy="315.3" rx="2.4" ry="1.4" fill="#c4c4c4" transform="rotate(23.5 363.5 315.3)"/>
<ellipse cx="373.2" cy="319.7" rx="2.4" ry="1.4" fill="#cccccc" transform="rotate(23.5 373.2 319.7)"/>
<ellipse cx="386.4" cy="323.1" rx="2.4" ry="1.4" fill="#bcbcbc" transform="rotate(23.5 386.4 323.1)"/>
<ellipse cx="409.5" cy="332.2" rx="2.4" ry="1.4" fill="#d0d0d0" transform="rotate(23.5 409.5 332.2)"/>
<ellipse cx="288.8" cy="334.9" rx="2.8" ry="1.35" fill="#bfbfbf" transform="rotate(23.5 288.8 334.9)"/>
<ellipse cx="293.6" cy="336.9" rx="2.8" ry="1.35" fill="#b3b3b3" transform="rotate(23.5 293.6 336.9)"/>
<ellipse cx="297.6" cy="338.6" rx="3.2" ry="1.35" fill="#a5a5a5" transform="rotate(23.5 297.6 338.6)"/>
<ellipse cx="301.6" cy="340.3" rx="3.2" ry="1.35" fill="#a5a5a5" transform="rotate(23.5 301.6 340.3)"/>
<ellipse cx="304.1" cy="341.4" rx="2.4" ry="1.35" fill="#afafaf" transform="rotate(23.5 304.1 341.4)"/>
<ellipse cx="306.6" cy="342.4" rx="2.8" ry="1.35" fill="#aaaaaa" transform="rotate(23.5 306.6 342.4)"/>
<ellipse cx="309.8" cy="343.8" rx="3.2" ry="1.35" fill="#c2c2c2" transform="rotate(23.5 309.8 343.8)"/>
<ellipse cx="315" cy="345.9" rx="2.8" ry="1.35" fill="#aaaaaa" transform="rotate(23.5 315 345.9)"/>
<ellipse cx="318.3" cy="347.3" rx="2.4" ry="1.35" fill="#a5a5a5" transform="rotate(23.5 318.3 347.3)"/>
<ellipse cx="323.6" cy="349.6" rx="2.4" ry="1.35" fill="#a3a3a3" transform="rotate(23.5 323.6 349.6)"/>
<ellipse cx="328.9" cy="351.8" rx="2.4" ry="1.35" fill="#bfbfbf" transform="rotate(23.5 328.9 351.8)"/>
<ellipse cx="331.7" cy="353" rx="2.4" ry="1.35" fill="#bababa" transform="rotate(23.5 331.7 353)"/>
<ellipse cx="336.2" cy="354.9" rx="2.8" ry="1.35" fill="#b5b5b5" transform="rotate(23.5 336.2 354.9)"/>
<ellipse cx="341.8" cy="357.2" rx="2.4" ry="1.35" fill="#b3b3b3" transform="rotate(23.5 341.8 357.2)"/>
<ellipse cx="345.4" cy="358.7" rx="2.8" ry="1.35" fill="#a7a7a7" transform="rotate(23.5 345.4 358.7)"/>
<ellipse cx="349.1" cy="360.3" rx="3.2" ry="1.35" fill="#bcbcbc" transform="rotate(23.5 349.1 360.3)"/>
<ellipse cx="352" cy="361.5" rx="3.2" ry="1.35" fill="#b8b8b8" transform="rotate(23.5 352 361.5)"/>
<ellipse cx="354.9" cy="362.7" rx="2.4" ry="1.35" fill="#bfbfbf" transform="rotate(23.5 354.9 362.7)"/>
</g>
<g fill="#e47a7a">
<circle cx="343.7" cy="281.4" r="0.7"/>
<circle cx="353.9" cy="258.1" r="0.7"/>
<circle cx="343.9" cy="301.2" r="0.7"/>
<circle cx="344.9" cy="237.7" r="0.7"/>
<circle cx="363.2" cy="322.9" r="0.7"/>
<circle cx="331.4" cy="236.1" r="0.7"/>
<circle cx="388.7" cy="307.5" r="0.7"/>
<circle cx="332.9" cy="289.5" r="0.7"/>
<circle cx="401.2" cy="292" r="0.7"/>
<circle cx="354" cy="250.4" r="0.7"/>
<circle cx="367.5" cy="242.4" r="0.7"/>
<circle cx="321.6" cy="240.4" r="0.7"/>
<circle cx="387.8" cy="314.2" r="0.7"/>
<circle cx="332.6" cy="297.3" r="0.7"/>
<circle cx="341.6" cy="273.3" r="0.7"/>
<circle cx="356.8" cy="329.9" r="0.7"/>
<circle cx="298.8" cy="251.9" r="0.7"/>
<circle cx="321.8" cy="284.7" r="0.7"/>
<circle cx="341.9" cy="252.5" r="0.7"/>
<circle cx="335.6" cy="324.4" r="0.7"/>
<circle cx="381" cy="272" r="0.7"/>
<circle cx="342.2" cy="214.8" r="0.7"/>
<circle cx="315.2" cy="302.2" r="0.7"/>
<circle cx="345.3" cy="309.7" r="0.7"/>
<circle cx="394" cy="236.5" r="0.7"/>
<circle cx="297.3" cy="249.5" r="0.7"/>
<circle cx="374.1" cy="261.1" r="0.7"/>
<circle cx="320.8" cy="309.8" r="0.7"/>
<circle cx="418" cy="234.2" r="0.7"/>
<circle cx="391.2" cy="278.1" r="0.7"/>
<circle cx="348.7" cy="274.1" r="0.7"/>
<circle cx="358.9" cy="282.6" r="0.7"/>
<circle cx="363.4" cy="317.5" r="0.7"/>
<circle cx="362" cy="226.2" r="0.7"/>
<circle cx="333.1" cy="269.1" r="0.7"/>
<circle cx="351.5" cy="318.6" r="0.7"/>
<circle cx="357.8" cy="281.6" r="0.7"/>
<circle cx="376.2" cy="256.9" r="0.7"/>
<circle cx="413.7" cy="297.9" r="0.7"/>
<circle cx="363.4" cy="288" r="0.7"/>
</g>
<polygon points="356.8,281 349,296 358,293.5 367,289.5" fill="#e6eaea"/>
<g stroke-width="0.3" stroke-linejoin="round" stroke="#5d6d6b" stroke-opacity="0.5">
<polygon points="285.7,272 286.8,275.2 286.8,275 285.7,272" fill="#76d7c9"/>
<polygon points="285.7,272 286.8,275 286.8,274.7 285.7,272" fill="#84d9cd"/>
<polygon points="285.7,272 286.8,274.7 286.8,274.5 285.7,272" fill="#91dcd1"/>
<polygon points="285.7,272 286.8,274.5 286.8,274.3 285.7,272" fill="#9eded5"/>
<polygon points="285.7,272 286.8,274.3 286.7,274 285.7,272" fill="#a7e0d8"/>
<polygon points="285.7,272 286.7,274 286.7,273.8 285.7,272" fill="#a7e0d8"/>
<polygon points="285.7,272 286.7,273.8 286.7,273.5 285.7,272" fill="#a7e0d8"/>
<polygon points="285.7,272 286.7,273.5 286.7,273.3 285.7,272" fill="#a7e0d8"/>
<polygon points="285.7,272 286.7,273.3 286.7,273 285.7,272" fill="#a7e0d8"/>
<polygon points="285.7,272 286.7,273 286.7,272.8 285.7,272" fill="#a7e0d8"/>
<polygon points="285.7,272 286.7,272.8 286.7,272.6 285.7,272" fill="#a7e0d8"/>
<polygon points="285.7,272 286.7,272.6 286.7,272.3 285.7,272" fill="#a7e0d8"/>
<polygon points="285.7,272 286.7,272.3 286.7,272.1 285.7,272" fill="#a7e0d8"/>
<polygon points="285.7,272 286.7,272.1 286.6,271.8 285.7,272" fill="#a7e0d8"/>
<polygon points="285.7,272 286.6,271.8 286.6,271.6 285.7,272" fill="#a7e0d8"/>
<polygon points="285.7,272 286.6,271.6 286.6,271.3 285.7,272" fill="#a7e0d8"/>
<polygon points="285.7,272 286.6,271.3 286.6,271.1 285.7,272" fill="#a7e0d8"/>
<polygon points="285.7,272 286.6,271.1 286.6,270.9 285.7,272" fill="#a7e0d8"/>
<polygon points="285.7,272 286.6,270.9 286.6,270.6 285.7,272" fill="#a7e0d8"/>
<polygon points="285.7,272 286.6,270.6 286.6,270.4 285.7,272" fill="#9bded4"/>
<polygon points="285.7,272 286.6,270.4 286.6,270.1 285.7,272" fill="#8adbcf"/>
<polygon points="285.7,272 286.6,270.1 286.6,269.9 285.7,272" fill="#7ad7ca"/>
<polygon points="286.8,275.2 287.8,278.5 287.8,278 286.8,275" fill="#76d7c9"/>
<polygon points="286.8,275 287.8,278 287.8,277.5 286.8,274.7" fill="#84d9cd"/>
<polygon points="286.8,274.7 287.8,277.5 287.8,277 286.8,274.5" fill="#91dcd1"/>
<polygon points="286.8,274.5 287.8,277 287.8,276.5 286.8,274.3" fill="#9eded5"/>
<polygon points="286.8,274.3 287.8,276.5 287.7,276 286.7,274" fill="#abe1d9"/>
<polygon points="286.7,274 287.7,276 287.7,275.5 286.7,273.8" fill="#afe2da"/>
<polygon points="286.7,273.8 287.7,275.5 287.7,275.1 286.7,273.5" fill="#afe2da"/>
<polygon points="286.7,273.5 287.7,275.1 287.7,274.6 286.7,273.3" fill="#afe2da"/>
<polygon points="286.7,273.3 287.7,274.6 287.7,274.1 286.7,273" fill="#afe2da"/>
<polygon points="286.7,273 287.7,274.1 287.7,273.6 286.7,272.8" fill="#afe2da"/>
<polygon points="286.7,272.8 287.7,273.6 287.6,273.1 286.7,272.6" fill="#afe2da"/>
<polygon points="286.7,272.6 287.6,273.1 287.6,272.6 286.7,272.3" fill="#afe2da"/>
<polygon points="286.7,272.3 287.6,272.6 287.6,272.1 286.7,272.1" fill="#afe2da"/>
<polygon points="286.7,272.1 287.6,272.1 287.6,271.6 286.6,271.8" fill="#afe2da"/>
<polygon points="286.6,271.8 287.6,271.6 287.6,271.2 286.6,271.6" fill="#afe2da"/>
<polygon points="286.6,271.6 287.6,271.2 287.5,270.7 286.6,271.3" fill="#afe2da"/>
<polygon points="286.6,271.3 287.5,270.7 287.5,270.2 286.6,271.1" fill="#afe2da"/>
<polygon points="286.6,271.1 287.5,270.2 287.5,269.7 286.6,270.9" fill="#afe2da"/>
<polygon points="286.6,270.9 287.5,269.7 287.5,269.2 286.6,270.6" fill="#abe1d9"/>
<polygon points="286.6,270.6 287.5,269.2 287.4,268.7 286.6,270.4" fill="#9cded4"/>
<polygon points="286.6,270.4 287.4,268.7 287.4,268.2 286.6,270.1" fill="#8ddbcf"/>
<polygon points="286.6,270.1 287.4,268.2 287.4,267.7 286.6,269.9" fill="#7cd8ca"/>
<polygon points="287.8,278.5 288.9,281.7 288.9,281 287.8,278" fill="#76d7c9"/>
<polygon points="287.8,278 288.9,281 288.8,280.3 287.8,277.5" fill="#84d9cd"/>
<polygon points="287.8,277.5 288.8,280.3 288.8,279.5 287.8,277" fill="#91dcd1"/>
<polygon points="287.8,277 288.8,279.5 288.8,278.8 287.8,276.5" fill="#9eded5"/>
<polygon points="287.8,276.5 288.8,278.8 288.7,278.1 287.7,276" fill="#abe1d9"/>
<polygon points="287.7,276 288.7,278.1 288.7,277.3 287.7,275.5" fill="#b7e3dd"/>
<polygon points="287.7,275.5 288.7,277.3 288.7,276.6 287.7,275.1" fill="#b8e3dd"/>
<polygon points="287.7,275.1 288.7,276.6 288.7,275.9 287.7,274.6" fill="#b8e3dd"/>
<polygon points="287.7,274.6 288.7,275.9 288.6,275.1 287.7,274.1" fill="#b8e3dd"/>
<polygon points="287.7,274.1 288.6,275.1 288.6,274.4 287.7,273.6" fill="#b8e3dd"/>
<polygon points="287.7,273.6 288.6,274.4 288.6,273.7 287.6,273.1" fill="#b8e3dd"/>
<polygon points="287.6,273.1 288.6,273.7 288.6,273 287.6,272.6" fill="#b8e3dd"/>
<polygon points="287.6,272.6 288.6,273 288.5,272.2 287.6,272.1" fill="#b8e3dd"/>
<polygon points="287.6,272.1 288.5,272.2 288.5,271.5 287.6,271.6" fill="#b8e3dd"/>
<polygon points="287.6,271.6 288.5,271.5 288.5,270.8 287.6,271.2" fill="#b8e3dd"/>
<polygon points="287.6,271.2 288.5,270.8 288.4,270 287.5,270.7" fill="#b8e3dd"/>
<polygon points="287.5,270.7 288.4,270 288.4,269.3 287.5,270.2" fill="#b8e3dd"/>
<polygon points="287.5,270.2 288.4,269.3 288.4,268.6 287.5,269.7" fill="#b8e3dd"/>
<polygon points="287.5,269.7 288.4,268.6 288.3,267.9 287.5,269.2" fill="#ade1d9"/>
<polygon points="287.5,269.2 288.3,267.9 288.3,267.1 287.4,268.7" fill="#9edfd5"/>
<polygon points="287.4,268.7 288.3,267.1 288.3,266.4 287.4,268.2" fill="#8fdcd0"/>
<polygon points="287.4,268.2 288.3,266.4 288.3,265.7 287.4,267.7" fill="#7fd8cb"/>
<polygon points="288.9,281.7 290,285 289.9,284 288.9,281" fill="#76d7c9"/>
<polygon points="288.9,281 289.9,284 289.9,283 288.8,280.3" fill="#84d9cd"/>
<polygon points="288.8,280.3 289.9,283 289.9,282 288.8,279.5" fill="#91dcd1"/>
<polygon points="288.8,279.5 289.9,282 289.8,281.1 288.8,278.8" fill="#9eded5"/>
<polygon points="288.8,278.8 289.8,281.1 289.8,280.1 288.7,278.1" fill="#abe1d9"/>
<polygon points="288.7,278.1 289.8,280.1 289.8,279.1 288.7,277.3" fill="#b7e3dd"/>
<polygon points="288.7,277.3 289.8,279.1 289.7,278.2 288.7,276.6" fill="#c0e5df"/>
<polygon points="288.7,276.6 289.7,278.2 289.7,277.2 288.7,275.9" fill="#c0e5df"/>
<polygon points="288.7,275.9 289.7,277.2 289.7,276.2 288.6,275.1" fill="#c0e5df"/>
<polygon points="288.6,275.1 289.7,276.2 289.6,275.3 288.6,274.4" fill="#c0e5df"/>
<polygon points="288.6,274.4 289.6,275.3 289.6,274.3 288.6,273.7" fill="#c0e5df"/>
<polygon points="288.6,273.7 289.6,274.3 289.6,273.3 288.6,273" fill="#c0e5df"/>
<polygon points="288.6,273 289.6,273.3 289.5,272.4 288.5,272.2" fill="#c0e5df"/>
<polygon points="288.5,272.2 289.5,272.4 289.5,271.4 288.5,271.5" fill="#c0e5df"/>
<polygon points="288.5,271.5 289.5,271.4 289.4,270.4 288.5,270.8" fill="#c0e5df"/>
<polygon points="288.5,270.8 289.4,270.4 289.4,269.5 288.4,270" fill="#c0e5df"/>
<polygon points="288.4,270 289.4,269.5 289.4,268.5 288.4,269.3" fill="#c0e5df"/>
<polygon points="288.4,269.3 289.4,268.5 289.3,267.5 288.4,268.6" fill="#bbe4de"/>
<polygon points="288.4,268.6 289.3,267.5 289.3,266.6 288.3,267.9" fill="#aee2da"/>
<polygon points="288.3,267.9 289.3,266.6 289.2,265.6 288.3,267.1" fill="#a0dfd5"/>
<polygon points="288.3,267.1 289.2,265.6 289.2,264.6 288.3,266.4" fill="#91dcd1"/>
<polygon points="288.3,266.4 289.2,264.6 289.2,263.7 288.3,265.7" fill="#81d9cc"/>
<polygon points="290,285 291.2,288.2 291.2,286.9 289.9,284" fill="#76d7c9"/>
<polygon points="289.9,284 291.2,286.9 291.1,285.7 289.9,283" fill="#84d9cd"/>
<polygon points="289.9,283 291.1,285.7 291.1,284.5 289.9,282" fill="#91dcd1"/>
<polygon points="289.9,282 291.1,284.5 291,283.3 289.8,281.1" fill="#9eded5"/>
<polygon points="289.8,281.1 291,283.3 291,282.1 289.8,280.1" fill="#abe1d9"/>
<polygon points="289.8,280.1 291,282.1 291,280.9 289.8,279.1" fill="#b7e3dd"/>
<polygon points="289.8,279.1 291,280.9 290.9,279.7 289.7,278.2" fill="#c4e6e0"/>
<polygon points="289.7,278.2 290.9,279.7 290.9,278.5 289.7,277.2" fill="#c9e7e2"/>
<polygon points="289.7,277.2 290.9,278.5 290.8,277.2 289.7,276.2" fill="#c9e7e2"/>
<polygon points="289.7,276.2 290.8,277.2 290.8,276 289.6,275.3" fill="#c9e7e2"/>
<polygon points="289.6,275.3 290.8,276 290.7,274.8 289.6,274.3" fill="#c9e7e2"/>
<polygon points="289.6,274.3 290.7,274.8 290.7,273.6 289.6,273.3" fill="#c9e7e2"/>
<polygon points="289.6,273.3 290.7,273.6 290.6,272.4 289.5,272.4" fill="#c9e7e2"/>
<polygon points="289.5,272.4 290.6,272.4 290.6,271.2 289.5,271.4" fill="#c9e7e2"/>
<polygon points="289.5,271.4 290.6,271.2 290.5,270 289.4,270.4" fill="#c9e7e2"/>
<polygon points="289.4,270.4 290.5,270 290.5,268.8 289.4,269.5" fill="#c9e7e2"/>
<polygon points="289.4,269.5 290.5,268.8 290.4,267.6 289.4,268.5" fill="#c8e7e2"/>
<polygon points="289.4,268.5 290.4,267.6 290.4,266.4 289.3,267.5" fill="#bce4de"/>
<polygon points="289.3,267.5 290.4,266.4 290.3,265.2 289.3,266.6" fill="#b0e2da"/>
<polygon points="289.3,266.6 290.3,265.2 290.3,263.9 289.2,265.6" fill="#a2dfd6"/>
<polygon points="289.2,265.6 290.3,263.9 290.2,262.7 289.2,264.6" fill="#93dcd1"/>
<polygon points="289.2,264.6 290.2,262.7 290.2,261.5 289.2,263.7" fill="#84d9cd"/>
<polygon points="291.2,288.2 292.6,291.3 292.6,289.8 291.2,286.9" fill="#76d7c9"/>
<polygon points="291.2,286.9 292.6,289.8 292.5,288.4 291.1,285.7" fill="#84d9cd"/>
<polygon points="291.1,285.7 292.5,288.4 292.5,287 291.1,284.5" fill="#91dcd1"/>
<polygon points="291.1,284.5 292.5,287 292.4,285.5 291,283.3" fill="#9eded5"/>
<polygon points="291,283.3 292.4,285.5 292.3,284.1 291,282.1" fill="#abe1d9"/>
<polygon points="291,282.1 292.3,284.1 292.3,282.6 291,280.9" fill="#b7e3dd"/>
<polygon points="291,280.9 292.3,282.6 292.2,281.2 290.9,279.7" fill="#c4e6e0"/>
<polygon points="290.9,279.7 292.2,281.2 292.2,279.7 290.9,278.5" fill="#cfe8e4"/>
<polygon points="290.9,278.5 292.2,279.7 292.1,278.3 290.8,277.2" fill="#d1e8e4"/>
<polygon points="290.8,277.2 292.1,278.3 292,276.8 290.8,276" fill="#d1e8e4"/>
<polygon points="290.8,276 292,276.8 292,275.4 290.7,274.8" fill="#d1e8e4"/>
<polygon points="290.7,274.8 292,275.4 291.9,274 290.7,273.6" fill="#d1e8e4"/>
<polygon points="290.7,273.6 291.9,274 291.8,272.5 290.6,272.4" fill="#d1e8e4"/>
<polygon points="290.6,272.4 291.8,272.5 291.8,271.1 290.6,271.2" fill="#d1e8e4"/>
<polygon points="290.6,271.2 291.8,271.1 291.7,269.6 290.5,270" fill="#d1e8e4"/>
<polygon points="290.5,270 291.7,269.6 291.6,268.2 290.5,268.8" fill="#d1e8e4"/>
<polygon points="290.5,268.8 291.6,268.2 291.6,266.7 290.4,267.6" fill="#c9e7e2"/>
<polygon points="290.4,267.6 291.6,266.7 291.5,265.3 290.4,266.4" fill="#bde5de"/>
<polygon points="290.4,266.4 291.5,265.3 291.4,263.9 290.3,265.2" fill="#b1e2db"/>
<polygon points="290.3,265.2 291.4,263.9 291.3,262.4 290.3,263.9" fill="#a4e0d6"/>
<polygon points="290.3,263.9 291.3,262.4 291.3,261 290.2,262.7" fill="#95ddd2"/>
<polygon points="290.2,262.7 291.3,261 291.2,259.5 290.2,261.5" fill="#87dace"/>
<polygon points="292.6,291.3 294.2,294.4 294.1,292.7 292.6,289.8" fill="#76d7c9"/>
<polygon points="292.6,289.8 294.1,292.7 294.1,291 292.5,288.4" fill="#84d9cd"/>
<polygon points="292.5,288.4 294.1,291 294,289.4 292.5,287" fill="#91dcd1"/>
<polygon points="292.5,287 294,289.4 293.9,287.7 292.4,285.5" fill="#9eded5"/>
<polygon points="292.4,285.5 293.9,287.7 293.8,286 292.3,284.1" fill="#abe1d9"/>
<polygon points="292.3,284.1 293.8,286 293.7,284.4 292.3,282.6" fill="#b7e3dd"/>
<polygon points="292.3,282.6 293.7,284.4 293.7,282.7 292.2,281.2" fill="#c4e6e0"/>
<polygon points="292.2,281.2 293.7,282.7 293.6,281 292.2,279.7" fill="#cfe8e4"/>
<polygon points="292.2,279.7 293.6,281 293.5,279.4 292.1,278.3" fill="#d9eae7"/>
<polygon points="292.1,278.3 293.5,279.4 293.4,277.7 292,276.8" fill="#d9eae7"/>
<polygon points="292,276.8 293.4,277.7 293.3,276 292,275.4" fill="#d9eae7"/>
<polygon points="292,275.4 293.3,276 293.2,274.4 291.9,274" fill="#d9eae7"/>
<polygon points="291.9,274 293.2,274.4 293.2,272.7 291.8,272.5" fill="#d9eae7"/>
<polygon points="291.8,272.5 293.2,272.7 293.1,271 291.8,271.1" fill="#d9eae7"/>
<polygon points="291.8,271.1 293.1,271 293,269.4 291.7,269.6" fill="#d9eae7"/>
<polygon points="291.7,269.6 293,269.4 292.9,267.7 291.6,268.2" fill="#d4e9e5"/>
<polygon points="291.6,268.2 292.9,267.7 292.8,266 291.6,266.7" fill="#cae7e2"/>
<polygon points="291.6,266.7 292.8,266 292.7,264.4 291.5,265.3" fill="#bfe5df"/>
<polygon points="291.5,265.3 292.7,264.4 292.6,262.7 291.4,263.9" fill="#b2e2db"/>
<polygon points="291.4,263.9 292.6,262.7 292.5,261.1 291.3,262.4" fill="#a5e0d7"/>
<polygon points="291.3,262.4 292.5,261.1 292.4,259.4 291.3,261" fill="#98ddd3"/>
<polygon points="291.3,261 292.4,259.4 292.3,257.7 291.2,259.5" fill="#89dace"/>
<polygon points="294.2,294.4 296,297.6 295.9,295.7 294.1,292.7" fill="#76d7c9"/>
<polygon points="294.1,292.7 295.9,295.7 295.8,293.8 294.1,291" fill="#84d9cd"/>
<polygon points="294.1,291 295.8,293.8 295.7,291.9 294,289.4" fill="#91dcd1"/>
<polygon points="294,289.4 295.7,291.9 295.6,290 293.9,287.7" fill="#9eded5"/>
<polygon points="293.9,287.7 295.6,290 295.5,288.1 293.8,286" fill="#abe1d9"/>
<polygon points="293.8,286 295.5,288.1 295.4,286.2 293.7,284.4" fill="#b7e3dd"/>
<polygon points="293.7,284.4 295.4,286.2 295.3,284.3 293.7,282.7" fill="#c4e6e0"/>
<polygon points="293.7,282.7 295.3,284.3 295.2,282.4 293.6,281" fill="#cfe8e4"/>
<polygon points="293.6,281 295.2,282.4 295.1,280.5 293.5,279.4" fill="#daeae7"/>
<polygon points="293.5,279.4 295.1,280.5 295,278.6 293.4,277.7" fill="#e2ecea"/>
<polygon points="293.4,277.7 295,278.6 294.9,276.7 293.3,276" fill="#e2ecea"/>
<polygon points="293.3,276 294.9,276.7 294.8,274.8 293.2,274.4" fill="#e2ecea"/>
<polygon points="293.2,274.4 294.8,274.8 294.7,272.9 293.2,272.7" fill="#e2ecea"/>
<polygon points="293.2,272.7 294.7,272.9 294.5,271 293.1,271" fill="#e2ecea"/>
<polygon points="293.1,271 294.5,271 294.4,269.1 293,269.4" fill="#ddebe8"/>
<polygon points="293,269.4 294.4,269.1 294.3,267.2 292.9,267.7" fill="#d4e9e5"/>
<polygon points="292.9,267.7 294.3,267.2 294.2,265.4 292.8,266" fill="#cbe7e2"/>
<polygon points="292.8,266 294.2,265.4 294.1,263.5 292.7,264.4" fill="#c0e5df"/>
<polygon points="292.7,264.4 294.1,263.5 294,261.6 292.6,262.7" fill="#b4e3db"/>
<polygon points="292.6,262.7 294,261.6 293.9,259.7 292.5,261.1" fill="#a7e0d8"/>
<polygon points="292.5,261.1 293.9,259.7 293.8,257.8 292.4,259.4" fill="#9aded4"/>
<polygon points="292.4,259.4 293.8,257.8 293.7,255.9 292.3,257.7" fill="#8cdbcf"/>
<polygon points="296,297.6 297.8,300.7 297.7,298.6 295.9,295.7" fill="#76d7c9"/>
<polygon points="295.9,295.7 297.7,298.6 297.6,296.5 295.8,293.8" fill="#84d9cd"/>
<polygon points="295.8,293.8 297.6,296.5 297.5,294.4 295.7,291.9" fill="#91dcd1"/>
<polygon points="295.7,291.9 297.5,294.4 297.3,292.3 295.6,290" fill="#9eded5"/>
<polygon points="295.6,290 297.3,292.3 297.2,290.2 295.5,288.1" fill="#abe1d9"/>
<polygon points="295.5,288.1 297.2,290.2 297.1,288 295.4,286.2" fill="#b7e3dd"/>
<polygon points="295.4,286.2 297.1,288 297,285.9 295.3,284.3" fill="#c4e6e0"/>
<polygon points="295.3,284.3 297,285.9 296.9,283.8 295.2,282.4" fill="#cfe8e4"/>
<polygon points="295.2,282.4 296.9,283.8 296.8,281.7 295.1,280.5" fill="#daeae7"/>
<polygon points="295.1,280.5 296.8,281.7 296.6,279.6 295,278.6" fill="#e2ecea"/>
<polygon points="295,278.6 296.6,279.6 296.5,277.5 294.9,276.7" fill="#e2ecea"/>
<polygon points="294.9,276.7 296.5,277.5 296.4,275.4 294.8,274.8" fill="#e2ecea"/>
<polygon points="294.8,274.8 296.4,275.4 296.3,273.3 294.7,272.9" fill="#e2ecea"/>
<polygon points="294.7,272.9 296.3,273.3 296.1,271.2 294.5,271" fill="#e2ecea"/>
<polygon points="294.5,271 296.1,271.2 296,269 294.4,269.1" fill="#ddebe8"/>
<polygon points="294.4,269.1 296,269 295.9,266.9 294.3,267.2" fill="#d5e9e6"/>
<polygon points="294.3,267.2 295.9,266.9 295.7,264.8 294.2,265.4" fill="#cbe7e3"/>
<polygon points="294.2,265.4 295.7,264.8 295.6,262.7 294.1,263.5" fill="#c1e5df"/>
<polygon points="294.1,263.5 295.6,262.7 295.5,260.6 294,261.6" fill="#b5e3dc"/>
<polygon points="294,261.6 295.5,260.6 295.4,258.5 293.9,259.7" fill="#a9e1d8"/>
<polygon points="293.9,259.7 295.4,258.5 295.2,256.4 293.8,257.8" fill="#9cded4"/>
<polygon points="293.8,257.8 295.2,256.4 295.1,254.3 293.7,255.9" fill="#8fdcd0"/>
<polygon points="297.8,300.7 299.7,303.7 299.6,301.4 297.7,298.6" fill="#76d7c9"/>
<polygon points="297.7,298.6 299.6,301.4 299.5,299.1 297.6,296.5" fill="#84d9cd"/>
<polygon points="297.6,296.5 299.5,299.1 299.4,296.8 297.5,294.4" fill="#91dcd1"/>
<polygon points="297.5,294.4 299.4,296.8 299.3,294.5 297.3,292.3" fill="#9eded5"/>
<polygon points="297.3,292.3 299.3,294.5 299.2,292.2 297.2,290.2" fill="#abe1d9"/>
<polygon points="297.2,290.2 299.2,292.2 299,289.9 297.1,288" fill="#b7e3dd"/>
<polygon points="297.1,288 299,289.9 298.9,287.6 297,285.9" fill="#c4e6e0"/>
<polygon points="297,285.9 298.9,287.6 298.8,285.2 296.9,283.8" fill="#cfe8e4"/>
<polygon points="296.9,283.8 298.8,285.2 298.7,282.9 296.8,281.7" fill="#daeae7"/>
<polygon points="296.8,281.7 298.7,282.9 298.6,280.6 296.6,279.6" fill="#e2ecea"/>
<polygon points="296.6,279.6 298.6,280.6 298.5,278.3 296.5,277.5" fill="#e2ecea"/>
<polygon points="296.5,277.5 298.5,278.3 298.3,276 296.4,275.4" fill="#e2ecea"/>
<polygon points="296.4,275.4 298.3,276 298.2,273.7 296.3,273.3" fill="#e2ecea"/>
<polygon points="296.3,273.3 298.2,273.7 298.1,271.4 296.1,271.2" fill="#e2ecea"/>
<polygon points="296.1,271.2 298.1,271.4 298,269.1 296,269" fill="#ddebe8"/>
<polygon points="296,269 298,269.1 297.8,266.8 295.9,266.9" fill="#d5e9e6"/>
<polygon points="295.9,266.9 297.8,266.8 297.7,264.5 295.7,264.8" fill="#cce7e3"/>
<polygon points="295.7,264.8 297.7,264.5 297.6,262.2 295.6,262.7" fill="#c2e5e0"/>
<polygon points="295.6,262.7 297.6,262.2 297.4,259.9 295.5,260.6" fill="#b7e3dc"/>
<polygon points="295.5,260.6 297.4,259.9 297.3,257.6 295.4,258.5" fill="#abe1d9"/>
<polygon points="295.4,258.5 297.3,257.6 297.2,255.3 295.2,256.4" fill="#9edfd5"/>
<polygon points="295.2,256.4 297.2,255.3 297.1,253 295.1,254.3" fill="#91dcd1"/>
<polygon points="299.7,303.7 301.6,306.5 301.5,304 299.6,301.4" fill="#76d7c9"/>
<polygon points="299.6,301.4 301.5,304 301.4,301.5 299.5,299.1" fill="#84d9cd"/>
<polygon points="299.5,299.1 301.4,301.5 301.3,299.1 299.4,296.8" fill="#91dcd1"/>
<polygon points="299.4,296.8 301.3,299.1 301.2,296.6 299.3,294.5" fill="#9eded5"/>
<polygon points="299.3,294.5 301.2,296.6 301,294.1 299.2,292.2" fill="#abe1d9"/>
<polygon points="299.2,292.2 301,294.1 300.9,291.6 299,289.9" fill="#b7e3dd"/>
<polygon points="299,289.9 300.9,291.6 300.8,289.2 298.9,287.6" fill="#c4e6e0"/>
<polygon points="298.9,287.6 300.8,289.2 300.7,286.7 298.8,285.2" fill="#cfe8e4"/>
<polygon points="298.8,285.2 300.7,286.7 300.6,284.2 298.7,282.9" fill="#daeae7"/>
<polygon points="298.7,282.9 300.6,284.2 300.4,281.8 298.6,280.6" fill="#e2ecea"/>
<polygon points="298.6,280.6 300.4,281.8 300.3,279.3 298.5,278.3" fill="#e2ecea"/>
<polygon points="298.5,278.3 300.3,279.3 300.2,276.8 298.3,276" fill="#e2ecea"/>
<polygon points="298.3,276 300.2,276.8 300.1,274.4 298.2,273.7" fill="#e2ecea"/>
<polygon points="298.2,273.7 300.1,274.4 299.9,271.9 298.1,271.4" fill="#e2ecea"/>
<polygon points="298.1,271.4 299.9,271.9 299.8,269.4 298,269.1" fill="#ddebe8"/>
<polygon points="298,269.1 299.8,269.4 299.6,267 297.8,266.8" fill="#d6e9e6"/>
<polygon points="297.8,266.8 299.6,267 299.5,264.5 297.7,264.5" fill="#cde7e3"/>
<polygon points="297.7,264.5 299.5,264.5 299.4,262.1 297.6,262.2" fill="#c3e6e0"/>
<polygon points="297.6,262.2 299.4,262.1 299.2,259.6 297.4,259.9" fill="#b8e3dd"/>
<polygon points="297.4,259.9 299.2,259.6 299.1,257.1 297.3,257.6" fill="#ade1d9"/>
<polygon points="297.3,257.6 299.1,257.1 299,254.7 297.2,255.3" fill="#a0dfd6"/>
<polygon points="297.2,255.3 299,254.7 298.8,252.2 297.1,253" fill="#94ddd2"/>
<polygon points="301.6,306.5 303.5,308.8 303.4,306.2 301.5,304" fill="#76d7c9"/>
<polygon points="301.5,304 303.4,306.2 303.3,303.6 301.4,301.5" fill="#84d9cd"/>
<polygon points="301.4,301.5 303.3,303.6 303.2,301 301.3,299.1" fill="#91dcd1"/>
<polygon points="301.3,299.1 303.2,301 303.1,298.4 301.2,296.6" fill="#9eded5"/>
<polygon points="301.2,296.6 303.1,298.4 303,295.8 301,294.1" fill="#abe1d9"/>
<polygon points="301,294.1 303,295.8 302.8,293.2 300.9,291.6" fill="#b7e3dd"/>
<polygon points="300.9,291.6 302.8,293.2 302.7,290.5 300.8,289.2" fill="#c4e6e0"/>
<polygon points="300.8,289.2 302.7,290.5 302.6,287.9 300.7,286.7" fill="#cfe8e4"/>
<polygon points="300.7,286.7 302.6,287.9 302.5,285.3 300.6,284.2" fill="#daeae7"/>
<polygon points="300.6,284.2 302.5,285.3 302.4,282.7 300.4,281.8" fill="#e2ecea"/>
<polygon points="300.4,281.8 302.4,282.7 302.3,280.2 300.3,279.3" fill="#e2ecea"/>
<polygon points="300.3,279.3 302.3,280.2 302.2,277.6 300.2,276.8" fill="#e2ecea"/>
<polygon points="300.2,276.8 302.2,277.6 302,274.9 300.1,274.4" fill="#e2ecea"/>
<polygon points="300.1,274.4 302,274.9 301.9,272.3 299.9,271.9" fill="#e2ecea"/>
<polygon points="299.9,271.9 301.9,272.3 301.8,269.7 299.8,269.4" fill="#ddebe8"/>
<polygon points="299.8,269.4 301.8,269.7 301.6,267.2 299.6,267" fill="#d6e9e6"/>
<polygon points="299.6,267 301.6,267.2 301.5,264.6 299.5,264.5" fill="#cde8e3"/>
<polygon points="299.5,264.5 301.5,264.6 301.4,262 299.4,262.1" fill="#c4e6e0"/>
<polygon points="299.4,262.1 301.4,262 301.2,259.4 299.2,259.6" fill="#b9e4dd"/>
<polygon points="299.2,259.6 301.2,259.4 301.1,256.8 299.1,257.1" fill="#aee2da"/>
<polygon points="299.1,257.1 301.1,256.8 301,254.2 299,254.7" fill="#a3dfd6"/>
<polygon points="299,254.7 301,254.2 300.9,251.6 298.8,252.2" fill="#97ddd2"/>
<polygon points="303.5,308.8 306.3,311.5 306.1,308.7 303.4,306.2" fill="#76d7c9"/>
<polygon points="303.4,306.2 306.1,308.7 306,306 303.3,303.6" fill="#84d9cd"/>
<polygon points="303.3,303.6 306,306 305.9,303.2 303.2,301" fill="#91dcd1"/>
<polygon points="303.2,301 305.9,303.2 305.7,300.5 303.1,298.4" fill="#9eded5"/>
<polygon points="303.1,298.4 305.7,300.5 305.6,297.7 303,295.8" fill="#abe1d9"/>
<polygon points="303,295.8 305.6,297.7 305.5,295 302.8,293.2" fill="#b7e3dd"/>
<polygon points="302.8,293.2 305.5,295 305.3,292.2 302.7,290.5" fill="#c4e6e0"/>
<polygon points="302.7,290.5 305.3,292.2 305.2,289.5 302.6,287.9" fill="#cfe8e4"/>
<polygon points="302.6,287.9 305.2,289.5 305.1,286.7 302.5,285.3" fill="#daeae7"/>
<polygon points="302.5,285.3 305.1,286.7 304.9,284 302.4,282.7" fill="#e2ecea"/>
<polygon points="302.4,282.7 304.9,284 304.8,281.2 302.3,280.2" fill="#e2ecea"/>
<polygon points="302.3,280.2 304.8,281.2 304.7,278.5 302.2,277.6" fill="#e2ecea"/>
<polygon points="302.2,277.6 304.7,278.5 304.5,275.7 302,274.9" fill="#e2ecea"/>
<polygon points="302,274.9 304.5,275.7 304.4,273 301.9,272.3" fill="#e2ecea"/>
<polygon points="301.9,272.3 304.4,273 304.2,270.2 301.8,269.7" fill="#ddebe8"/>
<polygon points="301.8,269.7 304.2,270.2 304.1,267.5 301.6,267.2" fill="#d6e9e6"/>
<polygon points="301.6,267.2 304.1,267.5 303.9,264.8 301.5,264.6" fill="#cee8e4"/>
<polygon points="301.5,264.6 303.9,264.8 303.8,262 301.4,262" fill="#c5e6e1"/>
<polygon points="301.4,262 303.8,262 303.6,259.3 301.2,259.4" fill="#bbe4de"/>
<polygon points="301.2,259.4 303.6,259.3 303.5,256.6 301.1,256.8" fill="#b0e2da"/>
<polygon points="301.1,256.8 303.5,256.6 303.3,253.8 301,254.2" fill="#a5e0d7"/>
<polygon points="301,254.2 303.3,253.8 303.2,251.1 300.9,251.6" fill="#99ded3"/>
<polygon points="306.3,311.5 309.1,313.4 308.9,310.6 306.1,308.7" fill="#76d7c9"/>
<polygon points="306.1,308.7 308.9,310.6 308.8,307.7 306,306" fill="#84d9cd"/>
<polygon points="306,306 308.8,307.7 308.7,304.8 305.9,303.2" fill="#91dcd1"/>
<polygon points="305.9,303.2 308.7,304.8 308.5,302 305.7,300.5" fill="#9eded5"/>
<polygon points="305.7,300.5 308.5,302 308.4,299.1 305.6,297.7" fill="#abe1d9"/>
<polygon points="305.6,297.7 308.4,299.1 308.2,296.3 305.5,295" fill="#b7e3dd"/>
<polygon points="305.5,295 308.2,296.3 308.1,293.4 305.3,292.2" fill="#c4e6e0"/>
<polygon points="305.3,292.2 308.1,293.4 307.9,290.5 305.2,289.5" fill="#cfe8e4"/>
<polygon points="305.2,289.5 307.9,290.5 307.8,287.7 305.1,286.7" fill="#daeae7"/>
<polygon points="305.1,286.7 307.8,287.7 307.6,284.8 304.9,284" fill="#e2ecea"/>
<polygon points="304.9,284 307.6,284.8 307.5,282 304.8,281.2" fill="#e2ecea"/>
<polygon points="304.8,281.2 307.5,282 307.3,279.1 304.7,278.5" fill="#e2ecea"/>
<polygon points="304.7,278.5 307.3,279.1 307.2,276.3 304.5,275.7" fill="#e2ecea"/>
<polygon points="304.5,275.7 307.2,276.3 307,273.4 304.4,273" fill="#e2ecea"/>
<polygon points="304.4,273 307,273.4 306.9,270.6 304.2,270.2" fill="#deebe8"/>
<polygon points="304.2,270.2 306.9,270.6 306.7,267.7 304.1,267.5" fill="#d7e9e6"/>
<polygon points="304.1,267.5 306.7,267.7 306.5,264.9 303.9,264.8" fill="#cfe8e4"/>
<polygon points="303.9,264.8 306.5,264.9 306.4,262 303.8,262" fill="#c6e6e1"/>
<polygon points="303.8,262 306.4,262 306.2,259.2 303.6,259.3" fill="#bce4de"/>
<polygon points="303.6,259.3 306.2,259.2 306,256.3 303.5,256.6" fill="#b2e2db"/>
<polygon points="303.5,256.6 306,256.3 305.9,253.5 303.3,253.8" fill="#a7e0d8"/>
<polygon points="303.3,253.8 305.9,253.5 305.7,250.6 303.2,251.1" fill="#9cded4"/>
<polygon points="309.1,313.4 312,314.8 311.8,311.9 308.9,310.6" fill="#76d7c9"/>
<polygon points="308.9,310.6 311.8,311.9 311.6,309 308.8,307.7" fill="#84d9cd"/>
<polygon points="308.8,307.7 311.6,309 311.4,306 308.7,304.8" fill="#91dcd1"/>
<polygon points="308.7,304.8 311.4,306 311.3,303.1 308.5,302" fill="#9eded5"/>
<polygon points="308.5,302 311.3,303.1 311.1,300.1 308.4,299.1" fill="#abe1d9"/>
<polygon points="308.4,299.1 311.1,300.1 310.9,297.2 308.2,296.3" fill="#b7e3dd"/>
<polygon points="308.2,296.3 310.9,297.2 310.7,294.3 308.1,293.4" fill="#c4e6e0"/>
<polygon points="308.1,293.4 310.7,294.3 310.5,291.3 307.9,290.5" fill="#cfe8e4"/>
<polygon points="307.9,290.5 310.5,291.3 310.4,288.4 307.8,287.7" fill="#daeae7"/>
<polygon points="307.8,287.7 310.4,288.4 310.2,285.5 307.6,284.8" fill="#e2ecea"/>
<polygon points="307.6,284.8 310.2,285.5 310,282.5 307.5,282" fill="#e2ecea"/>
<polygon points="307.5,282 310,282.5 309.8,279.6 307.3,279.1" fill="#e2ecea"/>
<polygon points="307.3,279.1 309.8,279.6 309.6,276.7 307.2,276.3" fill="#e2ecea"/>
<polygon points="307.2,276.3 309.6,276.7 309.4,273.7 307,273.4" fill="#e2ecea"/>
<polygon points="307,273.4 309.4,273.7 309.2,270.8 306.9,270.6" fill="#deebe8"/>
<polygon points="306.9,270.6 309.2,270.8 309,267.9 306.7,267.7" fill="#d7eae6"/>
<polygon points="306.7,267.7 309,267.9 308.8,265 306.5,264.9" fill="#cfe8e4"/>
<polygon points="306.5,264.9 308.8,265 308.6,262 306.4,262" fill="#c7e6e1"/>
<polygon points="306.4,262 308.6,262 308.4,259.1 306.2,259.2" fill="#bee5de"/>
<polygon points="306.2,259.2 308.4,259.1 308.2,256.2 306,256.3" fill="#b4e3db"/>
<polygon points="306,256.3 308.2,256.2 308,253.3 305.9,253.5" fill="#a9e1d8"/>
<polygon points="305.9,253.5 308,253.3 307.8,250.4 305.7,250.6" fill="#9edfd5"/>
<polygon points="312,314.8 315,316 314.8,313 311.8,311.9" fill="#76d7c9"/>
<polygon points="311.8,311.9 314.8,313 314.6,310 311.6,309" fill="#84d9cd"/>
<polygon points="311.6,309 314.6,310 314.4,307 311.4,306" fill="#91dcd1"/>
<polygon points="311.4,306 314.4,307 314.2,304 311.3,303.1" fill="#9eded5"/>
<polygon points="311.3,303.1 314.2,304 314,301 311.1,300.1" fill="#abe1d9"/>
<polygon points="311.1,300.1 314,301 313.7,298 310.9,297.2" fill="#b7e3dd"/>
<polygon points="310.9,297.2 313.7,298 313.5,295 310.7,294.3" fill="#c4e6e0"/>
<polygon points="310.7,294.3 313.5,295 313.3,292 310.5,291.3" fill="#cfe8e4"/>
<polygon points="310.5,291.3 313.3,292 313.1,289 310.4,288.4" fill="#daeae7"/>
<polygon points="310.4,288.4 313.1,289 312.9,286 310.2,285.5" fill="#e2ecea"/>
<polygon points="310.2,285.5 312.9,286 312.6,283 310,282.5" fill="#e2ecea"/>
<polygon points="310,282.5 312.6,283 312.4,280 309.8,279.6" fill="#e2ecea"/>
<polygon points="309.8,279.6 312.4,280 312.2,277 309.6,276.7" fill="#e2ecea"/>
<polygon points="309.6,276.7 312.2,277 311.9,274 309.4,273.7" fill="#e2ecea"/>
<polygon points="309.4,273.7 311.9,274 311.7,271 309.2,270.8" fill="#deebe8"/>
<polygon points="309.2,270.8 311.7,271 311.5,268 309,267.9" fill="#d8eae6"/>
<polygon points="309,267.9 311.5,268 311.2,265 308.8,265" fill="#d0e8e4"/>
<polygon points="308.8,265 311.2,265 311,262.1 308.6,262" fill="#c8e7e2"/>
<polygon points="308.6,262 311,262.1 310.7,259.1 308.4,259.1" fill="#bfe5df"/>
<polygon points="308.4,259.1 310.7,259.1 310.5,256.1 308.2,256.2" fill="#b6e3dc"/>
<polygon points="308.2,256.2 310.5,256.1 310.3,253.1 308,253.3" fill="#ace1d9"/>
<polygon points="308,253.3 310.3,253.1 310,250.1 307.8,250.4" fill="#a1dfd6"/>
<polygon points="315,316 318.4,317 318.1,314 314.8,313" fill="#76d7c9"/>
<polygon points="314.8,313 318.1,314 317.8,310.9 314.6,310" fill="#84d9cd"/>
<polygon points="314.6,310 317.8,310.9 317.6,307.9 314.4,307" fill="#91dcd1"/>
<polygon points="314.4,307 317.6,307.9 317.3,304.8 314.2,304" fill="#9eded5"/>
<polygon points="314.2,304 317.3,304.8 317.1,301.7 314,301" fill="#abe1d9"/>
<polygon points="314,301 317.1,301.7 316.8,298.7 313.7,298" fill="#b7e3dd"/>
<polygon points="313.7,298 316.8,298.7 316.5,295.6 313.5,295" fill="#c4e6e0"/>
<polygon points="313.5,295 316.5,295.6 316.3,292.6 313.3,292" fill="#cfe8e4"/>
<polygon points="313.3,292 316.3,292.6 316,289.5 313.1,289" fill="#daeae7"/>
<polygon points="313.1,289 316,289.5 315.8,286.5 312.9,286" fill="#e2ecea"/>
<polygon points="312.9,286 315.8,286.5 315.5,283.4 312.6,283" fill="#e2ecea"/>
<polygon points="312.6,283 315.5,283.4 315.2,280.4 312.4,280" fill="#e2ecea"/>
<polygon points="312.4,280 315.2,280.4 314.9,277.3 312.2,277" fill="#e2ecea"/>
<polygon points="312.2,277 314.9,277.3 314.7,274.3 311.9,274" fill="#e2ecea"/>
<polygon points="311.9,274 314.7,274.3 314.4,271.2 311.7,271" fill="#deebe8"/>
<polygon points="311.7,271 314.4,271.2 314.1,268.2 311.5,268" fill="#d8eae7"/>
<polygon points="311.5,268 314.1,268.2 313.8,265.1 311.2,265" fill="#d1e8e4"/>
<polygon points="311.2,265 313.8,265.1 313.5,262.1 311,262.1" fill="#c9e7e2"/>
<polygon points="311,262.1 313.5,262.1 313.2,259 310.7,259.1" fill="#c0e5df"/>
<polygon points="310.7,259.1 313.2,259 313,256 310.5,256.1" fill="#b7e3dd"/>
<polygon points="310.5,256.1 313,256 312.7,253 310.3,253.1" fill="#aee2da"/>
<polygon points="310.3,253.1 312.7,253 312.4,249.9 310,250.1" fill="#a4e0d7"/>
<polygon points="318.4,317 321.9,317.8 321.6,314.7 318.1,314" fill="#76d7c9"/>
<polygon points="318.1,314 321.6,314.7 321.3,311.6 317.8,310.9" fill="#84d9cd"/>
<polygon points="317.8,310.9 321.3,311.6 321,308.5 317.6,307.9" fill="#91dcd1"/>
<polygon points="317.6,307.9 321,308.5 320.7,305.4 317.3,304.8" fill="#9eded5"/>
<polygon points="317.3,304.8 320.7,305.4 320.4,302.3 317.1,301.7" fill="#abe1d9"/>
<polygon points="317.1,301.7 320.4,302.3 320,299.2 316.8,298.7" fill="#b7e3dd"/>
<polygon points="316.8,298.7 320,299.2 319.7,296.1 316.5,295.6" fill="#c4e6e0"/>
<polygon points="316.5,295.6 319.7,296.1 319.4,293 316.3,292.6" fill="#cfe8e4"/>
<polygon points="316.3,292.6 319.4,293 319.1,289.9 316,289.5" fill="#daeae7"/>
<polygon points="316,289.5 319.1,289.9 318.8,286.8 315.8,286.5" fill="#e2ecea"/>
<polygon points="315.8,286.5 318.8,286.8 318.5,283.7 315.5,283.4" fill="#e2ecea"/>
<polygon points="315.5,283.4 318.5,283.7 318.2,280.6 315.2,280.4" fill="#e2ecea"/>
<polygon points="315.2,280.4 318.2,280.6 317.8,277.5 314.9,277.3" fill="#e2ecea"/>
<polygon points="314.9,277.3 317.8,277.5 317.5,274.4 314.7,274.3" fill="#e2ecea"/>
<polygon points="314.7,274.3 317.5,274.4 317.1,271.3 314.4,271.2" fill="#deebe8"/>
<polygon points="314.4,271.2 317.1,271.3 316.8,268.2 314.1,268.2" fill="#d8eae7"/>
<polygon points="314.1,268.2 316.8,268.2 316.5,265.2 313.8,265.1" fill="#d2e8e5"/>
<polygon points="313.8,265.1 316.5,265.2 316.1,262.1 313.5,262.1" fill="#cae7e2"/>
<polygon points="313.5,262.1 316.1,262.1 315.8,259 313.2,259" fill="#c2e5e0"/>
<polygon points="313.2,259 315.8,259 315.5,255.9 313,256" fill="#b9e4dd"/>
<polygon points="313,256 315.5,255.9 315.1,252.9 312.7,253" fill="#b0e2da"/>
<polygon points="312.7,253 315.1,252.9 314.8,249.8 312.4,249.9" fill="#a6e0d7"/>
<polygon points="321.9,317.8 325.4,318.1 325,315 321.6,314.7" fill="#76d7c9"/>
<polygon points="321.6,314.7 325,315 324.7,311.9 321.3,311.6" fill="#84d9cd"/>
<polygon points="321.3,311.6 324.7,311.9 324.3,308.7 321,308.5" fill="#91dcd1"/>
<polygon points="321,308.5 324.3,308.7 323.9,305.6 320.7,305.4" fill="#9eded5"/>
<polygon points="320.7,305.4 323.9,305.6 323.6,302.5 320.4,302.3" fill="#abe1d9"/>
<polygon points="320.4,302.3 323.6,302.5 323.2,299.4 320,299.2" fill="#b7e3dd"/>
<polygon points="320,299.2 323.2,299.4 322.9,296.3 319.7,296.1" fill="#c4e6e0"/>
<polygon points="319.7,296.1 322.9,296.3 322.5,293.1 319.4,293" fill="#cfe8e4"/>
<polygon points="319.4,293 322.5,293.1 322.1,290 319.1,289.9" fill="#daeae7"/>
<polygon points="319.1,289.9 322.1,290 321.8,286.9 318.8,286.8" fill="#e2ecea"/>
<polygon points="318.8,286.8 321.8,286.9 321.4,283.8 318.5,283.7" fill="#e2ecea"/>
<polygon points="318.5,283.7 321.4,283.8 321,280.7 318.2,280.6" fill="#e2ecea"/>
<polygon points="318.2,280.6 321,280.7 320.6,277.6 317.8,277.5" fill="#e2ecea"/>
<polygon points="317.8,277.5 320.6,277.6 320.2,274.5 317.5,274.4" fill="#e2ecea"/>
<polygon points="317.5,274.4 320.2,274.5 319.8,271.4 317.1,271.3" fill="#deebe9"/>
<polygon points="317.1,271.3 319.8,271.4 319.4,268.3 316.8,268.2" fill="#d9eae7"/>
<polygon points="316.8,268.2 319.4,268.3 319.1,265.2 316.5,265.2" fill="#d2e9e5"/>
<polygon points="316.5,265.2 319.1,265.2 318.7,262.1 316.1,262.1" fill="#cbe7e3"/>
<polygon points="316.1,262.1 318.7,262.1 318.3,259 315.8,259" fill="#c3e6e0"/>
<polygon points="315.8,259 318.3,259 317.9,255.9 315.5,255.9" fill="#bbe4de"/>
<polygon points="315.5,255.9 317.9,255.9 317.5,252.8 315.1,252.9" fill="#b2e2db"/>
<polygon points="315.1,252.9 317.5,252.8 317.1,249.7 314.8,249.8" fill="#a9e1d8"/>
<polygon points="325.4,318.1 328.6,318 328.2,314.9 325,315" fill="#76d7c9"/>
<polygon points="325,315 328.2,314.9 327.8,311.7 324.7,311.9" fill="#84d9cd"/>
<polygon points="324.7,311.9 327.8,311.7 327.3,308.6 324.3,308.7" fill="#91dcd1"/>
<polygon points="324.3,308.7 327.3,308.6 326.9,305.5 323.9,305.6" fill="#9eded5"/>
<polygon points="323.9,305.6 326.9,305.5 326.5,302.4 323.6,302.5" fill="#abe1d9"/>
<polygon points="323.6,302.5 326.5,302.4 326.1,299.3 323.2,299.4" fill="#b7e3dd"/>
<polygon points="323.2,299.4 326.1,299.3 325.7,296.1 322.9,296.3" fill="#c4e6e0"/>
<polygon points="322.9,296.3 325.7,296.1 325.3,293 322.5,293.1" fill="#cfe8e4"/>
<polygon points="322.5,293.1 325.3,293 324.9,289.9 322.1,290" fill="#daeae7"/>
<polygon points="322.1,290 324.9,289.9 324.5,286.8 321.8,286.9" fill="#e2ecea"/>
<polygon points="321.8,286.9 324.5,286.8 324,283.7 321.4,283.8" fill="#e2ecea"/>
<polygon points="321.4,283.8 324,283.7 323.6,280.6 321,280.7" fill="#e2ecea"/>
<polygon points="321,280.7 323.6,280.6 323.2,277.5 320.6,277.6" fill="#e2ecea"/>
<polygon points="320.6,277.6 323.2,277.5 322.7,274.4 320.2,274.5" fill="#e2ecea"/>
<polygon points="320.2,274.5 322.7,274.4 322.3,271.3 319.8,271.4" fill="#deebe9"/>
<polygon points="319.8,271.4 322.3,271.3 321.9,268.2 319.4,268.3" fill="#d9eae7"/>
<polygon points="319.4,268.3 321.9,268.2 321.4,265.1 319.1,265.2" fill="#d3e9e5"/>
<polygon points="319.1,265.2 321.4,265.1 321,262 318.7,262.1" fill="#cce7e3"/>
<polygon points="318.7,262.1 321,262 320.5,258.9 318.3,259" fill="#c5e6e1"/>
<polygon points="318.3,259 320.5,258.9 320.1,255.8 317.9,255.9" fill="#bde4de"/>
<polygon points="317.9,255.9 320.1,255.8 319.7,252.7 317.5,252.8" fill="#b4e3dc"/>
<polygon points="317.5,252.8 319.7,252.7 319.2,249.6 317.1,249.7" fill="#ace1d9"/>
<polygon points="328.6,318 332,317 331.5,314 328.2,314.9" fill="#76d7c9"/>
<polygon points="328.2,314.9 331.5,314 331,310.9 327.8,311.7" fill="#84d9cd"/>
<polygon points="327.8,311.7 331,310.9 330.6,307.8 327.3,308.6" fill="#91dcd1"/>
<polygon points="327.3,308.6 330.6,307.8 330.1,304.7 326.9,305.5" fill="#9eded5"/>
<polygon points="326.9,305.5 330.1,304.7 329.7,301.6 326.5,302.4" fill="#abe1d9"/>
<polygon points="326.5,302.4 329.7,301.6 329.2,298.6 326.1,299.3" fill="#b7e3dd"/>
<polygon points="326.1,299.3 329.2,298.6 328.8,295.5 325.7,296.1" fill="#c4e6e0"/>
<polygon points="325.7,296.1 328.8,295.5 328.3,292.4 325.3,293" fill="#cfe8e4"/>
<polygon points="325.3,293 328.3,292.4 327.9,289.3 324.9,289.9" fill="#daeae7"/>
<polygon points="324.9,289.9 327.9,289.3 327.4,286.3 324.5,286.8" fill="#e2ecea"/>
<polygon points="324.5,286.8 327.4,286.3 327,283.2 324,283.7" fill="#e2ecea"/>
<polygon points="324,283.7 327,283.2 326.5,280.2 323.6,280.6" fill="#e2ecea"/>
<polygon points="323.6,280.6 326.5,280.2 326,277.1 323.2,277.5" fill="#e2ecea"/>
<polygon points="323.2,277.5 326,277.1 325.5,274 322.7,274.4" fill="#e2ecea"/>
<polygon points="322.7,274.4 325.5,274 325,271 322.3,271.3" fill="#dfebe9"/>
<polygon points="322.3,271.3 325,271 324.6,267.9 321.9,268.2" fill="#daeae7"/>
<polygon points="321.9,268.2 324.6,267.9 324.1,264.8 321.4,265.1" fill="#d4e9e5"/>
<polygon points="321.4,265.1 324.1,264.8 323.6,261.8 321,262" fill="#cde8e3"/>
<polygon points="321,262 323.6,261.8 323.1,258.7 320.5,258.9" fill="#c6e6e1"/>
<polygon points="320.5,258.9 323.1,258.7 322.6,255.7 320.1,255.8" fill="#bee5df"/>
<polygon points="320.1,255.8 322.6,255.7 322.1,252.6 319.7,252.7" fill="#b7e3dc"/>
<polygon points="319.7,252.7 322.1,252.6 321.6,249.6 319.2,249.6" fill="#aee2da"/>
<polygon points="332,317 335,315.4 334.5,312.4 331.5,314" fill="#76d7c9"/>
<polygon points="331.5,314 334.5,312.4 334,309.4 331,310.9" fill="#84d9cd"/>
<polygon points="331,310.9 334,309.4 333.5,306.4 330.6,307.8" fill="#91dcd1"/>
<polygon points="330.6,307.8 333.5,306.4 333,303.4 330.1,304.7" fill="#9eded5"/>
<polygon points="330.1,304.7 333,303.4 332.5,300.4 329.7,301.6" fill="#abe1d9"/>
<polygon points="329.7,301.6 332.5,300.4 332,297.4 329.2,298.6" fill="#b7e3dd"/>
<polygon points="329.2,298.6 332,297.4 331.6,294.4 328.8,295.5" fill="#c4e6e0"/>
<polygon points="328.8,295.5 331.6,294.4 331.1,291.4 328.3,292.4" fill="#cfe8e4"/>
<polygon points="328.3,292.4 331.1,291.4 330.6,288.4 327.9,289.3" fill="#daeae7"/>
<polygon points="327.9,289.3 330.6,288.4 330.1,285.4 327.4,286.3" fill="#e2ecea"/>
<polygon points="327.4,286.3 330.1,285.4 329.6,282.4 327,283.2" fill="#e2ecea"/>
<polygon points="327,283.2 329.6,282.4 329.1,279.4 326.5,280.2" fill="#e2ecea"/>
<polygon points="326.5,280.2 329.1,279.4 328.6,276.4 326,277.1" fill="#e2ecea"/>
<polygon points="326,277.1 328.6,276.4 328.1,273.4 325.5,274" fill="#e2ecea"/>
<polygon points="325.5,274 328.1,273.4 327.5,270.4 325,271" fill="#dfebe9"/>
<polygon points="325,271 327.5,270.4 327,267.5 324.6,267.9" fill="#daeae7"/>
<polygon points="324.6,267.9 327,267.5 326.5,264.5 324.1,264.8" fill="#d4e9e5"/>
<polygon points="324.1,264.8 326.5,264.5 326,261.5 323.6,261.8" fill="#cee8e4"/>
<polygon points="323.6,261.8 326,261.5 325.5,258.5 323.1,258.7" fill="#c7e6e2"/>
<polygon points="323.1,258.7 325.5,258.5 324.9,255.6 322.6,255.7" fill="#c0e5df"/>
<polygon points="322.6,255.7 324.9,255.6 324.4,252.6 322.1,252.6" fill="#b9e4dd"/>
<polygon points="322.1,252.6 324.4,252.6 323.9,249.6 321.6,249.6" fill="#b1e2db"/>
<polygon points="335,315.4 337.7,313.3 337.2,310.4 334.5,312.4" fill="#76d7c9"/>
<polygon points="334.5,312.4 337.2,310.4 336.7,307.5 334,309.4" fill="#84d9cd"/>
<polygon points="334,309.4 336.7,307.5 336.2,304.6 333.5,306.4" fill="#91dcd1"/>
<polygon points="333.5,306.4 336.2,304.6 335.6,301.7 333,303.4" fill="#9eded5"/>
<polygon points="333,303.4 335.6,301.7 335.1,298.8 332.5,300.4" fill="#abe1d9"/>
<polygon points="332.5,300.4 335.1,298.8 334.6,295.9 332,297.4" fill="#b7e3dd"/>
<polygon points="332,297.4 334.6,295.9 334.1,293 331.6,294.4" fill="#c4e6e0"/>
<polygon points="331.6,294.4 334.1,293 333.6,290.1 331.1,291.4" fill="#cfe8e4"/>
<polygon points="331.1,291.4 333.6,290.1 333.1,287.2 330.6,288.4" fill="#daeae7"/>
<polygon points="330.6,288.4 333.1,287.2 332.6,284.3 330.1,285.4" fill="#e2ecea"/>
<polygon points="330.1,285.4 332.6,284.3 332,281.4 329.6,282.4" fill="#e2ecea"/>
<polygon points="329.6,282.4 332,281.4 331.5,278.5 329.1,279.4" fill="#e2ecea"/>
<polygon points="329.1,279.4 331.5,278.5 331,275.6 328.6,276.4" fill="#e2ecea"/>
<polygon points="328.6,276.4 331,275.6 330.4,272.7 328.1,273.4" fill="#e2ecea"/>
<polygon points="328.1,273.4 330.4,272.7 329.9,269.9 327.5,270.4" fill="#dfebe9"/>
<polygon points="327.5,270.4 329.9,269.9 329.3,267 327,267.5" fill="#daeae7"/>
<polygon points="327,267.5 329.3,267 328.8,264.1 326.5,264.5" fill="#d5e9e6"/>
<polygon points="326.5,264.5 328.8,264.1 328.2,261.2 326,261.5" fill="#cfe8e4"/>
<polygon points="326,261.5 328.2,261.2 327.7,258.4 325.5,258.5" fill="#c9e7e2"/>
<polygon points="325.5,258.5 327.7,258.4 327.1,255.5 324.9,255.6" fill="#c2e5e0"/>
<polygon points="324.9,255.6 327.1,255.5 326.6,252.6 324.4,252.6" fill="#bbe4de"/>
<polygon points="324.4,252.6 326.6,252.6 326,249.8 323.9,249.6" fill="#b3e3db"/>
<polygon points="337.7,313.3 340,310.9 339.5,308.1 337.2,310.4" fill="#76d7c9"/>
<polygon points="337.2,310.4 339.5,308.1 339,305.4 336.7,307.5" fill="#84d9cd"/>
<polygon points="336.7,307.5 339,305.4 338.4,302.6 336.2,304.6" fill="#91dcd1"/>
<polygon points="336.2,304.6 338.4,302.6 337.9,299.8 335.6,301.7" fill="#9eded5"/>
<polygon points="335.6,301.7 337.9,299.8 337.4,297 335.1,298.8" fill="#abe1d9"/>
<polygon points="335.1,298.8 337.4,297 336.9,294.2 334.6,295.9" fill="#b7e3dd"/>
<polygon points="334.6,295.9 336.9,294.2 336.4,291.4 334.1,293" fill="#c4e6e0"/>
<polygon points="334.1,293 336.4,291.4 335.8,288.7 333.6,290.1" fill="#cfe8e4"/>
<polygon points="333.6,290.1 335.8,288.7 335.3,285.9 333.1,287.2" fill="#daeae7"/>
<polygon points="333.1,287.2 335.3,285.9 334.8,283.1 332.6,284.3" fill="#e2ecea"/>
<polygon points="332.6,284.3 334.8,283.1 334.3,280.4 332,281.4" fill="#e2ecea"/>
<polygon points="332,281.4 334.3,280.4 333.7,277.6 331.5,278.5" fill="#e2ecea"/>
<polygon points="331.5,278.5 333.7,277.6 333.2,274.8 331,275.6" fill="#e2ecea"/>
<polygon points="331,275.6 333.2,274.8 332.6,272.1 330.4,272.7" fill="#e2ecea"/>
<polygon points="330.4,272.7 332.6,272.1 332.1,269.3 329.9,269.9" fill="#dfebe9"/>
<polygon points="329.9,269.9 332.1,269.3 331.5,266.5 329.3,267" fill="#dbeae7"/>
<polygon points="329.3,267 331.5,266.5 331,263.8 328.8,264.1" fill="#d6e9e6"/>
<polygon points="328.8,264.1 331,263.8 330.4,261 328.2,261.2" fill="#d0e8e4"/>
<polygon points="328.2,261.2 330.4,261 329.9,258.3 327.7,258.4" fill="#cae7e2"/>
<polygon points="327.7,258.4 329.9,258.3 329.3,255.5 327.1,255.5" fill="#c4e6e0"/>
<polygon points="327.1,255.5 329.3,255.5 328.7,252.8 326.6,252.6" fill="#bde4de"/>
<polygon points="326.6,252.6 328.7,252.8 328.2,250 326,249.8" fill="#b6e3dc"/>
<polygon points="340,310.9 342.1,308.1 341.6,305.5 339.5,308.1" fill="#76d7c9"/>
<polygon points="339.5,308.1 341.6,305.5 341,302.9 339,305.4" fill="#84d9cd"/>
<polygon points="339,305.4 341,302.9 340.5,300.2 338.4,302.6" fill="#91dcd1"/>
<polygon points="338.4,302.6 340.5,300.2 340,297.6 337.9,299.8" fill="#9eded5"/>
<polygon points="337.9,299.8 340,297.6 339.5,295 337.4,297" fill="#abe1d9"/>
<polygon points="337.4,297 339.5,295 339,292.3 336.9,294.2" fill="#b7e3dd"/>
<polygon points="336.9,294.2 339,292.3 338.5,289.7 336.4,291.4" fill="#c4e6e0"/>
<polygon points="336.4,291.4 338.5,289.7 338,287.1 335.8,288.7" fill="#cfe8e4"/>
<polygon points="335.8,288.7 338,287.1 337.4,284.4 335.3,285.9" fill="#daeae7"/>
<polygon points="335.3,285.9 337.4,284.4 336.9,281.8 334.8,283.1" fill="#e2ecea"/>
<polygon points="334.8,283.1 336.9,281.8 336.4,279.2 334.3,280.4" fill="#e2ecea"/>
<polygon points="334.3,280.4 336.4,279.2 335.9,276.6 333.7,277.6" fill="#e2ecea"/>
<polygon points="333.7,277.6 335.9,276.6 335.3,274 333.2,274.8" fill="#e2ecea"/>
<polygon points="333.2,274.8 335.3,274 334.8,271.3 332.6,272.1" fill="#e2ecea"/>
<polygon points="332.6,272.1 334.8,271.3 334.2,268.7 332.1,269.3" fill="#dfebe9"/>
<polygon points="332.1,269.3 334.2,268.7 333.7,266.1 331.5,266.5" fill="#dbeae8"/>
<polygon points="331.5,266.5 333.7,266.1 333.1,263.5 331,263.8" fill="#d7e9e6"/>
<polygon points="331,263.8 333.1,263.5 332.6,260.9 330.4,261" fill="#d1e8e5"/>
<polygon points="330.4,261 332.6,260.9 332,258.3 329.9,258.3" fill="#cce7e3"/>
<polygon points="329.9,258.3 332,258.3 331.5,255.7 329.3,255.5" fill="#c6e6e1"/>
<polygon points="329.3,255.5 331.5,255.7 330.9,253.1 328.7,252.8" fill="#bfe5df"/>
<polygon points="328.7,252.8 330.9,253.1 330.4,250.5 328.2,250" fill="#b9e4dd"/>
<polygon points="342.1,308.1 344,305.2 343.5,302.7 341.6,305.5" fill="#76d7c9"/>
<polygon points="341.6,305.5 343.5,302.7 343,300.2 341,302.9" fill="#84d9cd"/>
<polygon points="341,302.9 343,300.2 342.5,297.8 340.5,300.2" fill="#91dcd1"/>
<polygon points="340.5,300.2 342.5,297.8 342,295.3 340,297.6" fill="#9eded5"/>
<polygon points="340,297.6 342,295.3 341.5,292.8 339.5,295" fill="#abe1d9"/>
<polygon points="339.5,295 341.5,292.8 341,290.3 339,292.3" fill="#b7e3dd"/>
<polygon points="339,292.3 341,290.3 340.5,287.8 338.5,289.7" fill="#c4e6e0"/>
<polygon points="338.5,289.7 340.5,287.8 340,285.4 338,287.1" fill="#cfe8e4"/>
<polygon points="338,287.1 340,285.4 339.5,282.9 337.4,284.4" fill="#daeae7"/>
<polygon points="337.4,284.4 339.5,282.9 339,280.5 336.9,281.8" fill="#e2ecea"/>
<polygon points="336.9,281.8 339,280.5 338.4,278 336.4,279.2" fill="#e2ecea"/>
<polygon points="336.4,279.2 338.4,278 337.9,275.6 335.9,276.6" fill="#e2ecea"/>
<polygon points="335.9,276.6 337.9,275.6 337.4,273.1 335.3,274" fill="#e2ecea"/>
<polygon points="335.3,274 337.4,273.1 336.9,270.6 334.8,271.3" fill="#e2ecea"/>
<polygon points="334.8,271.3 336.9,270.6 336.3,268.2 334.2,268.7" fill="#dfebe9"/>
<polygon points="334.2,268.7 336.3,268.2 335.8,265.7 333.7,266.1" fill="#dceae8"/>
<polygon points="333.7,266.1 335.8,265.7 335.2,263.3 333.1,263.5" fill="#d7eae6"/>
<polygon points="333.1,263.5 335.2,263.3 334.7,260.8 332.6,260.9" fill="#d2e9e5"/>
<polygon points="332.6,260.9 334.7,260.8 334.2,258.4 332,258.3" fill="#cde8e3"/>
<polygon points="332,258.3 334.2,258.4 333.6,255.9 331.5,255.7" fill="#c7e6e2"/>
<polygon points="331.5,255.7 333.6,255.9 333.1,253.5 330.9,253.1" fill="#c2e5e0"/>
<polygon points="330.9,253.1 333.1,253.5 332.5,251 330.4,250.5" fill="#bbe4de"/>
<polygon points="344,305.2 345.7,302.3 345.3,299.9 343.5,302.7" fill="#76d7c9"/>
<polygon points="343.5,302.7 345.3,299.9 344.8,297.6 343,300.2" fill="#84d9cd"/>
<polygon points="343,300.2 344.8,297.6 344.3,295.3 342.5,297.8" fill="#91dcd1"/>
<polygon points="342.5,297.8 344.3,295.3 343.8,293 342,295.3" fill="#9eded5"/>
<polygon points="342,295.3 343.8,293 343.3,290.7 341.5,292.8" fill="#abe1d9"/>
<polygon points="341.5,292.8 343.3,290.7 342.9,288.4 341,290.3" fill="#b7e3dd"/>
<polygon points="341,290.3 342.9,288.4 342.4,286.1 340.5,287.8" fill="#c4e6e0"/>
<polygon points="340.5,287.8 342.4,286.1 341.9,283.8 340,285.4" fill="#cfe8e4"/>
<polygon points="340,285.4 341.9,283.8 341.4,281.5 339.5,282.9" fill="#daeae7"/>
<polygon points="339.5,282.9 341.4,281.5 340.9,279.2 339,280.5" fill="#e2ecea"/>
<polygon points="339,280.5 340.9,279.2 340.4,276.9 338.4,278" fill="#e2ecea"/>
<polygon points="338.4,278 340.4,276.9 339.9,274.6 337.9,275.6" fill="#e2ecea"/>
<polygon points="337.9,275.6 339.9,274.6 339.4,272.3 337.4,273.1" fill="#e2ecea"/>
<polygon points="337.4,273.1 339.4,272.3 338.9,270 336.9,270.6" fill="#e2ecea"/>
<polygon points="336.9,270.6 338.9,270 338.4,267.7 336.3,268.2" fill="#dfebe9"/>
<polygon points="336.3,268.2 338.4,267.7 337.9,265.4 335.8,265.7" fill="#dceae8"/>
<polygon points="335.8,265.7 337.9,265.4 337.3,263.1 335.2,263.3" fill="#d8eae7"/>
<polygon points="335.2,263.3 337.3,263.1 336.8,260.9 334.7,260.8" fill="#d3e9e5"/>
<polygon points="334.7,260.8 336.8,260.9 336.3,258.6 334.2,258.4" fill="#cee8e4"/>
<polygon points="334.2,258.4 336.3,258.6 335.8,256.3 333.6,255.9" fill="#c9e7e2"/>
<polygon points="333.6,255.9 335.8,256.3 335.3,254 333.1,253.5" fill="#c4e6e0"/>
<polygon points="333.1,253.5 335.3,254 334.7,251.7 332.5,251" fill="#bee5df"/>
<polygon points="345.7,302.3 347.3,299.3 346.9,297.2 345.3,299.9" fill="#76d7c9"/>
<polygon points="345.3,299.9 346.9,297.2 346.4,295 344.8,297.6" fill="#84d9cd"/>
<polygon points="344.8,297.6 346.4,295 346,292.9 344.3,295.3" fill="#91dcd1"/>
<polygon points="344.3,295.3 346,292.9 345.5,290.7 343.8,293" fill="#9eded5"/>
<polygon points="343.8,293 345.5,290.7 345.1,288.6 343.3,290.7" fill="#abe1d9"/>
<polygon points="343.3,290.7 345.1,288.6 344.6,286.5 342.9,288.4" fill="#b7e3dd"/>
<polygon points="342.9,288.4 344.6,286.5 344.2,284.3 342.4,286.1" fill="#c4e6e0"/>
<polygon points="342.4,286.1 344.2,284.3 343.7,282.2 341.9,283.8" fill="#cfe8e4"/>
<polygon points="341.9,283.8 343.7,282.2 343.2,280.1 341.4,281.5" fill="#daeae7"/>
<polygon points="341.4,281.5 343.2,280.1 342.8,277.9 340.9,279.2" fill="#e2ecea"/>
<polygon points="340.9,279.2 342.8,277.9 342.3,275.8 340.4,276.9" fill="#e2ecea"/>
<polygon points="340.4,276.9 342.3,275.8 341.8,273.7 339.9,274.6" fill="#e2ecea"/>
<polygon points="339.9,274.6 341.8,273.7 341.4,271.6 339.4,272.3" fill="#e2ecea"/>
<polygon points="339.4,272.3 341.4,271.6 340.9,269.4 338.9,270" fill="#e2ecea"/>
<polygon points="338.9,270 340.9,269.4 340.4,267.3 338.4,267.7" fill="#e0ebe9"/>
<polygon points="338.4,267.7 340.4,267.3 339.9,265.2 337.9,265.4" fill="#dcebe8"/>
<polygon points="337.9,265.4 339.9,265.2 339.4,263.1 337.3,263.1" fill="#d9eae7"/>
<polygon points="337.3,263.1 339.4,263.1 338.9,261 336.8,260.9" fill="#d4e9e5"/>
<polygon points="336.8,260.9 338.9,261 338.4,258.9 336.3,258.6" fill="#d0e8e4"/>
<polygon points="336.3,258.6 338.4,258.9 337.9,256.8 335.8,256.3" fill="#cbe7e3"/>
<polygon points="335.8,256.3 337.9,256.8 337.4,254.7 335.3,254" fill="#c6e6e1"/>
<polygon points="335.3,254 337.4,254.7 336.9,252.6 334.7,251.7" fill="#c1e5df"/>
<polygon points="347.3,299.3 348.8,296.3 348.4,294.3 346.9,297.2" fill="#76d7c9"/>
<polygon points="346.9,297.2 348.4,294.3 348,292.4 346.4,295" fill="#84d9cd"/>
<polygon points="346.4,295 348,292.4 347.6,290.4 346,292.9" fill="#91dcd1"/>
<polygon points="346,292.9 347.6,290.4 347.1,288.4 345.5,290.7" fill="#9eded5"/>
<polygon points="345.5,290.7 347.1,288.4 346.7,286.5 345.1,288.6" fill="#abe1d9"/>
<polygon points="345.1,288.6 346.7,286.5 346.3,284.5 344.6,286.5" fill="#b7e3dd"/>
<polygon points="344.6,286.5 346.3,284.5 345.8,282.5 344.2,284.3" fill="#c4e6e0"/>
<polygon points="344.2,284.3 345.8,282.5 345.4,280.6 343.7,282.2" fill="#cfe8e4"/>
<polygon points="343.7,282.2 345.4,280.6 345,278.6 343.2,280.1" fill="#daeae7"/>
<polygon points="343.2,280.1 345,278.6 344.5,276.7 342.8,277.9" fill="#e2ecea"/>
<polygon points="342.8,277.9 344.5,276.7 344.1,274.8 342.3,275.8" fill="#e2ecea"/>
<polygon points="342.3,275.8 344.1,274.8 343.7,272.8 341.8,273.7" fill="#e2ecea"/>
<polygon points="341.8,273.7 343.7,272.8 343.2,270.9 341.4,271.6" fill="#e2ecea"/>
<polygon points="341.4,271.6 343.2,270.9 342.7,268.9 340.9,269.4" fill="#e2ecea"/>
<polygon points="340.9,269.4 342.7,268.9 342.3,267 340.4,267.3" fill="#e0ebe9"/>
<polygon points="340.4,267.3 342.3,267 341.8,265 339.9,265.2" fill="#ddebe8"/>
<polygon points="339.9,265.2 341.8,265 341.3,263.1 339.4,263.1" fill="#d9eae7"/>
<polygon points="339.4,263.1 341.3,263.1 340.8,261.2 338.9,261" fill="#d5e9e6"/>
<polygon points="338.9,261 340.8,261.2 340.4,259.3 338.4,258.9" fill="#d1e8e5"/>
<polygon points="338.4,258.9 340.4,259.3 339.9,257.3 337.9,256.8" fill="#cde8e3"/>
<polygon points="337.9,256.8 339.9,257.3 339.4,255.4 337.4,254.7" fill="#c8e7e2"/>
<polygon points="337.4,254.7 339.4,255.4 338.9,253.5 336.9,252.6" fill="#c3e6e0"/>
<polygon points="348.8,296.3 350.4,293.1 350,291.4 348.4,294.3" fill="#76d7c9"/>
<polygon points="348.4,294.3 350,291.4 349.6,289.6 348,292.4" fill="#84d9cd"/>
<polygon points="348,292.4 349.6,289.6 349.2,287.8 347.6,290.4" fill="#91dcd1"/>
<polygon points="347.6,290.4 349.2,287.8 348.8,286 347.1,288.4" fill="#9eded5"/>
<polygon points="347.1,288.4 348.8,286 348.4,284.3 346.7,286.5" fill="#abe1d9"/>
<polygon points="346.7,286.5 348.4,284.3 348,282.5 346.3,284.5" fill="#b7e3dd"/>
<polygon points="346.3,284.5 348,282.5 347.6,280.7 345.8,282.5" fill="#c4e6e0"/>
<polygon points="345.8,282.5 347.6,280.7 347.1,278.9 345.4,280.6" fill="#cfe8e4"/>
<polygon points="345.4,280.6 347.1,278.9 346.7,277.2 345,278.6" fill="#daeae7"/>
<polygon points="345,278.6 346.7,277.2 346.3,275.4 344.5,276.7" fill="#e2ecea"/>
<polygon points="344.5,276.7 346.3,275.4 345.9,273.7 344.1,274.8" fill="#e2ecea"/>
<polygon points="344.1,274.8 345.9,273.7 345.5,271.9 343.7,272.8" fill="#e2ecea"/>
<polygon points="343.7,272.8 345.5,271.9 345,270.2 343.2,270.9" fill="#e2ecea"/>
<polygon points="343.2,270.9 345,270.2 344.6,268.4 342.7,268.9" fill="#e2ecea"/>
<polygon points="342.7,268.9 344.6,268.4 344.1,266.7 342.3,267" fill="#e0ebe9"/>
<polygon points="342.3,267 344.1,266.7 343.6,264.9 341.8,265" fill="#ddebe8"/>
<polygon points="341.8,265 343.6,264.9 343.2,263.2 341.3,263.1" fill="#daeae7"/>
<polygon points="341.3,263.1 343.2,263.2 342.7,261.5 340.8,261.2" fill="#d7e9e6"/>
<polygon points="340.8,261.2 342.7,261.5 342.3,259.7 340.4,259.3" fill="#d3e9e5"/>
<polygon points="340.4,259.3 342.3,259.7 341.8,258 339.9,257.3" fill="#cfe8e4"/>
<polygon points="339.9,257.3 341.8,258 341.4,256.3 339.4,255.4" fill="#cae7e2"/>
<polygon points="339.4,255.4 341.4,256.3 340.9,254.5 338.9,253.5" fill="#c6e6e1"/>
<polygon points="350.4,293.1 352,290.2 351.6,288.6 350,291.4" fill="#76d7c9"/>
<polygon points="350,291.4 351.6,288.6 351.2,287 349.6,289.6" fill="#84d9cd"/>
<polygon points="349.6,289.6 351.2,287 350.8,285.4 349.2,287.8" fill="#91dcd1"/>
<polygon points="349.2,287.8 350.8,285.4 350.4,283.9 348.8,286" fill="#9eded5"/>
<polygon points="348.8,286 350.4,283.9 350,282.3 348.4,284.3" fill="#abe1d9"/>
<polygon points="348.4,284.3 350,282.3 349.6,280.7 348,282.5" fill="#b7e3dd"/>
<polygon points="348,282.5 349.6,280.7 349.2,279.1 347.6,280.7" fill="#c4e6e0"/>
<polygon points="347.6,280.7 349.2,279.1 348.8,277.5 347.1,278.9" fill="#cfe8e4"/>
<polygon points="347.1,278.9 348.8,277.5 348.4,276 346.7,277.2" fill="#daeae7"/>
<polygon points="346.7,277.2 348.4,276 348,274.4 346.3,275.4" fill="#e2ecea"/>
<polygon points="346.3,275.4 348,274.4 347.6,272.9 345.9,273.7" fill="#e2ecea"/>
<polygon points="345.9,273.7 347.6,272.9 347.2,271.3 345.5,271.9" fill="#e2ecea"/>
<polygon points="345.5,271.9 347.2,271.3 346.8,269.7 345,270.2" fill="#e2ecea"/>
<polygon points="345,270.2 346.8,269.7 346.3,268.2 344.6,268.4" fill="#e2ecea"/>
<polygon points="344.6,268.4 346.3,268.2 345.9,266.6 344.1,266.7" fill="#e0ebe9"/>
<polygon points="344.1,266.7 345.9,266.6 345.4,265 343.6,264.9" fill="#deebe8"/>
<polygon points="343.6,264.9 345.4,265 345,263.5 343.2,263.2" fill="#dbeae7"/>
<polygon points="343.2,263.2 345,263.5 344.6,262 342.7,261.5" fill="#d8eae6"/>
<polygon points="342.7,261.5 344.6,262 344.1,260.4 342.3,259.7" fill="#d4e9e5"/>
<polygon points="342.3,259.7 344.1,260.4 343.7,258.9 341.8,258" fill="#d0e8e4"/>
<polygon points="341.8,258 343.7,258.9 343.2,257.3 341.4,256.3" fill="#cde7e3"/>
<polygon points="341.4,256.3 343.2,257.3 342.8,255.8 340.9,254.5" fill="#c9e7e2"/>
<polygon points="352,290.2 353.6,287.1 353.2,285.8 351.6,288.6" fill="#76d7c9"/>
<polygon points="351.6,288.6 353.2,285.8 352.8,284.4 351.2,287" fill="#84d9cd"/>
<polygon points="351.2,287 352.8,284.4 352.4,283 350.8,285.4" fill="#91dcd1"/>
<polygon points="350.8,285.4 352.4,283 352,281.6 350.4,283.9" fill="#9eded5"/>
<polygon points="350.4,283.9 352,281.6 351.6,280.2 350,282.3" fill="#abe1d9"/>
<polygon points="350,282.3 351.6,280.2 351.2,278.9 349.6,280.7" fill="#b7e3dd"/>
<polygon points="349.6,280.7 351.2,278.9 350.9,277.5 349.2,279.1" fill="#c4e6e0"/>
<polygon points="349.2,279.1 350.9,277.5 350.5,276.1 348.8,277.5" fill="#cfe8e4"/>
<polygon points="348.8,277.5 350.5,276.1 350.1,274.7 348.4,276" fill="#daeae7"/>
<polygon points="348.4,276 350.1,274.7 349.7,273.4 348,274.4" fill="#e2ecea"/>
<polygon points="348,274.4 349.7,273.4 349.3,272 347.6,272.9" fill="#e2ecea"/>
<polygon points="347.6,272.9 349.3,272 348.9,270.7 347.2,271.3" fill="#e2ecea"/>
<polygon points="347.2,271.3 348.9,270.7 348.5,269.3 346.8,269.7" fill="#e2ecea"/>
<polygon points="346.8,269.7 348.5,269.3 348,267.9 346.3,268.2" fill="#e2ecea"/>
<polygon points="346.3,268.2 348,267.9 347.6,266.6 345.9,266.6" fill="#e0ebe9"/>
<polygon points="345.9,266.6 347.6,266.6 347.2,265.2 345.4,265" fill="#deebe8"/>
<polygon points="345.4,265 347.2,265.2 346.7,263.9 345,263.5" fill="#dbeae8"/>
<polygon points="345,263.5 346.7,263.9 346.3,262.5 344.6,262" fill="#d9eae7"/>
<polygon points="344.6,262 346.3,262.5 345.8,261.2 344.1,260.4" fill="#d6e9e6"/>
<polygon points="344.1,260.4 345.8,261.2 345.4,259.9 343.7,258.9" fill="#d2e9e5"/>
<polygon points="343.7,258.9 345.4,259.9 345,258.5 343.2,257.3" fill="#cfe8e4"/>
<polygon points="343.2,257.3 345,258.5 344.5,257.2 342.8,255.8" fill="#cbe7e3"/>
<polygon points="353.6,287.1 355.2,284.1 354.8,282.9 353.2,285.8" fill="#76d7c9"/>
<polygon points="353.2,285.8 354.8,282.9 354.4,281.7 352.8,284.4" fill="#84d9cd"/>
<polygon points="352.8,284.4 354.4,281.7 354,280.5 352.4,283" fill="#91dcd1"/>
<polygon points="352.4,283 354,280.5 353.7,279.4 352,281.6" fill="#9eded5"/>
<polygon points="352,281.6 353.7,279.4 353.3,278.2 351.6,280.2" fill="#abe1d9"/>
<polygon points="351.6,280.2 353.3,278.2 352.9,277 351.2,278.9" fill="#b7e3dd"/>
<polygon points="351.2,278.9 352.9,277 352.5,275.8 350.9,277.5" fill="#c4e6e0"/>
<polygon points="350.9,277.5 352.5,275.8 352.1,274.7 350.5,276.1" fill="#cfe8e4"/>
<polygon points="350.5,276.1 352.1,274.7 351.7,273.5 350.1,274.7" fill="#daeae7"/>
<polygon points="350.1,274.7 351.7,273.5 351.4,272.4 349.7,273.4" fill="#e2ecea"/>
<polygon points="349.7,273.4 351.4,272.4 351,271.2 349.3,272" fill="#e2ecea"/>
<polygon points="349.3,272 351,271.2 350.6,270.1 348.9,270.7" fill="#e2ecea"/>
<polygon points="348.9,270.7 350.6,270.1 350.1,268.9 348.5,269.3" fill="#e2ecea"/>
<polygon points="348.5,269.3 350.1,268.9 349.7,267.7 348,267.9" fill="#e2ecea"/>
<polygon points="348,267.9 349.7,267.7 349.3,266.6 347.6,266.6" fill="#e0ebe9"/>
<polygon points="347.6,266.6 349.3,266.6 348.8,265.4 347.2,265.2" fill="#deebe9"/>
<polygon points="347.2,265.2 348.8,265.4 348.4,264.3 346.7,263.9" fill="#dceae8"/>
<polygon points="346.7,263.9 348.4,264.3 348,263.2 346.3,262.5" fill="#daeae7"/>
<polygon points="346.3,262.5 348,263.2 347.5,262 345.8,261.2" fill="#d7e9e6"/>
<polygon points="345.8,261.2 347.5,262 347.1,260.9 345.4,259.9" fill="#d4e9e5"/>
<polygon points="345.4,259.9 347.1,260.9 346.7,259.7 345,258.5" fill="#d1e8e4"/>
<polygon points="345,258.5 346.7,259.7 346.2,258.6 344.5,257.2" fill="#cee8e3"/>
<polygon points="355.2,284.1 356.8,281 356.4,280 354.8,282.9" fill="#76d7c9"/>
<polygon points="354.8,282.9 356.4,280 356,279.1 354.4,281.7" fill="#84d9cd"/>
<polygon points="354.4,281.7 356,279.1 355.7,278.1 354,280.5" fill="#91dcd1"/>
<polygon points="354,280.5 355.7,278.1 355.3,277.1 353.7,279.4" fill="#9eded5"/>
<polygon points="353.7,279.4 355.3,277.1 354.9,276.1 353.3,278.2" fill="#abe1d9"/>
<polygon points="353.3,278.2 354.9,276.1 354.6,275.1 352.9,277" fill="#b7e3dd"/>
<polygon points="352.9,277 354.6,275.1 354.2,274.2 352.5,275.8" fill="#c4e6e0"/>
<polygon points="352.5,275.8 354.2,274.2 353.8,273.2 352.1,274.7" fill="#cfe8e4"/>
<polygon points="352.1,274.7 353.8,273.2 353.4,272.3 351.7,273.5" fill="#daeae7"/>
<polygon points="351.7,273.5 353.4,272.3 353,271.3 351.4,272.4" fill="#e2ecea"/>
<polygon points="351.4,272.4 353,271.3 352.7,270.4 351,271.2" fill="#e2ecea"/>
<polygon points="351,271.2 352.7,270.4 352.3,269.4 350.6,270.1" fill="#e2ecea"/>
<polygon points="350.6,270.1 352.3,269.4 351.8,268.4 350.1,268.9" fill="#e2ecea"/>
<polygon points="350.1,268.9 351.8,268.4 351.4,267.5 349.7,267.7" fill="#e2ecea"/>
<polygon points="349.7,267.7 351.4,267.5 351,266.5 349.3,266.6" fill="#e1ebe9"/>
<polygon points="349.3,266.6 351,266.5 350.6,265.6 348.8,265.4" fill="#dfebe9"/>
<polygon points="348.8,265.4 350.6,265.6 350.1,264.7 348.4,264.3" fill="#ddebe8"/>
<polygon points="348.4,264.3 350.1,264.7 349.7,263.7 348,263.2" fill="#dbeae7"/>
<polygon points="348,263.2 349.7,263.7 349.3,262.8 347.5,262" fill="#d8eae7"/>
<polygon points="347.5,262 349.3,262.8 348.9,261.9 347.1,260.9" fill="#d6e9e6"/>
<polygon points="347.1,260.9 348.9,261.9 348.4,260.9 346.7,259.7" fill="#d3e9e5"/>
<polygon points="346.7,259.7 348.4,260.9 348,260 346.2,258.6" fill="#d0e8e4"/>
</g>
<g stroke-width="0.3" stroke-linejoin="round" stroke="#5d6d6b" stroke-opacity="0.5">
<polygon points="356.8,281 358,283.6 358,283.4 356.8,281" fill="#ddebe8"/>
<polygon points="356.8,281 358,283.4 358.1,283.2 356.8,281" fill="#ddebe8"/>
<polygon points="356.8,281 358.1,283.2 358.1,283 356.8,281" fill="#ddebe8"/>
<polygon points="356.8,281 358.1,283 358.1,282.7 356.8,281" fill="#ddebe8"/>
<polygon points="356.8,281 358.1,282.7 358.1,282.5 356.8,281" fill="#d7eae6"/>
<polygon points="356.8,281 358.1,282.5 358.1,282.3 356.8,281" fill="#cde8e3"/>
<polygon points="356.8,281 358.1,282.3 358.1,282 356.8,281" fill="#c3e6e0"/>
<polygon points="356.8,281 358.1,282 358.1,281.8 356.8,281" fill="#b8e4dd"/>
<polygon points="356.8,281 358.1,281.8 358.1,281.6 356.8,281" fill="#aee2da"/>
<polygon points="356.8,281 358.1,281.6 358.1,281.4 356.8,281" fill="#a4e0d6"/>
<polygon points="356.8,281 358.1,281.4 358.1,281.1 356.8,281" fill="#99ded3"/>
<polygon points="356.8,281 358.1,281.1 358.2,280.9 356.8,281" fill="#8fdcd0"/>
<polygon points="356.8,281 358.2,280.9 358.2,280.7 356.8,281" fill="#84dacd"/>
<polygon points="356.8,281 358.2,280.7 358.2,280.5 356.8,281" fill="#7ad8ca"/>
<polygon points="356.8,281 358.2,280.5 358.2,280.2 356.8,281" fill="#70d6c7"/>
<polygon points="356.8,281 358.2,280.2 358.2,280 356.8,281" fill="#70d6c7"/>
<polygon points="356.8,281 358.2,280 358.2,279.8 356.8,281" fill="#70d6c7"/>
<polygon points="356.8,281 358.2,279.8 358.2,279.6 356.8,281" fill="#70d6c7"/>
<polygon points="356.8,281 358.2,279.6 358.2,279.3 356.8,281" fill="#70d6c7"/>
<polygon points="356.8,281 358.2,279.3 358.2,279.1 356.8,281" fill="#70d6c7"/>
<polygon points="356.8,281 358.2,279.1 358.2,278.9 356.8,281" fill="#70d6c7"/>
<polygon points="356.8,281 358.2,278.9 358.3,278.7 356.8,281" fill="#70d6c7"/>
<polygon points="358,283.6 359.5,286.1 359.5,285.6 358,283.4" fill="#ddebe8"/>
<polygon points="358,283.4 359.5,285.6 359.6,285.2 358.1,283.2" fill="#ddebe8"/>
<polygon points="358.1,283.2 359.6,285.2 359.6,284.7 358.1,283" fill="#ddebe8"/>
<polygon points="358.1,283 359.6,284.7 359.6,284.3 358.1,282.7" fill="#ddebe8"/>
<polygon points="358.1,282.7 359.6,284.3 359.6,283.9 358.1,282.5" fill="#d7eae6"/>
<polygon points="358.1,282.5 359.6,283.9 359.6,283.4 358.1,282.3" fill="#cde8e3"/>
<polygon points="358.1,282.3 359.6,283.4 359.6,283 358.1,282" fill="#c3e6e0"/>
<polygon points="358.1,282 359.6,283 359.6,282.5 358.1,281.8" fill="#b8e4dd"/>
<polygon points="358.1,281.8 359.6,282.5 359.6,282.1 358.1,281.6" fill="#aee2da"/>
<polygon points="358.1,281.6 359.6,282.1 359.6,281.6 358.1,281.4" fill="#a4e0d6"/>
<polygon points="358.1,281.4 359.6,281.6 359.6,281.2 358.1,281.1" fill="#99ded3"/>
<polygon points="358.1,281.1 359.6,281.2 359.6,280.7 358.2,280.9" fill="#8fdcd0"/>
<polygon points="358.2,280.9 359.6,280.7 359.6,280.3 358.2,280.7" fill="#84dacd"/>
<polygon points="358.2,280.7 359.6,280.3 359.6,279.9 358.2,280.5" fill="#7ad8ca"/>
<polygon points="358.2,280.5 359.6,279.9 359.6,279.4 358.2,280.2" fill="#70d6c7"/>
<polygon points="358.2,280.2 359.6,279.4 359.6,279 358.2,280" fill="#70d6c7"/>
<polygon points="358.2,280 359.6,279 359.7,278.5 358.2,279.8" fill="#70d6c7"/>
<polygon points="358.2,279.8 359.7,278.5 359.7,278.1 358.2,279.6" fill="#70d6c7"/>
<polygon points="358.2,279.6 359.7,278.1 359.7,277.6 358.2,279.3" fill="#70d6c7"/>
<polygon points="358.2,279.3 359.7,277.6 359.7,277.2 358.2,279.1" fill="#70d6c7"/>
<polygon points="358.2,279.1 359.7,277.2 359.7,276.7 358.2,278.9" fill="#70d6c7"/>
<polygon points="358.2,278.9 359.7,276.7 359.7,276.3 358.3,278.7" fill="#70d6c7"/>
<polygon points="359.5,286.1 361.6,287.6 361.6,287 359.5,285.6" fill="#ddebe8"/>
<polygon points="359.5,285.6 361.6,287 361.6,286.4 359.6,285.2" fill="#ddebe8"/>
<polygon points="359.6,285.2 361.6,286.4 361.5,285.7 359.6,284.7" fill="#ddebe8"/>
<polygon points="359.6,284.7 361.5,285.7 361.5,285.1 359.6,284.3" fill="#ddebe8"/>
<polygon points="359.6,284.3 361.5,285.1 361.5,284.5 359.6,283.9" fill="#d7eae6"/>
<polygon points="359.6,283.9 361.5,284.5 361.5,283.9 359.6,283.4" fill="#cde8e3"/>
<polygon points="359.6,283.4 361.5,283.9 361.4,283.3 359.6,283" fill="#c3e6e0"/>
<polygon points="359.6,283 361.4,283.3 361.4,282.6 359.6,282.5" fill="#b8e4dd"/>
<polygon points="359.6,282.5 361.4,282.6 361.4,282 359.6,282.1" fill="#aee2da"/>
<polygon points="359.6,282.1 361.4,282 361.4,281.4 359.6,281.6" fill="#a3e0d6"/>
<polygon points="359.6,281.6 361.4,281.4 361.4,280.8 359.6,281.2" fill="#99ded3"/>
<polygon points="359.6,281.2 361.4,280.8 361.3,280.2 359.6,280.7" fill="#8fdcd0"/>
<polygon points="359.6,280.7 361.3,280.2 361.3,279.5 359.6,280.3" fill="#84dacd"/>
<polygon points="359.6,280.3 361.3,279.5 361.3,278.9 359.6,279.9" fill="#7ad8ca"/>
<polygon points="359.6,279.9 361.3,278.9 361.3,278.3 359.6,279.4" fill="#70d6c7"/>
<polygon points="359.6,279.4 361.3,278.3 361.3,277.7 359.6,279" fill="#70d6c7"/>
<polygon points="359.6,279 361.3,277.7 361.2,277.1 359.7,278.5" fill="#70d6c7"/>
<polygon points="359.7,278.5 361.2,277.1 361.2,276.4 359.7,278.1" fill="#70d6c7"/>
<polygon points="359.7,278.1 361.2,276.4 361.2,275.8 359.7,277.6" fill="#70d6c7"/>
<polygon points="359.7,277.6 361.2,275.8 361.2,275.2 359.7,277.2" fill="#70d6c7"/>
<polygon points="359.7,277.2 361.2,275.2 361.1,274.6 359.7,276.7" fill="#70d6c7"/>
<polygon points="359.7,276.7 361.1,274.6 361.1,274 359.7,276.3" fill="#70d6c7"/>
<polygon points="361.6,287.6 364.1,288.7 364,287.9 361.6,287" fill="#ddebe8"/>
<polygon points="361.6,287 364,287.9 364,287.1 361.6,286.4" fill="#ddebe8"/>
<polygon points="361.6,286.4 364,287.1 363.9,286.3 361.5,285.7" fill="#ddebe8"/>
<polygon points="361.5,285.7 363.9,286.3 363.8,285.6 361.5,285.1" fill="#ddebe8"/>
<polygon points="361.5,285.1 363.8,285.6 363.8,284.8 361.5,284.5" fill="#d7eae6"/>
<polygon points="361.5,284.5 363.8,284.8 363.7,284 361.5,283.9" fill="#cde8e3"/>
<polygon points="361.5,283.9 363.7,284 363.6,283.2 361.4,283.3" fill="#c3e6e0"/>
<polygon points="361.4,283.3 363.6,283.2 363.6,282.5 361.4,282.6" fill="#b8e4dd"/>
<polygon points="361.4,282.6 363.6,282.5 363.5,281.7 361.4,282" fill="#aee2da"/>
<polygon points="361.4,282 363.5,281.7 363.4,280.9 361.4,281.4" fill="#a3e0d6"/>
<polygon points="361.4,281.4 363.4,280.9 363.4,280.1 361.4,280.8" fill="#99ded3"/>
<polygon points="361.4,280.8 363.4,280.1 363.3,279.4 361.3,280.2" fill="#8fdcd0"/>
<polygon points="361.3,280.2 363.3,279.4 363.2,278.6 361.3,279.5" fill="#84dacd"/>
<polygon points="361.3,279.5 363.2,278.6 363.1,277.8 361.3,278.9" fill="#7ad8ca"/>
<polygon points="361.3,278.9 363.1,277.8 363.1,277 361.3,278.3" fill="#70d6c7"/>
<polygon points="361.3,278.3 363.1,277 363,276.3 361.3,277.7" fill="#70d6c7"/>
<polygon points="361.3,277.7 363,276.3 362.9,275.5 361.2,277.1" fill="#70d6c7"/>
<polygon points="361.2,277.1 362.9,275.5 362.9,274.7 361.2,276.4" fill="#70d6c7"/>
<polygon points="361.2,276.4 362.9,274.7 362.8,273.9 361.2,275.8" fill="#70d6c7"/>
<polygon points="361.2,275.8 362.8,273.9 362.7,273.2 361.2,275.2" fill="#70d6c7"/>
<polygon points="361.2,275.2 362.7,273.2 362.7,272.4 361.1,274.6" fill="#70d6c7"/>
<polygon points="361.1,274.6 362.7,272.4 362.6,271.6 361.1,274" fill="#70d6c7"/>
<polygon points="364.1,288.7 367.3,289.4 367.2,288.4 364,287.9" fill="#ddebe8"/>
<polygon points="364,287.9 367.2,288.4 367.1,287.5 364,287.1" fill="#ddebe8"/>
<polygon points="364,287.1 367.1,287.5 366.9,286.6 363.9,286.3" fill="#ddebe8"/>
<polygon points="363.9,286.3 366.9,286.6 366.8,285.7 363.8,285.6" fill="#ddebe8"/>
<polygon points="363.8,285.6 366.8,285.7 366.6,284.8 363.8,284.8" fill="#d7eae6"/>
<polygon points="363.8,284.8 366.6,284.8 366.5,283.9 363.7,284" fill="#cde8e3"/>
<polygon points="363.7,284 366.5,283.9 366.3,283 363.6,283.2" fill="#c2e6e0"/>
<polygon points="363.6,283.2 366.3,283 366.2,282 363.6,282.5" fill="#b8e4dd"/>
<polygon points="363.6,282.5 366.2,282 366,281.1 363.5,281.7" fill="#aee2da"/>
<polygon points="363.5,281.7 366,281.1 365.9,280.2 363.4,280.9" fill="#a3e0d6"/>
<polygon points="363.4,280.9 365.9,280.2 365.7,279.3 363.4,280.1" fill="#99ded3"/>
<polygon points="363.4,280.1 365.7,279.3 365.6,278.4 363.3,279.4" fill="#8fdcd0"/>
<polygon points="363.3,279.4 365.6,278.4 365.5,277.5 363.2,278.6" fill="#84dacd"/>
<polygon points="363.2,278.6 365.5,277.5 365.3,276.6 363.1,277.8" fill="#7ad8ca"/>
<polygon points="363.1,277.8 365.3,276.6 365.2,275.7 363.1,277" fill="#70d6c7"/>
<polygon points="363.1,277 365.2,275.7 365,274.7 363,276.3" fill="#70d6c7"/>
<polygon points="363,276.3 365,274.7 364.9,273.8 362.9,275.5" fill="#70d6c7"/>
<polygon points="362.9,275.5 364.9,273.8 364.7,272.9 362.9,274.7" fill="#70d6c7"/>
<polygon points="362.9,274.7 364.7,272.9 364.6,272 362.8,273.9" fill="#70d6c7"/>
<polygon points="362.8,273.9 364.6,272 364.4,271.1 362.7,273.2" fill="#70d6c7"/>
<polygon points="362.7,273.2 364.4,271.1 364.3,270.2 362.7,272.4" fill="#70d6c7"/>
<polygon points="362.7,272.4 364.3,270.2 364.1,269.3 362.6,271.6" fill="#70d6c7"/>
<polygon points="367.3,289.4 369.8,289.7 369.7,288.7 367.2,288.4" fill="#ddebe8"/>
<polygon points="367.2,288.4 369.7,288.7 369.5,287.6 367.1,287.5" fill="#ddebe8"/>
<polygon points="367.1,287.5 369.5,287.6 369.3,286.6 366.9,286.6" fill="#ddebe8"/>
<polygon points="366.9,286.6 369.3,286.6 369.1,285.6 366.8,285.7" fill="#ddebe8"/>
<polygon points="366.8,285.7 369.1,285.6 368.9,284.5 366.6,284.8" fill="#d7e9e6"/>
<polygon points="366.6,284.8 368.9,284.5 368.7,283.5 366.5,283.9" fill="#cde7e3"/>
<polygon points="366.5,283.9 368.7,283.5 368.5,282.5 366.3,283" fill="#c2e5e0"/>
<polygon points="366.3,283 368.5,282.5 368.3,281.4 366.2,282" fill="#b8e3dd"/>
<polygon points="366.2,282 368.3,281.4 368.2,280.4 366,281.1" fill="#aee1da"/>
<polygon points="366,281.1 368.2,280.4 368,279.4 365.9,280.2" fill="#a3dfd6"/>
<polygon points="365.9,280.2 368,279.4 367.8,278.3 365.7,279.3" fill="#99ddd3"/>
<polygon points="365.7,279.3 367.8,278.3 367.6,277.3 365.6,278.4" fill="#8fdbd0"/>
<polygon points="365.6,278.4 367.6,277.3 367.4,276.3 365.5,277.5" fill="#84d9cd"/>
<polygon points="365.5,277.5 367.4,276.3 367.2,275.2 365.3,276.6" fill="#7ad7ca"/>
<polygon points="365.3,276.6 367.2,275.2 367,274.2 365.2,275.7" fill="#70d6c7"/>
<polygon points="365.2,275.7 367,274.2 366.9,273.2 365,274.7" fill="#70d6c7"/>
<polygon points="365,274.7 366.9,273.2 366.7,272.1 364.9,273.8" fill="#70d6c7"/>
<polygon points="364.9,273.8 366.7,272.1 366.5,271.1 364.7,272.9" fill="#70d6c7"/>
<polygon points="364.7,272.9 366.5,271.1 366.3,270.1 364.6,272" fill="#70d6c7"/>
<polygon points="364.6,272 366.3,270.1 366.1,269 364.4,271.1" fill="#70d6c7"/>
<polygon points="364.4,271.1 366.1,269 365.9,268 364.3,270.2" fill="#70d6c7"/>
<polygon points="364.3,270.2 365.9,268 365.7,267 364.1,269.3" fill="#70d6c7"/>
<polygon points="369.8,289.7 372.7,290 372.5,288.8 369.7,288.7" fill="#dcebe8"/>
<polygon points="369.7,288.7 372.5,288.8 372.2,287.7 369.5,287.6" fill="#dcebe8"/>
<polygon points="369.5,287.6 372.2,287.7 372,286.5 369.3,286.6" fill="#dcebe8"/>
<polygon points="369.3,286.6 372,286.5 371.7,285.4 369.1,285.6" fill="#dcebe8"/>
<polygon points="369.1,285.6 371.7,285.4 371.5,284.2 368.9,284.5" fill="#d7e9e6"/>
<polygon points="368.9,284.5 371.5,284.2 371.3,283.1 368.7,283.5" fill="#cde7e3"/>
<polygon points="368.7,283.5 371.3,283.1 371,281.9 368.5,282.5" fill="#c2e5e0"/>
<polygon points="368.5,282.5 371,281.9 370.8,280.8 368.3,281.4" fill="#b8e3dd"/>
<polygon points="368.3,281.4 370.8,280.8 370.5,279.7 368.2,280.4" fill="#ade1da"/>
<polygon points="368.2,280.4 370.5,279.7 370.3,278.5 368,279.4" fill="#a3dfd6"/>
<polygon points="368,279.4 370.3,278.5 370,277.4 367.8,278.3" fill="#99ddd3"/>
<polygon points="367.8,278.3 370,277.4 369.8,276.2 367.6,277.3" fill="#8edbd0"/>
<polygon points="367.6,277.3 369.8,276.2 369.5,275.1 367.4,276.3" fill="#84d9cd"/>
<polygon points="367.4,276.3 369.5,275.1 369.3,273.9 367.2,275.2" fill="#7ad7ca"/>
<polygon points="367.2,275.2 369.3,273.9 369.1,272.8 367,274.2" fill="#70d6c7"/>
<polygon points="367,274.2 369.1,272.8 368.8,271.6 366.9,273.2" fill="#70d6c7"/>
<polygon points="366.9,273.2 368.8,271.6 368.6,270.5 366.7,272.1" fill="#70d6c7"/>
<polygon points="366.7,272.1 368.6,270.5 368.3,269.3 366.5,271.1" fill="#70d6c7"/>
<polygon points="366.5,271.1 368.3,269.3 368.1,268.2 366.3,270.1" fill="#70d6c7"/>
<polygon points="366.3,270.1 368.1,268.2 367.8,267 366.1,269" fill="#70d6c7"/>
<polygon points="366.1,269 367.8,267 367.6,265.9 365.9,268" fill="#70d6c7"/>
<polygon points="365.9,268 367.6,265.9 367.4,264.7 365.7,267" fill="#70d6c7"/>
<polygon points="372.7,290 375.8,290.1 375.5,288.9 372.5,288.8" fill="#dceae8"/>
<polygon points="372.5,288.8 375.5,288.9 375.2,287.6 372.2,287.7" fill="#dceae8"/>
<polygon points="372.2,287.7 375.2,287.6 374.9,286.4 372,286.5" fill="#dceae8"/>
<polygon points="372,286.5 374.9,286.4 374.6,285.1 371.7,285.4" fill="#dceae8"/>
<polygon points="371.7,285.4 374.6,285.1 374.2,283.9 371.5,284.2" fill="#d7e9e6"/>
<polygon points="371.5,284.2 374.2,283.9 373.9,282.6 371.3,283.1" fill="#cce7e3"/>
<polygon points="371.3,283.1 373.9,282.6 373.6,281.3 371,281.9" fill="#c2e5e0"/>
<polygon points="371,281.9 373.6,281.3 373.3,280.1 370.8,280.8" fill="#b8e3dd"/>
<polygon points="370.8,280.8 373.3,280.1 373,278.8 370.5,279.7" fill="#ade1d9"/>
<polygon points="370.5,279.7 373,278.8 372.7,277.6 370.3,278.5" fill="#a3dfd6"/>
<polygon points="370.3,278.5 372.7,277.6 372.4,276.3 370,277.4" fill="#98ddd3"/>
<polygon points="370,277.4 372.4,276.3 372.1,275.1 369.8,276.2" fill="#8edbd0"/>
<polygon points="369.8,276.2 372.1,275.1 371.8,273.8 369.5,275.1" fill="#84d9cd"/>
<polygon points="369.5,275.1 371.8,273.8 371.5,272.5 369.3,273.9" fill="#79d7ca"/>
<polygon points="369.3,273.9 371.5,272.5 371.2,271.3 369.1,272.8" fill="#70d6c7"/>
<polygon points="369.1,272.8 371.2,271.3 370.9,270 368.8,271.6" fill="#70d6c7"/>
<polygon points="368.8,271.6 370.9,270 370.6,268.8 368.6,270.5" fill="#70d6c7"/>
<polygon points="368.6,270.5 370.6,268.8 370.3,267.5 368.3,269.3" fill="#70d6c7"/>
<polygon points="368.3,269.3 370.3,267.5 370,266.2 368.1,268.2" fill="#70d6c7"/>
<polygon points="368.1,268.2 370,266.2 369.7,265 367.8,267" fill="#70d6c7"/>
<polygon points="367.8,267 369.7,265 369.4,263.7 367.6,265.9" fill="#70d6c7"/>
<polygon points="367.6,265.9 369.4,263.7 369,262.5 367.4,264.7" fill="#70d6c7"/>
<polygon points="375.8,290.1 378.9,290.1 378.5,288.8 375.5,288.9" fill="#dceae8"/>
<polygon points="375.5,288.9 378.5,288.8 378.1,287.4 375.2,287.6" fill="#dceae8"/>
<polygon points="375.2,287.6 378.1,287.4 377.8,286.1 374.9,286.4" fill="#dceae8"/>
<polygon points="374.9,286.4 377.8,286.1 377.4,284.7 374.6,285.1" fill="#dceae8"/>
<polygon points="374.6,285.1 377.4,284.7 377,283.3 374.2,283.9" fill="#d6e9e6"/>
<polygon points="374.2,283.9 377,283.3 376.7,282 373.9,282.6" fill="#cce7e3"/>
<polygon points="373.9,282.6 376.7,282 376.3,280.6 373.6,281.3" fill="#c2e5e0"/>
<polygon points="373.6,281.3 376.3,280.6 375.9,279.3 373.3,280.1" fill="#b7e3dd"/>
<polygon points="373.3,280.1 375.9,279.3 375.6,277.9 373,278.8" fill="#ade1d9"/>
<polygon points="373,278.8 375.6,277.9 375.2,276.5 372.7,277.6" fill="#a2dfd6"/>
<polygon points="372.7,277.6 375.2,276.5 374.8,275.2 372.4,276.3" fill="#98ddd3"/>
<polygon points="372.4,276.3 374.8,275.2 374.5,273.8 372.1,275.1" fill="#8edbd0"/>
<polygon points="372.1,275.1 374.5,273.8 374.1,272.5 371.8,273.8" fill="#83d9cd"/>
<polygon points="371.8,273.8 374.1,272.5 373.7,271.1 371.5,272.5" fill="#79d7c9"/>
<polygon points="371.5,272.5 373.7,271.1 373.4,269.7 371.2,271.3" fill="#70d6c7"/>
<polygon points="371.2,271.3 373.4,269.7 373,268.4 370.9,270" fill="#70d6c7"/>
<polygon points="370.9,270 373,268.4 372.6,267 370.6,268.8" fill="#70d6c7"/>
<polygon points="370.6,268.8 372.6,267 372.2,265.7 370.3,267.5" fill="#70d6c7"/>
<polygon points="370.3,267.5 372.2,265.7 371.9,264.3 370,266.2" fill="#70d6c7"/>
<polygon points="370,266.2 371.9,264.3 371.5,262.9 369.7,265" fill="#70d6c7"/>
<polygon points="369.7,265 371.5,262.9 371.1,261.6 369.4,263.7" fill="#70d6c7"/>
<polygon points="369.4,263.7 371.1,261.6 370.8,260.2 369,262.5" fill="#70d6c7"/>
<polygon points="378.9,290.1 381.8,289.9 381.4,288.5 378.5,288.8" fill="#dbeae8"/>
<polygon points="378.5,288.8 381.4,288.5 380.9,287 378.1,287.4" fill="#dbeae8"/>
<polygon points="378.1,287.4 380.9,287 380.5,285.6 377.8,286.1" fill="#dbeae8"/>
<polygon points="377.8,286.1 380.5,285.6 380.1,284.1 377.4,284.7" fill="#dbeae8"/>
<polygon points="377.4,284.7 380.1,284.1 379.7,282.7 377,283.3" fill="#d6e9e6"/>
<polygon points="377,283.3 379.7,282.7 379.3,281.2 376.7,282" fill="#cbe7e3"/>
<polygon points="376.7,282 379.3,281.2 378.8,279.8 376.3,280.6" fill="#c1e5e0"/>
<polygon points="376.3,280.6 378.8,279.8 378.4,278.3 375.9,279.3" fill="#b7e3dc"/>
<polygon points="375.9,279.3 378.4,278.3 378,276.9 375.6,277.9" fill="#ace1d9"/>
<polygon points="375.6,277.9 378,276.9 377.6,275.4 375.2,276.5" fill="#a2dfd6"/>
<polygon points="375.2,276.5 377.6,275.4 377.1,274 374.8,275.2" fill="#98ddd3"/>
<polygon points="374.8,275.2 377.1,274 376.7,272.5 374.5,273.8" fill="#8ddbd0"/>
<polygon points="374.5,273.8 376.7,272.5 376.3,271.1 374.1,272.5" fill="#83d9cc"/>
<polygon points="374.1,272.5 376.3,271.1 375.9,269.6 373.7,271.1" fill="#79d7c9"/>
<polygon points="373.7,271.1 375.9,269.6 375.5,268.2 373.4,269.7" fill="#70d6c7"/>
<polygon points="373.4,269.7 375.5,268.2 375,266.7 373,268.4" fill="#70d6c7"/>
<polygon points="373,268.4 375,266.7 374.6,265.3 372.6,267" fill="#70d6c7"/>
<polygon points="372.6,267 374.6,265.3 374.2,263.8 372.2,265.7" fill="#70d6c7"/>
<polygon points="372.2,265.7 374.2,263.8 373.8,262.4 371.9,264.3" fill="#70d6c7"/>
<polygon points="371.9,264.3 373.8,262.4 373.4,260.9 371.5,262.9" fill="#70d6c7"/>
<polygon points="371.5,262.9 373.4,260.9 372.9,259.5 371.1,261.6" fill="#70d6c7"/>
<polygon points="371.1,261.6 372.9,259.5 372.5,258 370.8,260.2" fill="#70d6c7"/>
<polygon points="381.8,289.9 384.6,289.5 384.2,288 381.4,288.5" fill="#dbeae7"/>
<polygon points="381.4,288.5 384.2,288 383.7,286.4 380.9,287" fill="#dbeae7"/>
<polygon points="380.9,287 383.7,286.4 383.2,284.9 380.5,285.6" fill="#dbeae7"/>
<polygon points="380.5,285.6 383.2,284.9 382.8,283.4 380.1,284.1" fill="#dbeae7"/>
<polygon points="380.1,284.1 382.8,283.4 382.3,281.9 379.7,282.7" fill="#d5e9e6"/>
<polygon points="379.7,282.7 382.3,281.9 381.8,280.3 379.3,281.2" fill="#cbe7e3"/>
<polygon points="379.3,281.2 381.8,280.3 381.3,278.8 378.8,279.8" fill="#c1e5df"/>
<polygon points="378.8,279.8 381.3,278.8 380.9,277.3 378.4,278.3" fill="#b6e3dc"/>
<polygon points="378.4,278.3 380.9,277.3 380.4,275.8 378,276.9" fill="#ace1d9"/>
<polygon points="378,276.9 380.4,275.8 379.9,274.2 377.6,275.4" fill="#a2dfd6"/>
<polygon points="377.6,275.4 379.9,274.2 379.5,272.7 377.1,274" fill="#97ddd3"/>
<polygon points="377.1,274 379.5,272.7 379,271.2 376.7,272.5" fill="#8ddbcf"/>
<polygon points="376.7,272.5 379,271.2 378.5,269.6 376.3,271.1" fill="#82d9cc"/>
<polygon points="376.3,271.1 378.5,269.6 378,268.1 375.9,269.6" fill="#78d7c9"/>
<polygon points="375.9,269.6 378,268.1 377.6,266.6 375.5,268.2" fill="#70d6c7"/>
<polygon points="375.5,268.2 377.6,266.6 377.1,265.1 375,266.7" fill="#70d6c7"/>
<polygon points="375,266.7 377.1,265.1 376.6,263.5 374.6,265.3" fill="#70d6c7"/>
<polygon points="374.6,265.3 376.6,263.5 376.1,262 374.2,263.8" fill="#70d6c7"/>
<polygon points="374.2,263.8 376.1,262 375.7,260.5 373.8,262.4" fill="#70d6c7"/>
<polygon points="373.8,262.4 375.7,260.5 375.2,259 373.4,260.9" fill="#70d6c7"/>
<polygon points="373.4,260.9 375.2,259 374.7,257.4 372.9,259.5" fill="#70d6c7"/>
<polygon points="372.9,259.5 374.7,257.4 374.3,255.9 372.5,258" fill="#70d6c7"/>
<polygon points="384.6,289.5 387.6,288.9 387,287.3 384.2,288" fill="#daeae7"/>
<polygon points="384.2,288 387,287.3 386.5,285.7 383.7,286.4" fill="#daeae7"/>
<polygon points="383.7,286.4 386.5,285.7 386,284.1 383.2,284.9" fill="#daeae7"/>
<polygon points="383.2,284.9 386,284.1 385.5,282.5 382.8,283.4" fill="#daeae7"/>
<polygon points="382.8,283.4 385.5,282.5 384.9,280.9 382.3,281.9" fill="#d5e9e6"/>
<polygon points="382.3,281.9 384.9,280.9 384.4,279.3 381.8,280.3" fill="#cae7e2"/>
<polygon points="381.8,280.3 384.4,279.3 383.9,277.7 381.3,278.8" fill="#c0e5df"/>
<polygon points="381.3,278.8 383.9,277.7 383.4,276.1 380.9,277.3" fill="#b6e3dc"/>
<polygon points="380.9,277.3 383.4,276.1 382.9,274.5 380.4,275.8" fill="#abe1d9"/>
<polygon points="380.4,275.8 382.9,274.5 382.3,272.9 379.9,274.2" fill="#a1dfd6"/>
<polygon points="379.9,274.2 382.3,272.9 381.8,271.3 379.5,272.7" fill="#97ddd2"/>
<polygon points="379.5,272.7 381.8,271.3 381.3,269.7 379,271.2" fill="#8cdbcf"/>
<polygon points="379,271.2 381.3,269.7 380.8,268.1 378.5,269.6" fill="#82d9cc"/>
<polygon points="378.5,269.6 380.8,268.1 380.2,266.5 378,268.1" fill="#77d7c9"/>
<polygon points="378,268.1 380.2,266.5 379.7,264.9 377.6,266.6" fill="#70d6c7"/>
<polygon points="377.6,266.6 379.7,264.9 379.2,263.4 377.1,265.1" fill="#70d6c7"/>
<polygon points="377.1,265.1 379.2,263.4 378.7,261.8 376.6,263.5" fill="#70d6c7"/>
<polygon points="376.6,263.5 378.7,261.8 378.1,260.2 376.1,262" fill="#70d6c7"/>
<polygon points="376.1,262 378.1,260.2 377.6,258.6 375.7,260.5" fill="#70d6c7"/>
<polygon points="375.7,260.5 377.6,258.6 377.1,257 375.2,259" fill="#70d6c7"/>
<polygon points="375.2,259 377.1,257 376.6,255.4 374.7,257.4" fill="#70d6c7"/>
<polygon points="374.7,257.4 376.6,255.4 376,253.8 374.3,255.9" fill="#70d6c7"/>
<polygon points="387.6,288.9 390.4,288.2 389.9,286.5 387,287.3" fill="#daeae7"/>
<polygon points="387,287.3 389.9,286.5 389.3,284.9 386.5,285.7" fill="#daeae7"/>
<polygon points="386.5,285.7 389.3,284.9 388.7,283.2 386,284.1" fill="#daeae7"/>
<polygon points="386,284.1 388.7,283.2 388.1,281.5 385.5,282.5" fill="#daeae7"/>
<polygon points="385.5,282.5 388.1,281.5 387.6,279.9 384.9,280.9" fill="#d4e9e5"/>
<polygon points="384.9,280.9 387.6,279.9 387,278.2 384.4,279.3" fill="#cae7e2"/>
<polygon points="384.4,279.3 387,278.2 386.4,276.6 383.9,277.7" fill="#bfe5df"/>
<polygon points="383.9,277.7 386.4,276.6 385.9,274.9 383.4,276.1" fill="#b5e3dc"/>
<polygon points="383.4,276.1 385.9,274.9 385.3,273.2 382.9,274.5" fill="#aae1d9"/>
<polygon points="382.9,274.5 385.3,273.2 384.7,271.6 382.3,272.9" fill="#a0dfd5"/>
<polygon points="382.3,272.9 384.7,271.6 384.2,269.9 381.8,271.3" fill="#96ddd2"/>
<polygon points="381.8,271.3 384.2,269.9 383.6,268.2 381.3,269.7" fill="#8bdbcf"/>
<polygon points="381.3,269.7 383.6,268.2 383,266.6 380.8,268.1" fill="#81d9cc"/>
<polygon points="380.8,268.1 383,266.6 382.5,264.9 380.2,266.5" fill="#77d7c9"/>
<polygon points="380.2,266.5 382.5,264.9 381.9,263.3 379.7,264.9" fill="#70d6c7"/>
<polygon points="379.7,264.9 381.9,263.3 381.3,261.6 379.2,263.4" fill="#70d6c7"/>
<polygon points="379.2,263.4 381.3,261.6 380.8,259.9 378.7,261.8" fill="#70d6c7"/>
<polygon points="378.7,261.8 380.8,259.9 380.2,258.3 378.1,260.2" fill="#70d6c7"/>
<polygon points="378.1,260.2 380.2,258.3 379.6,256.6 377.6,258.6" fill="#70d6c7"/>
<polygon points="377.6,258.6 379.6,256.6 379.1,254.9 377.1,257" fill="#70d6c7"/>
<polygon points="377.1,257 379.1,254.9 378.5,253.3 376.6,255.4" fill="#70d6c7"/>
<polygon points="376.6,255.4 378.5,253.3 377.9,251.6 376,253.8" fill="#70d6c7"/>
<polygon points="390.4,288.2 393.1,287.3 392.5,285.6 389.9,286.5" fill="#d9eae7"/>
<polygon points="389.9,286.5 392.5,285.6 391.9,283.8 389.3,284.9" fill="#d9eae7"/>
<polygon points="389.3,284.9 391.9,283.8 391.3,282.1 388.7,283.2" fill="#d9eae7"/>
<polygon points="388.7,283.2 391.3,282.1 390.7,280.4 388.1,281.5" fill="#d9eae7"/>
<polygon points="388.1,281.5 390.7,280.4 390.1,278.7 387.6,279.9" fill="#d3e9e5"/>
<polygon points="387.6,279.9 390.1,278.7 389.5,277 387,278.2" fill="#c9e7e2"/>
<polygon points="387,278.2 389.5,277 388.9,275.3 386.4,276.6" fill="#bee5df"/>
<polygon points="386.4,276.6 388.9,275.3 388.3,273.6 385.9,274.9" fill="#b4e3dc"/>
<polygon points="385.9,274.9 388.3,273.6 387.7,271.8 385.3,273.2" fill="#aae1d8"/>
<polygon points="385.3,273.2 387.7,271.8 387.1,270.1 384.7,271.6" fill="#9fdfd5"/>
<polygon points="384.7,271.6 387.1,270.1 386.5,268.4 384.2,269.9" fill="#95ddd2"/>
<polygon points="384.2,269.9 386.5,268.4 385.8,266.7 383.6,268.2" fill="#8bdbcf"/>
<polygon points="383.6,268.2 385.8,266.7 385.2,265 383,266.6" fill="#80d9cc"/>
<polygon points="383,266.6 385.2,265 384.6,263.3 382.5,264.9" fill="#76d7c8"/>
<polygon points="382.5,264.9 384.6,263.3 384,261.6 381.9,263.3" fill="#70d6c7"/>
<polygon points="381.9,263.3 384,261.6 383.4,259.8 381.3,261.6" fill="#70d6c7"/>
<polygon points="381.3,261.6 383.4,259.8 382.8,258.1 380.8,259.9" fill="#70d6c7"/>
<polygon points="380.8,259.9 382.8,258.1 382.2,256.4 380.2,258.3" fill="#70d6c7"/>
<polygon points="380.2,258.3 382.2,256.4 381.6,254.7 379.6,256.6" fill="#70d6c7"/>
<polygon points="379.6,256.6 381.6,254.7 381,253 379.1,254.9" fill="#70d6c7"/>
<polygon points="379.1,254.9 381,253 380.4,251.3 378.5,253.3" fill="#70d6c7"/>
<polygon points="378.5,253.3 380.4,251.3 379.8,249.5 377.9,251.6" fill="#70d6c7"/>
<polygon points="393.1,287.3 395.7,286.1 395,284.4 392.5,285.6" fill="#d8eae6"/>
<polygon points="392.5,285.6 395,284.4 394.4,282.6 391.9,283.8" fill="#d8eae6"/>
<polygon points="391.9,283.8 394.4,282.6 393.8,280.9 391.3,282.1" fill="#d8eae6"/>
<polygon points="391.3,282.1 393.8,280.9 393.1,279.1 390.7,280.4" fill="#d8eae6"/>
<polygon points="390.7,280.4 393.1,279.1 392.5,277.3 390.1,278.7" fill="#d2e9e5"/>
<polygon points="390.1,278.7 392.5,277.3 391.8,275.6 389.5,277" fill="#c8e7e2"/>
<polygon points="389.5,277 391.8,275.6 391.2,273.8 388.9,275.3" fill="#bde5de"/>
<polygon points="388.9,275.3 391.2,273.8 390.6,272.1 388.3,273.6" fill="#b3e3db"/>
<polygon points="388.3,273.6 390.6,272.1 389.9,270.3 387.7,271.8" fill="#a9e1d8"/>
<polygon points="387.7,271.8 389.9,270.3 389.3,268.6 387.1,270.1" fill="#9edfd5"/>
<polygon points="387.1,270.1 389.3,268.6 388.7,266.8 386.5,268.4" fill="#94ddd2"/>
<polygon points="386.5,268.4 388.7,266.8 388,265.1 385.8,266.7" fill="#89dbce"/>
<polygon points="385.8,266.7 388,265.1 387.4,263.3 385.2,265" fill="#7fd9cb"/>
<polygon points="385.2,265 387.4,263.3 386.7,261.6 384.6,263.3" fill="#75d7c8"/>
<polygon points="384.6,263.3 386.7,261.6 386.1,259.8 384,261.6" fill="#70d6c7"/>
<polygon points="384,261.6 386.1,259.8 385.5,258.1 383.4,259.8" fill="#70d6c7"/>
<polygon points="383.4,259.8 385.5,258.1 384.8,256.3 382.8,258.1" fill="#70d6c7"/>
<polygon points="382.8,258.1 384.8,256.3 384.2,254.5 382.2,256.4" fill="#70d6c7"/>
<polygon points="382.2,256.4 384.2,254.5 383.6,252.8 381.6,254.7" fill="#70d6c7"/>
<polygon points="381.6,254.7 383.6,252.8 382.9,251 381,253" fill="#70d6c7"/>
<polygon points="381,253 382.9,251 382.3,249.3 380.4,251.3" fill="#70d6c7"/>
<polygon points="380.4,251.3 382.3,249.3 381.7,247.5 379.8,249.5" fill="#70d6c7"/>
<polygon points="395.7,286.1 398.2,284.6 397.5,282.8 395,284.4" fill="#d6e9e6"/>
<polygon points="395,284.4 397.5,282.8 396.9,281 394.4,282.6" fill="#d6e9e6"/>
<polygon points="394.4,282.6 396.9,281 396.2,279.3 393.8,280.9" fill="#d6e9e6"/>
<polygon points="393.8,280.9 396.2,279.3 395.5,277.5 393.1,279.1" fill="#d6e9e6"/>
<polygon points="393.1,279.1 395.5,277.5 394.9,275.7 392.5,277.3" fill="#d1e8e4"/>
<polygon points="392.5,277.3 394.9,275.7 394.2,273.9 391.8,275.6" fill="#c6e6e1"/>
<polygon points="391.8,275.6 394.2,273.9 393.5,272.2 391.2,273.8" fill="#bce4de"/>
<polygon points="391.2,273.8 393.5,272.2 392.9,270.4 390.6,272.1" fill="#b2e2db"/>
<polygon points="390.6,272.1 392.9,270.4 392.2,268.6 389.9,270.3" fill="#a7e0d8"/>
<polygon points="389.9,270.3 392.2,268.6 391.5,266.8 389.3,268.6" fill="#9dded4"/>
<polygon points="389.3,268.6 391.5,266.8 390.9,265.1 388.7,266.8" fill="#93dcd1"/>
<polygon points="388.7,266.8 390.9,265.1 390.2,263.3 388,265.1" fill="#88dace"/>
<polygon points="388,265.1 390.2,263.3 389.5,261.5 387.4,263.3" fill="#7ed8cb"/>
<polygon points="387.4,263.3 389.5,261.5 388.9,259.8 386.7,261.6" fill="#74d6c8"/>
<polygon points="386.7,261.6 388.9,259.8 388.2,258 386.1,259.8" fill="#70d6c7"/>
<polygon points="386.1,259.8 388.2,258 387.5,256.2 385.5,258.1" fill="#70d6c7"/>
<polygon points="385.5,258.1 387.5,256.2 386.9,254.4 384.8,256.3" fill="#70d6c7"/>
<polygon points="384.8,256.3 386.9,254.4 386.2,252.7 384.2,254.5" fill="#70d6c7"/>
<polygon points="384.2,254.5 386.2,252.7 385.5,250.9 383.6,252.8" fill="#70d6c7"/>
<polygon points="383.6,252.8 385.5,250.9 384.9,249.1 382.9,251" fill="#70d6c7"/>
<polygon points="382.9,251 384.9,249.1 384.2,247.3 382.3,249.3" fill="#70d6c7"/>
<polygon points="382.3,249.3 384.2,247.3 383.5,245.6 381.7,247.5" fill="#70d6c7"/>
<polygon points="398.2,284.6 400.6,282.8 399.9,281 397.5,282.8" fill="#d5e9e6"/>
<polygon points="397.5,282.8 399.9,281 399.2,279.3 396.9,281" fill="#d5e9e6"/>
<polygon points="396.9,281 399.2,279.3 398.5,277.5 396.2,279.3" fill="#d5e9e6"/>
<polygon points="396.2,279.3 398.5,277.5 397.8,275.7 395.5,277.5" fill="#d5e9e6"/>
<polygon points="395.5,277.5 397.8,275.7 397.1,273.9 394.9,275.7" fill="#d0e8e4"/>
<polygon points="394.9,275.7 397.1,273.9 396.4,272.1 394.2,273.9" fill="#c5e6e1"/>
<polygon points="394.2,273.9 396.4,272.1 395.7,270.3 393.5,272.2" fill="#bbe4de"/>
<polygon points="393.5,272.2 395.7,270.3 395,268.6 392.9,270.4" fill="#b0e2da"/>
<polygon points="392.9,270.4 395,268.6 394.4,266.8 392.2,268.6" fill="#a6e0d7"/>
<polygon points="392.2,268.6 394.4,266.8 393.7,265 391.5,266.8" fill="#9cded4"/>
<polygon points="391.5,266.8 393.7,265 393,263.2 390.9,265.1" fill="#91dcd1"/>
<polygon points="390.9,265.1 393,263.2 392.3,261.4 390.2,263.3" fill="#87dace"/>
<polygon points="390.2,263.3 392.3,261.4 391.6,259.6 389.5,261.5" fill="#7dd8cb"/>
<polygon points="389.5,261.5 391.6,259.6 390.9,257.8 388.9,259.8" fill="#72d6c7"/>
<polygon points="388.9,259.8 390.9,257.8 390.2,256.1 388.2,258" fill="#70d6c7"/>
<polygon points="388.2,258 390.2,256.1 389.5,254.3 387.5,256.2" fill="#70d6c7"/>
<polygon points="387.5,256.2 389.5,254.3 388.9,252.5 386.9,254.4" fill="#70d6c7"/>
<polygon points="386.9,254.4 388.9,252.5 388.2,250.7 386.2,252.7" fill="#70d6c7"/>
<polygon points="386.2,252.7 388.2,250.7 387.5,248.9 385.5,250.9" fill="#70d6c7"/>
<polygon points="385.5,250.9 387.5,248.9 386.8,247.1 384.9,249.1" fill="#70d6c7"/>
<polygon points="384.9,249.1 386.8,247.1 386.1,245.4 384.2,247.3" fill="#70d6c7"/>
<polygon points="384.2,247.3 386.1,245.4 385.4,243.6 383.5,245.6" fill="#70d6c7"/>
<polygon points="400.6,282.8 402.7,280.9 402,279.1 399.9,281" fill="#d4e9e5"/>
<polygon points="399.9,281 402,279.1 401.3,277.3 399.2,279.3" fill="#d4e9e5"/>
<polygon points="399.2,279.3 401.3,277.3 400.6,275.5 398.5,277.5" fill="#d4e9e5"/>
<polygon points="398.5,277.5 400.6,275.5 399.9,273.7 397.8,275.7" fill="#d4e9e5"/>
<polygon points="397.8,275.7 399.9,273.7 399.2,271.9 397.1,273.9" fill="#cee8e4"/>
<polygon points="397.1,273.9 399.2,271.9 398.5,270.1 396.4,272.1" fill="#c4e6e0"/>
<polygon points="396.4,272.1 398.5,270.1 397.8,268.3 395.7,270.3" fill="#b9e4dd"/>
<polygon points="395.7,270.3 397.8,268.3 397.1,266.6 395,268.6" fill="#afe2da"/>
<polygon points="395,268.6 397.1,266.6 396.5,264.8 394.4,266.8" fill="#a5e0d7"/>
<polygon points="394.4,266.8 396.5,264.8 395.8,263 393.7,265" fill="#9aded4"/>
<polygon points="393.7,265 395.8,263 395.1,261.2 393,263.2" fill="#90dcd0"/>
<polygon points="393,263.2 395.1,261.2 394.4,259.4 392.3,261.4" fill="#85dacd"/>
<polygon points="392.3,261.4 394.4,259.4 393.7,257.6 391.6,259.6" fill="#7bd8ca"/>
<polygon points="391.6,259.6 393.7,257.6 393,255.8 390.9,257.8" fill="#71d6c7"/>
<polygon points="390.9,257.8 393,255.8 392.3,254 390.2,256.1" fill="#70d6c7"/>
<polygon points="390.2,256.1 392.3,254 391.6,252.2 389.5,254.3" fill="#70d6c7"/>
<polygon points="389.5,254.3 391.6,252.2 390.9,250.4 388.9,252.5" fill="#70d6c7"/>
<polygon points="388.9,252.5 390.9,250.4 390.2,248.6 388.2,250.7" fill="#70d6c7"/>
<polygon points="388.2,250.7 390.2,248.6 389.5,246.8 387.5,248.9" fill="#70d6c7"/>
<polygon points="387.5,248.9 389.5,246.8 388.8,245 386.8,247.1" fill="#70d6c7"/>
<polygon points="386.8,247.1 388.8,245 388.1,243.2 386.1,245.4" fill="#70d6c7"/>
<polygon points="386.1,245.4 388.1,243.2 387.5,241.4 385.4,243.6" fill="#70d6c7"/>
<polygon points="402.7,280.9 404.6,278.9 403.9,277.1 402,279.1" fill="#d2e8e5"/>
<polygon points="402,279.1 403.9,277.1 403.2,275.3 401.3,277.3" fill="#d2e8e5"/>
<polygon points="401.3,277.3 403.2,275.3 402.5,273.5 400.6,275.5" fill="#d2e8e5"/>
<polygon points="400.6,275.5 402.5,273.5 401.9,271.7 399.9,273.7" fill="#d2e8e5"/>
<polygon points="399.9,273.7 401.9,271.7 401.2,269.9 399.2,271.9" fill="#cce7e3"/>
<polygon points="399.2,271.9 401.2,269.9 400.5,268.1 398.5,270.1" fill="#c2e5e0"/>
<polygon points="398.5,270.1 400.5,268.1 399.8,266.3 397.8,268.3" fill="#b8e3dd"/>
<polygon points="397.8,268.3 399.8,266.3 399.1,264.5 397.1,266.6" fill="#ade1d9"/>
<polygon points="397.1,266.6 399.1,264.5 398.4,262.7 396.5,264.8" fill="#a3dfd6"/>
<polygon points="396.5,264.8 398.4,262.7 397.8,260.9 395.8,263" fill="#99ddd3"/>
<polygon points="395.8,263 397.8,260.9 397.1,259.1 395.1,261.2" fill="#8edbd0"/>
<polygon points="395.1,261.2 397.1,259.1 396.4,257.3 394.4,259.4" fill="#84d9cd"/>
<polygon points="394.4,259.4 396.4,257.3 395.7,255.5 393.7,257.6" fill="#79d7ca"/>
<polygon points="393.7,257.6 395.7,255.5 395,253.7 393,255.8" fill="#70d6c7"/>
<polygon points="393,255.8 395,253.7 394.3,251.9 392.3,254" fill="#70d6c7"/>
<polygon points="392.3,254 394.3,251.9 393.7,250.1 391.6,252.2" fill="#70d6c7"/>
<polygon points="391.6,252.2 393.7,250.1 393,248.3 390.9,250.4" fill="#70d6c7"/>
<polygon points="390.9,250.4 393,248.3 392.3,246.5 390.2,248.6" fill="#70d6c7"/>
<polygon points="390.2,248.6 392.3,246.5 391.6,244.7 389.5,246.8" fill="#70d6c7"/>
<polygon points="389.5,246.8 391.6,244.7 390.9,242.9 388.8,245" fill="#70d6c7"/>
<polygon points="388.8,245 390.9,242.9 390.2,241.1 388.1,243.2" fill="#70d6c7"/>
<polygon points="388.1,243.2 390.2,241.1 389.5,239.3 387.5,241.4" fill="#70d6c7"/>
<polygon points="404.6,278.9 406.3,276.5 405.7,274.8 403.9,277.1" fill="#d0e8e4"/>
<polygon points="403.9,277.1 405.7,274.8 405,273 403.2,275.3" fill="#d0e8e4"/>
<polygon points="403.2,275.3 405,273 404.3,271.2 402.5,273.5" fill="#d0e8e4"/>
<polygon points="402.5,273.5 404.3,271.2 403.6,269.4 401.9,271.7" fill="#d0e8e4"/>
<polygon points="401.9,271.7 403.6,269.4 403,267.6 401.2,269.9" fill="#cae7e2"/>
<polygon points="401.2,269.9 403,267.6 402.3,265.8 400.5,268.1" fill="#c0e5df"/>
<polygon points="400.5,268.1 402.3,265.8 401.6,264.1 399.8,266.3" fill="#b6e3dc"/>
<polygon points="399.8,266.3 401.6,264.1 401,262.3 399.1,264.5" fill="#abe1d9"/>
<polygon points="399.1,264.5 401,262.3 400.3,260.5 398.4,262.7" fill="#a1dfd6"/>
<polygon points="398.4,262.7 400.3,260.5 399.6,258.7 397.8,260.9" fill="#97ddd3"/>
<polygon points="397.8,260.9 399.6,258.7 399,256.9 397.1,259.1" fill="#8cdbcf"/>
<polygon points="397.1,259.1 399,256.9 398.3,255.1 396.4,257.3" fill="#82d9cc"/>
<polygon points="396.4,257.3 398.3,255.1 397.6,253.3 395.7,255.5" fill="#78d7c9"/>
<polygon points="395.7,255.5 397.6,253.3 396.9,251.6 395,253.7" fill="#70d6c7"/>
<polygon points="395,253.7 396.9,251.6 396.3,249.8 394.3,251.9" fill="#70d6c7"/>
<polygon points="394.3,251.9 396.3,249.8 395.6,248 393.7,250.1" fill="#70d6c7"/>
<polygon points="393.7,250.1 395.6,248 394.9,246.2 393,248.3" fill="#70d6c7"/>
<polygon points="393,248.3 394.9,246.2 394.3,244.4 392.3,246.5" fill="#70d6c7"/>
<polygon points="392.3,246.5 394.3,244.4 393.6,242.6 391.6,244.7" fill="#70d6c7"/>
<polygon points="391.6,244.7 393.6,242.6 392.9,240.8 390.9,242.9" fill="#70d6c7"/>
<polygon points="390.9,242.9 392.9,240.8 392.3,239.1 390.2,241.1" fill="#70d6c7"/>
<polygon points="390.2,241.1 392.3,239.1 391.6,237.3 389.5,239.3" fill="#70d6c7"/>
<polygon points="406.3,276.5 407.7,274 407.1,272.2 405.7,274.8" fill="#cee8e3"/>
<polygon points="405.7,274.8 407.1,272.2 406.4,270.5 405,273" fill="#cee8e3"/>
<polygon points="405,273 406.4,270.5 405.8,268.7 404.3,271.2" fill="#cee8e3"/>
<polygon points="404.3,271.2 405.8,268.7 405.2,267 403.6,269.4" fill="#cee8e3"/>
<polygon points="403.6,269.4 405.2,267 404.5,265.2 403,267.6" fill="#c8e7e2"/>
<polygon points="403,267.6 404.5,265.2 403.9,263.5 402.3,265.8" fill="#bee5df"/>
<polygon points="402.3,265.8 403.9,263.5 403.2,261.7 401.6,264.1" fill="#b4e3db"/>
<polygon points="401.6,264.1 403.2,261.7 402.6,260 401,262.3" fill="#a9e1d8"/>
<polygon points="401,262.3 402.6,260 401.9,258.2 400.3,260.5" fill="#9fdfd5"/>
<polygon points="400.3,260.5 401.9,258.2 401.3,256.5 399.6,258.7" fill="#95ddd2"/>
<polygon points="399.6,258.7 401.3,256.5 400.6,254.7 399,256.9" fill="#8adbcf"/>
<polygon points="399,256.9 400.6,254.7 400,252.9 398.3,255.1" fill="#80d9cc"/>
<polygon points="398.3,255.1 400,252.9 399.3,251.2 397.6,253.3" fill="#75d7c8"/>
<polygon points="397.6,253.3 399.3,251.2 398.7,249.4 396.9,251.6" fill="#70d6c7"/>
<polygon points="396.9,251.6 398.7,249.4 398,247.7 396.3,249.8" fill="#70d6c7"/>
<polygon points="396.3,249.8 398,247.7 397.4,245.9 395.6,248" fill="#70d6c7"/>
<polygon points="395.6,248 397.4,245.9 396.7,244.2 394.9,246.2" fill="#70d6c7"/>
<polygon points="394.9,246.2 396.7,244.2 396.1,242.4 394.3,244.4" fill="#70d6c7"/>
<polygon points="394.3,244.4 396.1,242.4 395.4,240.7 393.6,242.6" fill="#70d6c7"/>
<polygon points="393.6,242.6 395.4,240.7 394.8,238.9 392.9,240.8" fill="#70d6c7"/>
<polygon points="392.9,240.8 394.8,238.9 394.1,237.2 392.3,239.1" fill="#70d6c7"/>
<polygon points="392.3,239.1 394.1,237.2 393.5,235.4 391.6,237.3" fill="#70d6c7"/>
<polygon points="407.7,274 409,271.3 408.3,269.6 407.1,272.2" fill="#cce7e3"/>
<polygon points="407.1,272.2 408.3,269.6 407.7,267.9 406.4,270.5" fill="#cce7e3"/>
<polygon points="406.4,270.5 407.7,267.9 407.1,266.2 405.8,268.7" fill="#cce7e3"/>
<polygon points="405.8,268.7 407.1,266.2 406.5,264.5 405.2,267" fill="#cce7e3"/>
<polygon points="405.2,267 406.5,264.5 405.9,262.8 404.5,265.2" fill="#c6e6e1"/>
<polygon points="404.5,265.2 405.9,262.8 405.2,261.1 403.9,263.5" fill="#bce4de"/>
<polygon points="403.9,263.5 405.2,261.1 404.6,259.4 403.2,261.7" fill="#b1e2db"/>
<polygon points="403.2,261.7 404.6,259.4 404,257.7 402.6,260" fill="#a7e0d8"/>
<polygon points="402.6,260 404,257.7 403.4,255.9 401.9,258.2" fill="#9dded4"/>
<polygon points="401.9,258.2 403.4,255.9 402.8,254.2 401.3,256.5" fill="#92dcd1"/>
<polygon points="401.3,256.5 402.8,254.2 402.1,252.5 400.6,254.7" fill="#88dace"/>
<polygon points="400.6,254.7 402.1,252.5 401.5,250.8 400,252.9" fill="#7ed8cb"/>
<polygon points="400,252.9 401.5,250.8 400.9,249.1 399.3,251.2" fill="#73d6c8"/>
<polygon points="399.3,251.2 400.9,249.1 400.3,247.4 398.7,249.4" fill="#70d6c7"/>
<polygon points="398.7,249.4 400.3,247.4 399.7,245.7 398,247.7" fill="#70d6c7"/>
<polygon points="398,247.7 399.7,245.7 399,244 397.4,245.9" fill="#70d6c7"/>
<polygon points="397.4,245.9 399,244 398.4,242.3 396.7,244.2" fill="#70d6c7"/>
<polygon points="396.7,244.2 398.4,242.3 397.8,240.5 396.1,242.4" fill="#70d6c7"/>
<polygon points="396.1,242.4 397.8,240.5 397.2,238.8 395.4,240.7" fill="#70d6c7"/>
<polygon points="395.4,240.7 397.2,238.8 396.6,237.1 394.8,238.9" fill="#70d6c7"/>
<polygon points="394.8,238.9 396.6,237.1 395.9,235.4 394.1,237.2" fill="#70d6c7"/>
<polygon points="394.1,237.2 395.9,235.4 395.3,233.7 393.5,235.4" fill="#70d6c7"/>
<polygon points="409,271.3 410.1,268.8 409.6,267.1 408.3,269.6" fill="#c9e7e2"/>
<polygon points="408.3,269.6 409.6,267.1 409,265.4 407.7,267.9" fill="#c9e7e2"/>
<polygon points="407.7,267.9 409,265.4 408.4,263.7 407.1,266.2" fill="#c9e7e2"/>
<polygon points="407.1,266.2 408.4,263.7 407.9,262 406.5,264.5" fill="#c9e7e2"/>
<polygon points="406.5,264.5 407.9,262 407.3,260.3 405.9,262.8" fill="#c4e6e0"/>
<polygon points="405.9,262.8 407.3,260.3 406.7,258.6 405.2,261.1" fill="#b9e4dd"/>
<polygon points="405.2,261.1 406.7,258.6 406.2,256.9 404.6,259.4" fill="#afe2da"/>
<polygon points="404.6,259.4 406.2,256.9 405.6,255.2 404,257.7" fill="#a4e0d7"/>
<polygon points="404,257.7 405.6,255.2 405,253.5 403.4,255.9" fill="#9aded4"/>
<polygon points="403.4,255.9 405,253.5 404.5,251.8 402.8,254.2" fill="#90dcd0"/>
<polygon points="402.8,254.2 404.5,251.8 403.9,250.1 402.1,252.5" fill="#85dacd"/>
<polygon points="402.1,252.5 403.9,250.1 403.3,248.4 401.5,250.8" fill="#7bd8ca"/>
<polygon points="401.5,250.8 403.3,248.4 402.8,246.8 400.9,249.1" fill="#71d6c7"/>
<polygon points="400.9,249.1 402.8,246.8 402.2,245.1 400.3,247.4" fill="#70d6c7"/>
<polygon points="400.3,247.4 402.2,245.1 401.6,243.4 399.7,245.7" fill="#70d6c7"/>
<polygon points="399.7,245.7 401.6,243.4 401.1,241.7 399,244" fill="#70d6c7"/>
<polygon points="399,244 401.1,241.7 400.5,240 398.4,242.3" fill="#70d6c7"/>
<polygon points="398.4,242.3 400.5,240 399.9,238.3 397.8,240.5" fill="#70d6c7"/>
<polygon points="397.8,240.5 399.9,238.3 399.4,236.6 397.2,238.8" fill="#70d6c7"/>
<polygon points="397.2,238.8 399.4,236.6 398.8,234.9 396.6,237.1" fill="#70d6c7"/>
<polygon points="396.6,237.1 398.8,234.9 398.2,233.2 395.9,235.4" fill="#70d6c7"/>
<polygon points="395.9,235.4 398.2,233.2 397.7,231.5 395.3,233.7" fill="#70d6c7"/>
<polygon points="410.1,268.8 411.4,266.1 410.9,264.5 409.6,267.1" fill="#c6e6e1"/>
<polygon points="409.6,267.1 410.9,264.5 410.3,262.9 409,265.4" fill="#c6e6e1"/>
<polygon points="409,265.4 410.3,262.9 409.8,261.2 408.4,263.7" fill="#c6e6e1"/>
<polygon points="408.4,263.7 409.8,261.2 409.3,259.6 407.9,262" fill="#c6e6e1"/>
<polygon points="407.9,262 409.3,259.6 408.7,257.9 407.3,260.3" fill="#c1e5df"/>
<polygon points="407.3,260.3 408.7,257.9 408.2,256.3 406.7,258.6" fill="#b6e3dc"/>
<polygon points="406.7,258.6 408.2,256.3 407.6,254.6 406.2,256.9" fill="#ace1d9"/>
<polygon points="406.2,256.9 407.6,254.6 407.1,253 405.6,255.2" fill="#a2dfd6"/>
<polygon points="405.6,255.2 407.1,253 406.6,251.3 405,253.5" fill="#97ddd3"/>
<polygon points="405,253.5 406.6,251.3 406,249.7 404.5,251.8" fill="#8ddbd0"/>
<polygon points="404.5,251.8 406,249.7 405.5,248.1 403.9,250.1" fill="#83d9cc"/>
<polygon points="403.9,250.1 405.5,248.1 405,246.4 403.3,248.4" fill="#78d7c9"/>
<polygon points="403.3,248.4 405,246.4 404.4,244.8 402.8,246.8" fill="#70d6c7"/>
<polygon points="402.8,246.8 404.4,244.8 403.9,243.1 402.2,245.1" fill="#70d6c7"/>
<polygon points="402.2,245.1 403.9,243.1 403.4,241.5 401.6,243.4" fill="#70d6c7"/>
<polygon points="401.6,243.4 403.4,241.5 402.8,239.8 401.1,241.7" fill="#70d6c7"/>
<polygon points="401.1,241.7 402.8,239.8 402.3,238.2 400.5,240" fill="#70d6c7"/>
<polygon points="400.5,240 402.3,238.2 401.7,236.5 399.9,238.3" fill="#70d6c7"/>
<polygon points="399.9,238.3 401.7,236.5 401.2,234.9 399.4,236.6" fill="#70d6c7"/>
<polygon points="399.4,236.6 401.2,234.9 400.7,233.2 398.8,234.9" fill="#70d6c7"/>
<polygon points="398.8,234.9 400.7,233.2 400.1,231.6 398.2,233.2" fill="#70d6c7"/>
<polygon points="398.2,233.2 400.1,231.6 399.6,230 397.7,231.5" fill="#70d6c7"/>
<polygon points="411.4,266.1 412.6,263.5 412.1,262 410.9,264.5" fill="#c3e6e0"/>
<polygon points="410.9,264.5 412.1,262 411.6,260.4 410.3,262.9" fill="#c3e6e0"/>
<polygon points="410.3,262.9 411.6,260.4 411.2,258.8 409.8,261.2" fill="#c3e6e0"/>
<polygon points="409.8,261.2 411.2,258.8 410.7,257.2 409.3,259.6" fill="#c3e6e0"/>
<polygon points="409.3,259.6 410.7,257.2 410.2,255.6 408.7,257.9" fill="#bee5df"/>
<polygon points="408.7,257.9 410.2,255.6 409.7,254.1 408.2,256.3" fill="#b3e3db"/>
<polygon points="408.2,256.3 409.7,254.1 409.2,252.5 407.6,254.6" fill="#a9e1d8"/>
<polygon points="407.6,254.6 409.2,252.5 408.7,250.9 407.1,253" fill="#9fdfd5"/>
<polygon points="407.1,253 408.7,250.9 408.2,249.3 406.6,251.3" fill="#94ddd2"/>
<polygon points="406.6,251.3 408.2,249.3 407.7,247.8 406,249.7" fill="#8adbcf"/>
<polygon points="406,249.7 407.7,247.8 407.3,246.2 405.5,248.1" fill="#80d9cb"/>
<polygon points="405.5,248.1 407.3,246.2 406.8,244.6 405,246.4" fill="#75d7c8"/>
<polygon points="405,246.4 406.8,244.6 406.3,243 404.4,244.8" fill="#70d6c7"/>
<polygon points="404.4,244.8 406.3,243 405.8,241.5 403.9,243.1" fill="#70d6c7"/>
<polygon points="403.9,243.1 405.8,241.5 405.3,239.9 403.4,241.5" fill="#70d6c7"/>
<polygon points="403.4,241.5 405.3,239.9 404.8,238.3 402.8,239.8" fill="#70d6c7"/>
<polygon points="402.8,239.8 404.8,238.3 404.3,236.7 402.3,238.2" fill="#70d6c7"/>
<polygon points="402.3,238.2 404.3,236.7 403.9,235.1 401.7,236.5" fill="#70d6c7"/>
<polygon points="401.7,236.5 403.9,235.1 403.4,233.6 401.2,234.9" fill="#70d6c7"/>
<polygon points="401.2,234.9 403.4,233.6 402.9,232 400.7,233.2" fill="#70d6c7"/>
<polygon points="400.7,233.2 402.9,232 402.4,230.4 400.1,231.6" fill="#70d6c7"/>
<polygon points="400.1,231.6 402.4,230.4 401.9,228.8 399.6,230" fill="#70d6c7"/>
<polygon points="412.6,263.5 413.8,261 413.3,259.5 412.1,262" fill="#c0e5df"/>
<polygon points="412.1,262 413.3,259.5 412.9,258 411.6,260.4" fill="#c0e5df"/>
<polygon points="411.6,260.4 412.9,258 412.5,256.5 411.2,258.8" fill="#c0e5df"/>
<polygon points="411.2,258.8 412.5,256.5 412.1,255 410.7,257.2" fill="#c0e5df"/>
<polygon points="410.7,257.2 412.1,255 411.7,253.5 410.2,255.6" fill="#bae4de"/>
<polygon points="410.2,255.6 411.7,253.5 411.3,252 409.7,254.1" fill="#b0e2da"/>
<polygon points="409.7,254.1 411.3,252 410.9,250.5 409.2,252.5" fill="#a6e0d7"/>
<polygon points="409.2,252.5 410.9,250.5 410.4,249.1 408.7,250.9" fill="#9bded4"/>
<polygon points="408.7,250.9 410.4,249.1 410,247.6 408.2,249.3" fill="#91dcd1"/>
<polygon points="408.2,249.3 410,247.6 409.6,246.1 407.7,247.8" fill="#87dace"/>
<polygon points="407.7,247.8 409.6,246.1 409.2,244.6 407.3,246.2" fill="#7cd8ca"/>
<polygon points="407.3,246.2 409.2,244.6 408.8,243.1 406.8,244.6" fill="#72d6c7"/>
<polygon points="406.8,244.6 408.8,243.1 408.4,241.6 406.3,243" fill="#70d6c7"/>
<polygon points="406.3,243 408.4,241.6 408,240.1 405.8,241.5" fill="#70d6c7"/>
<polygon points="405.8,241.5 408,240.1 407.5,238.6 405.3,239.9" fill="#70d6c7"/>
<polygon points="405.3,239.9 407.5,238.6 407.1,237.2 404.8,238.3" fill="#70d6c7"/>
<polygon points="404.8,238.3 407.1,237.2 406.7,235.7 404.3,236.7" fill="#70d6c7"/>
<polygon points="404.3,236.7 406.7,235.7 406.3,234.2 403.9,235.1" fill="#70d6c7"/>
<polygon points="403.9,235.1 406.3,234.2 405.9,232.7 403.4,233.6" fill="#70d6c7"/>
<polygon points="403.4,233.6 405.9,232.7 405.5,231.2 402.9,232" fill="#70d6c7"/>
<polygon points="402.9,232 405.5,231.2 405.1,229.7 402.4,230.4" fill="#70d6c7"/>
<polygon points="402.4,230.4 405.1,229.7 404.6,228.2 401.9,228.8" fill="#70d6c7"/>
<polygon points="413.8,261 414.9,258.4 414.5,257 413.3,259.5" fill="#bde4de"/>
<polygon points="413.3,259.5 414.5,257 414.2,255.6 412.9,258" fill="#bde4de"/>
<polygon points="412.9,258 414.2,255.6 413.8,254.2 412.5,256.5" fill="#bde4de"/>
<polygon points="412.5,256.5 413.8,254.2 413.5,252.9 412.1,255" fill="#bde4de"/>
<polygon points="412.1,255 413.5,252.9 413.2,251.5 411.7,253.5" fill="#b7e3dc"/>
<polygon points="411.7,253.5 413.2,251.5 412.8,250.1 411.3,252" fill="#ade1d9"/>
<polygon points="411.3,252 412.8,250.1 412.5,248.8 410.9,250.5" fill="#a2dfd6"/>
<polygon points="410.9,250.5 412.5,248.8 412.2,247.4 410.4,249.1" fill="#98ddd3"/>
<polygon points="410.4,249.1 412.2,247.4 411.8,246 410,247.6" fill="#8edbd0"/>
<polygon points="410,247.6 411.8,246 411.5,244.6 409.6,246.1" fill="#83d9cd"/>
<polygon points="409.6,246.1 411.5,244.6 411.2,243.3 409.2,244.6" fill="#79d7c9"/>
<polygon points="409.2,244.6 411.2,243.3 410.8,241.9 408.8,243.1" fill="#70d6c7"/>
<polygon points="408.8,243.1 410.8,241.9 410.5,240.5 408.4,241.6" fill="#70d6c7"/>
<polygon points="408.4,241.6 410.5,240.5 410.1,239.1 408,240.1" fill="#70d6c7"/>
<polygon points="408,240.1 410.1,239.1 409.8,237.8 407.5,238.6" fill="#70d6c7"/>
<polygon points="407.5,238.6 409.8,237.8 409.5,236.4 407.1,237.2" fill="#70d6c7"/>
<polygon points="407.1,237.2 409.5,236.4 409.1,235 406.7,235.7" fill="#70d6c7"/>
<polygon points="406.7,235.7 409.1,235 408.8,233.6 406.3,234.2" fill="#70d6c7"/>
<polygon points="406.3,234.2 408.8,233.6 408.5,232.3 405.9,232.7" fill="#70d6c7"/>
<polygon points="405.9,232.7 408.5,232.3 408.1,230.9 405.5,231.2" fill="#70d6c7"/>
<polygon points="405.5,231.2 408.1,230.9 407.8,229.5 405.1,229.7" fill="#70d6c7"/>
<polygon points="405.1,229.7 407.8,229.5 407.5,228.2 404.6,228.2" fill="#70d6c7"/>
<polygon points="414.9,258.4 416,255.7 415.7,254.5 414.5,257" fill="#b9e4dd"/>
<polygon points="414.5,257 415.7,254.5 415.4,253.2 414.2,255.6" fill="#b9e4dd"/>
<polygon points="414.2,255.6 415.4,253.2 415.2,252 413.8,254.2" fill="#b9e4dd"/>
<polygon points="413.8,254.2 415.2,252 414.9,250.8 413.5,252.9" fill="#b9e4dd"/>
<polygon points="413.5,252.9 414.9,250.8 414.6,249.5 413.2,251.5" fill="#b3e3db"/>
<polygon points="413.2,251.5 414.6,249.5 414.4,248.3 412.8,250.1" fill="#a9e1d8"/>
<polygon points="412.8,250.1 414.4,248.3 414.1,247.1 412.5,248.8" fill="#9edfd5"/>
<polygon points="412.5,248.8 414.1,247.1 413.9,245.8 412.2,247.4" fill="#94ddd2"/>
<polygon points="412.2,247.4 413.9,245.8 413.6,244.6 411.8,246" fill="#8adbcf"/>
<polygon points="411.8,246 413.6,244.6 413.3,243.4 411.5,244.6" fill="#7fd9cb"/>
<polygon points="411.5,244.6 413.3,243.4 413.1,242.1 411.2,243.3" fill="#75d7c8"/>
<polygon points="411.2,243.3 413.1,242.1 412.8,240.9 410.8,241.9" fill="#70d6c7"/>
<polygon points="410.8,241.9 412.8,240.9 412.6,239.7 410.5,240.5" fill="#70d6c7"/>
<polygon points="410.5,240.5 412.6,239.7 412.3,238.4 410.1,239.1" fill="#70d6c7"/>
<polygon points="410.1,239.1 412.3,238.4 412,237.2 409.8,237.8" fill="#70d6c7"/>
<polygon points="409.8,237.8 412,237.2 411.8,236 409.5,236.4" fill="#70d6c7"/>
<polygon points="409.5,236.4 411.8,236 411.5,234.8 409.1,235" fill="#70d6c7"/>
<polygon points="409.1,235 411.5,234.8 411.2,233.5 408.8,233.6" fill="#70d6c7"/>
<polygon points="408.8,233.6 411.2,233.5 411,232.3 408.5,232.3" fill="#70d6c7"/>
<polygon points="408.5,232.3 411,232.3 410.7,231.1 408.1,230.9" fill="#70d6c7"/>
<polygon points="408.1,230.9 410.7,231.1 410.5,229.8 407.8,229.5" fill="#70d6c7"/>
<polygon points="407.8,229.5 410.5,229.8 410.2,228.6 407.5,228.2" fill="#70d6c7"/>
<polygon points="416,255.7 417,253 416.8,251.9 415.7,254.5" fill="#b5e3dc"/>
<polygon points="415.7,254.5 416.8,251.9 416.6,250.9 415.4,253.2" fill="#b5e3dc"/>
<polygon points="415.4,253.2 416.6,250.9 416.4,249.8 415.2,252" fill="#b5e3dc"/>
<polygon points="415.2,252 416.4,249.8 416.3,248.7 414.9,250.8" fill="#b5e3dc"/>
<polygon points="414.9,250.8 416.3,248.7 416.1,247.7 414.6,249.5" fill="#afe2da"/>
<polygon points="414.6,249.5 416.1,247.7 415.9,246.6 414.4,248.3" fill="#a5e0d7"/>
<polygon points="414.4,248.3 415.9,246.6 415.7,245.5 414.1,247.1" fill="#9aded4"/>
<polygon points="414.1,247.1 415.7,245.5 415.5,244.5 413.9,245.8" fill="#90dcd0"/>
<polygon points="413.9,245.8 415.5,244.5 415.3,243.4 413.6,244.6" fill="#86dacd"/>
<polygon points="413.6,244.6 415.3,243.4 415.2,242.3 413.3,243.4" fill="#7bd8ca"/>
<polygon points="413.3,243.4 415.2,242.3 415,241.3 413.1,242.1" fill="#71d6c7"/>
<polygon points="413.1,242.1 415,241.3 414.8,240.2 412.8,240.9" fill="#70d6c7"/>
<polygon points="412.8,240.9 414.8,240.2 414.6,239.1 412.6,239.7" fill="#70d6c7"/>
<polygon points="412.6,239.7 414.6,239.1 414.4,238.1 412.3,238.4" fill="#70d6c7"/>
<polygon points="412.3,238.4 414.4,238.1 414.2,237 412,237.2" fill="#70d6c7"/>
<polygon points="412,237.2 414.2,237 414,235.9 411.8,236" fill="#70d6c7"/>
<polygon points="411.8,236 414,235.9 413.9,234.9 411.5,234.8" fill="#70d6c7"/>
<polygon points="411.5,234.8 413.9,234.9 413.7,233.8 411.2,233.5" fill="#70d6c7"/>
<polygon points="411.2,233.5 413.7,233.8 413.5,232.7 411,232.3" fill="#70d6c7"/>
<polygon points="411,232.3 413.5,232.7 413.3,231.7 410.7,231.1" fill="#70d6c7"/>
<polygon points="410.7,231.1 413.3,231.7 413.1,230.6 410.5,229.8" fill="#70d6c7"/>
<polygon points="410.5,229.8 413.1,230.6 412.9,229.5 410.2,228.6" fill="#70d6c7"/>
<polygon points="417,253 418,250.3 417.9,249.4 416.8,251.9" fill="#b0e2da"/>
<polygon points="416.8,251.9 417.9,249.4 417.8,248.5 416.6,250.9" fill="#b0e2da"/>
<polygon points="416.6,250.9 417.8,248.5 417.7,247.7 416.4,249.8" fill="#b0e2da"/>
<polygon points="416.4,249.8 417.7,247.7 417.5,246.8 416.3,248.7" fill="#b0e2da"/>
<polygon points="416.3,248.7 417.5,246.8 417.4,245.9 416.1,247.7" fill="#abe1d9"/>
<polygon points="416.1,247.7 417.4,245.9 417.3,245 415.9,246.6" fill="#a0dfd5"/>
<polygon points="415.9,246.6 417.3,245 417.2,244.1 415.7,245.5" fill="#96ddd2"/>
<polygon points="415.7,245.5 417.2,244.1 417.1,243.2 415.5,244.5" fill="#8cdbcf"/>
<polygon points="415.5,244.5 417.1,243.2 416.9,242.3 415.3,243.4" fill="#81d9cc"/>
<polygon points="415.3,243.4 416.9,242.3 416.8,241.4 415.2,242.3" fill="#77d7c9"/>
<polygon points="415.2,242.3 416.8,241.4 416.7,240.5 415,241.3" fill="#70d6c7"/>
<polygon points="415,241.3 416.7,240.5 416.6,239.6 414.8,240.2" fill="#70d6c7"/>
<polygon points="414.8,240.2 416.6,239.6 416.5,238.7 414.6,239.1" fill="#70d6c7"/>
<polygon points="414.6,239.1 416.5,238.7 416.3,237.9 414.4,238.1" fill="#70d6c7"/>
<polygon points="414.4,238.1 416.3,237.9 416.2,237 414.2,237" fill="#70d6c7"/>
<polygon points="414.2,237 416.2,237 416.1,236.1 414,235.9" fill="#70d6c7"/>
<polygon points="414,235.9 416.1,236.1 416,235.2 413.9,234.9" fill="#70d6c7"/>
<polygon points="413.9,234.9 416,235.2 415.9,234.3 413.7,233.8" fill="#70d6c7"/>
<polygon points="413.7,233.8 415.9,234.3 415.7,233.4 413.5,232.7" fill="#70d6c7"/>
<polygon points="413.5,232.7 415.7,233.4 415.6,232.5 413.3,231.7" fill="#70d6c7"/>
<polygon points="413.3,231.7 415.6,232.5 415.5,231.6 413.1,230.6" fill="#70d6c7"/>
<polygon points="413.1,230.6 415.5,231.6 415.4,230.7 412.9,229.5" fill="#70d6c7"/>
<polygon points="418,250.3 419,247.6 418.9,246.9 417.9,249.4" fill="#ace1d9"/>
<polygon points="417.9,249.4 418.9,246.9 418.9,246.3 417.8,248.5" fill="#ace1d9"/>
<polygon points="417.8,248.5 418.9,246.3 418.8,245.6 417.7,247.7" fill="#ace1d9"/>
<polygon points="417.7,247.7 418.8,245.6 418.8,244.9 417.5,246.8" fill="#ace1d9"/>
<polygon points="417.5,246.8 418.8,244.9 418.7,244.2 417.4,245.9" fill="#a6e0d7"/>
<polygon points="417.4,245.9 418.7,244.2 418.6,243.5 417.3,245" fill="#9cded4"/>
<polygon points="417.3,245 418.6,243.5 418.6,242.8 417.2,244.1" fill="#91dcd1"/>
<polygon points="417.2,244.1 418.6,242.8 418.5,242.1 417.1,243.2" fill="#87dace"/>
<polygon points="417.1,243.2 418.5,242.1 418.5,241.4 416.9,242.3" fill="#7dd8ca"/>
<polygon points="416.9,242.3 418.5,241.4 418.4,240.7 416.8,241.4" fill="#72d6c7"/>
<polygon points="416.8,241.4 418.4,240.7 418.3,240 416.7,240.5" fill="#70d6c7"/>
<polygon points="416.7,240.5 418.3,240 418.3,239.4 416.6,239.6" fill="#70d6c7"/>
<polygon points="416.6,239.6 418.3,239.4 418.2,238.7 416.5,238.7" fill="#70d6c7"/>
<polygon points="416.5,238.7 418.2,238.7 418.2,238 416.3,237.9" fill="#70d6c7"/>
<polygon points="416.3,237.9 418.2,238 418.1,237.3 416.2,237" fill="#70d6c7"/>
<polygon points="416.2,237 418.1,237.3 418,236.6 416.1,236.1" fill="#70d6c7"/>
<polygon points="416.1,236.1 418,236.6 418,235.9 416,235.2" fill="#70d6c7"/>
<polygon points="416,235.2 418,235.9 417.9,235.2 415.9,234.3" fill="#70d6c7"/>
<polygon points="415.9,234.3 417.9,235.2 417.9,234.5 415.7,233.4" fill="#70d6c7"/>
<polygon points="415.7,233.4 417.9,234.5 417.8,233.8 415.6,232.5" fill="#70d6c7"/>
<polygon points="415.6,232.5 417.8,233.8 417.7,233.1 415.5,231.6" fill="#70d6c7"/>
<polygon points="415.5,231.6 417.7,233.1 417.7,232.5 415.4,230.7" fill="#70d6c7"/>
<polygon points="419,247.6 419.9,244.9 419.9,244.4 418.9,246.9" fill="#a7e0d7"/>
<polygon points="418.9,246.9 419.9,244.4 419.9,244 418.9,246.3" fill="#a7e0d7"/>
<polygon points="418.9,246.3 419.9,244 419.9,243.5 418.8,245.6" fill="#a7e0d7"/>
<polygon points="418.8,245.6 419.9,243.5 419.9,243 418.8,244.9" fill="#a7e0d7"/>
<polygon points="418.8,244.9 419.9,243 419.8,242.5 418.7,244.2" fill="#a1dfd6"/>
<polygon points="418.7,244.2 419.8,242.5 419.8,242.1 418.6,243.5" fill="#97ddd3"/>
<polygon points="418.6,243.5 419.8,242.1 419.8,241.6 418.6,242.8" fill="#8cdbcf"/>
<polygon points="418.6,242.8 419.8,241.6 419.8,241.1 418.5,242.1" fill="#82d9cc"/>
<polygon points="418.5,242.1 419.8,241.1 419.8,240.6 418.5,241.4" fill="#77d7c9"/>
<polygon points="418.5,241.4 419.8,240.6 419.7,240.2 418.4,240.7" fill="#70d6c7"/>
<polygon points="418.4,240.7 419.7,240.2 419.7,239.7 418.3,240" fill="#70d6c7"/>
<polygon points="418.3,240 419.7,239.7 419.7,239.2 418.3,239.4" fill="#70d6c7"/>
<polygon points="418.3,239.4 419.7,239.2 419.7,238.7 418.2,238.7" fill="#70d6c7"/>
<polygon points="418.2,238.7 419.7,238.7 419.6,238.3 418.2,238" fill="#70d6c7"/>
<polygon points="418.2,238 419.6,238.3 419.6,237.8 418.1,237.3" fill="#70d6c7"/>
<polygon points="418.1,237.3 419.6,237.8 419.6,237.3 418,236.6" fill="#70d6c7"/>
<polygon points="418,236.6 419.6,237.3 419.6,236.8 418,235.9" fill="#70d6c7"/>
<polygon points="418,235.9 419.6,236.8 419.6,236.4 417.9,235.2" fill="#70d6c7"/>
<polygon points="417.9,235.2 419.6,236.4 419.5,235.9 417.9,234.5" fill="#70d6c7"/>
<polygon points="417.9,234.5 419.5,235.9 419.5,235.4 417.8,233.8" fill="#70d6c7"/>
<polygon points="417.8,233.8 419.5,235.4 419.5,234.9 417.7,233.1" fill="#70d6c7"/>
<polygon points="417.7,233.1 419.5,234.9 419.5,234.5 417.7,232.5" fill="#70d6c7"/>
<polygon points="419.9,244.9 420.9,242.2 420.9,242 419.9,244.4" fill="#a1dfd6"/>
<polygon points="419.9,244.4 420.9,242 420.9,241.7 419.9,244" fill="#a1dfd6"/>
<polygon points="419.9,244 420.9,241.7 420.9,241.5 419.9,243.5" fill="#a1dfd6"/>
<polygon points="419.9,243.5 420.9,241.5 420.9,241.2 419.9,243" fill="#a1dfd6"/>
<polygon points="419.9,243 420.9,241.2 420.8,241 419.8,242.5" fill="#9cded4"/>
<polygon points="419.8,242.5 420.8,241 420.8,240.8 419.8,242.1" fill="#91dcd1"/>
<polygon points="419.8,242.1 420.8,240.8 420.8,240.5 419.8,241.6" fill="#87dace"/>
<polygon points="419.8,241.6 420.8,240.5 420.8,240.3 419.8,241.1" fill="#7dd8ca"/>
<polygon points="419.8,241.1 420.8,240.3 420.8,240 419.8,240.6" fill="#72d6c7"/>
<polygon points="419.8,240.6 420.8,240 420.8,239.8 419.7,240.2" fill="#70d6c7"/>
<polygon points="419.7,240.2 420.8,239.8 420.8,239.6 419.7,239.7" fill="#70d6c7"/>
<polygon points="419.7,239.7 420.8,239.6 420.8,239.3 419.7,239.2" fill="#70d6c7"/>
<polygon points="419.7,239.2 420.8,239.3 420.8,239.1 419.7,238.7" fill="#70d6c7"/>
<polygon points="419.7,238.7 420.8,239.1 420.8,238.8 419.6,238.3" fill="#70d6c7"/>
<polygon points="419.6,238.3 420.8,238.8 420.8,238.6 419.6,237.8" fill="#70d6c7"/>
<polygon points="419.6,237.8 420.8,238.6 420.8,238.4 419.6,237.3" fill="#70d6c7"/>
<polygon points="419.6,237.3 420.8,238.4 420.8,238.1 419.6,236.8" fill="#70d6c7"/>
<polygon points="419.6,236.8 420.8,238.1 420.8,237.9 419.6,236.4" fill="#70d6c7"/>
<polygon points="419.6,236.4 420.8,237.9 420.8,237.6 419.5,235.9" fill="#70d6c7"/>
<polygon points="419.5,235.9 420.8,237.6 420.8,237.4 419.5,235.4" fill="#70d6c7"/>
<polygon points="419.5,235.4 420.8,237.4 420.8,237.2 419.5,234.9" fill="#70d6c7"/>
<polygon points="419.5,234.9 420.8,237.2 420.8,236.9 419.5,234.5" fill="#70d6c7"/>
<polygon points="420.9,242.2 421.8,239.5 421.8,239.5 420.9,242" fill="#9cded4"/>
<polygon points="420.9,242 421.8,239.5 421.8,239.5 420.9,241.7" fill="#9cded4"/>
<polygon points="420.9,241.7 421.8,239.5 421.8,239.5 420.9,241.5" fill="#9cded4"/>
<polygon points="420.9,241.5 421.8,239.5 421.8,239.5 420.9,241.2" fill="#9cded4"/>
<polygon points="420.9,241.2 421.8,239.5 421.8,239.5 420.8,241" fill="#96ddd2"/>
<polygon points="420.8,241 421.8,239.5 421.8,239.5 420.8,240.8" fill="#8cdbcf"/>
<polygon points="420.8,240.8 421.8,239.5 421.8,239.5 420.8,240.5" fill="#81d9cc"/>
<polygon points="420.8,240.5 421.8,239.5 421.8,239.5 420.8,240.3" fill="#77d7c9"/>
<polygon points="420.8,240.3 421.8,239.5 421.8,239.5 420.8,240" fill="#70d6c7"/>
<polygon points="420.8,240 421.8,239.5 421.8,239.5 420.8,239.8" fill="#70d6c7"/>
<polygon points="420.8,239.8 421.8,239.5 421.8,239.5 420.8,239.6" fill="#70d6c7"/>
<polygon points="420.8,239.6 421.8,239.5 421.8,239.5 420.8,239.3" fill="#70d6c7"/>
<polygon points="420.8,239.3 421.8,239.5 421.8,239.5 420.8,239.1" fill="#70d6c7"/>
<polygon points="420.8,239.1 421.8,239.5 421.8,239.5 420.8,238.8" fill="#70d6c7"/>
<polygon points="420.8,238.8 421.8,239.5 421.8,239.5 420.8,238.6" fill="#70d6c7"/>
<polygon points="420.8,238.6 421.8,239.5 421.8,239.5 420.8,238.4" fill="#70d6c7"/>
<polygon points="420.8,238.4 421.8,239.5 421.8,239.5 420.8,238.1" fill="#70d6c7"/>
<polygon points="420.8,238.1 421.8,239.5 421.8,239.5 420.8,237.9" fill="#70d6c7"/>
<polygon points="420.8,237.9 421.8,239.5 421.8,239.5 420.8,237.6" fill="#70d6c7"/>
<polygon points="420.8,237.6 421.8,239.5 421.8,239.5 420.8,237.4" fill="#70d6c7"/>
<polygon points="420.8,237.4 421.8,239.5 421.8,239.5 420.8,237.2" fill="#70d6c7"/>
<polygon points="420.8,237.2 421.8,239.5 421.8,239.5 420.8,236.9" fill="#70d6c7"/>
</g>
<polyline points="359.5,277.5 361.3,275.1 363,272.7 364.9,270.1 366.8,267.5 368.6,265.1 370.6,262.5 372.6,259.8 374.6,257.3 376.6,254.8 378.7,252.4 380.8,250.1 382.9,247.8 385,245.5 387.3,243.2 389.6,240.7 392,238.4 394.1,236.3 396.3,234.1 398.8,232.1 401,230.4" fill="none" stroke="#5fd0bc" stroke-width="2.2" stroke-opacity="0.75"/>
<g fill="#e05858">
<circle cx="285.7" cy="272" r="0.9"/>
<circle cx="286.9" cy="275.6" r="0.9"/>
<circle cx="288.1" cy="279.2" r="0.9"/>
<circle cx="289.2" cy="282.8" r="0.9"/>
<circle cx="290.5" cy="286.3" r="0.9"/>
<circle cx="292" cy="289.8" r="0.9"/>
<circle cx="293.6" cy="293.3" r="0.9"/>
<circle cx="295.5" cy="296.8" r="0.9"/>
<circle cx="297.5" cy="300.3" r="0.9"/>
<circle cx="299.7" cy="303.6" r="0.9"/>
<circle cx="301.8" cy="306.7" r="0.9"/>
<circle cx="303.9" cy="309.2" r="0.9"/>
<circle cx="307.1" cy="312.1" r="0.9"/>
<circle cx="310.2" cy="314" r="0.9"/>
<circle cx="313.5" cy="315.4" r="0.9"/>
<circle cx="317" cy="316.7" r="0.9"/>
<circle cx="320.9" cy="317.6" r="0.9"/>
<circle cx="324.8" cy="318.1" r="0.9"/>
<circle cx="328.3" cy="318" r="0.9"/>
<circle cx="332.1" cy="317" r="0.9"/>
<circle cx="335.4" cy="315.1" r="0.9"/>
<circle cx="338.3" cy="312.7" r="0.9"/>
<circle cx="340.7" cy="309.9" r="0.9"/>
<circle cx="342.8" cy="306.7" r="0.9"/>
<circle cx="345" cy="303.5" r="0.9"/>
<circle cx="401.9" cy="258.2" r="0.85"/>
<circle cx="335.9" cy="276.6" r="0.85"/>
<circle cx="407.8" cy="229.5" r="0.85"/>
<circle cx="345" cy="263.5" r="0.85"/>
<circle cx="359.6" cy="279.4" r="0.85"/>
<circle cx="340" cy="285.4" r="0.85"/>
<circle cx="407.7" cy="267.9" r="0.85"/>
<circle cx="348" cy="282.5" r="0.85"/>
<circle cx="365.6" cy="278.4" r="0.85"/>
<circle cx="316.3" cy="292.6" r="0.85"/>
<circle cx="382.2" cy="256.4" r="0.85"/>
<circle cx="290.3" cy="265.2" r="0.85"/>
<circle cx="378.5" cy="288.8" r="0.85"/>
<circle cx="338.5" cy="289.7" r="0.85"/>
<circle cx="389.9" cy="270.3" r="0.85"/>
<circle cx="293.2" cy="272.7" r="0.85"/>
<circle cx="372" cy="286.5" r="0.85"/>
<circle cx="291.3" cy="262.4" r="0.85"/>
<circle cx="398" cy="247.7" r="0.85"/>
<circle cx="292.3" cy="284.1" r="0.85"/>
<circle cx="359.5" cy="285.6" r="0.85"/>
<circle cx="295.3" cy="284.3" r="0.85"/>
<circle cx="419.8" cy="242.1" r="0.85"/>
<circle cx="346.3" cy="284.5" r="0.85"/>
<circle cx="379.5" cy="272.7" r="0.85"/>
<circle cx="350.9" cy="277.5" r="0.85"/>
</g>
<line x1="277.5" y1="268" x2="278.5" y2="302" stroke="#e48a8a" stroke-width="0.9" stroke-dasharray="1.2 1.5"/>
<line x1="365" y1="243" x2="378" y2="265" stroke="#e48a8a" stroke-width="0.8" stroke-dasharray="1.2 1.6"/>
<g stroke="#3a3a3a" stroke-width="0.7" fill="none">
<polyline points="264.9,219.5 271.6,334.9 360.8,373.6 433.9,330"/>
<line x1="268.4" y1="334.9" x2="271.6" y2="334.9"/>
<line x1="267.7" y1="324.3" x2="270.9" y2="324.3"/>
<line x1="267.1" y1="313.7" x2="270.3" y2="313.7"/>
<line x1="266.5" y1="302.8" x2="269.7" y2="302.8"/>
<line x1="265.8" y1="291.8" x2="269" y2="291.8"/>
<line x1="265.2" y1="280.6" x2="268.4" y2="280.6"/>
<line x1="264.5" y1="269.2" x2="267.7" y2="269.2"/>
<line x1="263.9" y1="257.7" x2="267.1" y2="257.7"/>
<line x1="263.2" y1="246" x2="266.4" y2="246"/>
<line x1="262.5" y1="234" x2="265.7" y2="234"/>
<line x1="261.8" y1="221.9" x2="265" y2="221.9"/>
<line x1="279.5" y1="338.3" x2="276.4" y2="339.7"/>
<line x1="292.7" y1="344.1" x2="289.6" y2="345.5"/>
<line x1="306.5" y1="350.1" x2="303.4" y2="351.6"/>
<line x1="321" y1="356.4" x2="317.9" y2="358"/>
<line x1="336.3" y1="363" x2="333.2" y2="364.7"/>
<line x1="352.3" y1="369.9" x2="349.2" y2="371.7"/>
<line x1="370.9" y1="367.5" x2="374.5" y2="369.1"/>
<line x1="383.3" y1="360.2" x2="386.9" y2="361.6"/>
<line x1="395.1" y1="353.1" x2="398.6" y2="354.5"/>
<line x1="406.2" y1="346.5" x2="409.7" y2="347.8"/>
<line x1="416.8" y1="340.2" x2="420.3" y2="341.4"/>
<line x1="426.9" y1="334.2" x2="430.3" y2="335.4"/>
</g>
<text x="267.8" y="338.2" style="font-size:9.3px" text-anchor="end">-1.0</text>
<text x="267.1" y="327.6" style="font-size:9.3px" text-anchor="end">-0.8</text>
<text x="266.5" y="317" style="font-size:9.3px" text-anchor="end">-0.6</text>
<text x="265.9" y="306.1" style="font-size:9.3px" text-anchor="end">-0.4</text>
<text x="265.2" y="295.1" style="font-size:9.3px" text-anchor="end">-0.2</text>
<text x="264.6" y="283.9" style="font-size:9.3px" text-anchor="end">0.0</text>
<text x="263.9" y="272.5" style="font-size:9.3px" text-anchor="end">0.2</text>
<text x="263.3" y="261" style="font-size:9.3px" text-anchor="end">0.4</text>
<text x="262.6" y="249.3" style="font-size:9.3px" text-anchor="end">0.6</text>
<text x="261.9" y="237.3" style="font-size:9.3px" text-anchor="end">0.8</text>
<text x="261.2" y="225.2" style="font-size:9.3px" text-anchor="end">1.0</text>
<text x="279" y="351.1" style="font-size:8.8px" text-anchor="middle">30</text>
<text x="292.2" y="357" style="font-size:8.8px" text-anchor="middle">27</text>
<text x="306" y="363.2" style="font-size:8.8px" text-anchor="middle">24</text>
<text x="320.5" y="369.7" style="font-size:8.8px" text-anchor="middle">21</text>
<text x="335.8" y="376.5" style="font-size:8.8px" text-anchor="middle">18</text>
<text x="351.8" y="383.6" style="font-size:8.8px" text-anchor="middle">15</text>
<text x="377.4" y="378.6" style="font-size:8.8px" text-anchor="middle">2.0</text>
<text x="389.8" y="371.3" style="font-size:8.8px" text-anchor="middle">1.8</text>
<text x="401.6" y="364.2" style="font-size:8.8px" text-anchor="middle">1.6</text>
<text x="412.7" y="357.6" style="font-size:8.8px" text-anchor="middle">1.4</text>
<text x="423.3" y="351.3" style="font-size:8.8px" text-anchor="middle">1.2</text>
<text x="433.4" y="345.3" style="font-size:8.8px" text-anchor="middle">1.0</text>
<text x="246.2" y="211.2" style="font-size:17px">e</text>
<text x="232" y="219.7" style="font-size:10.8px" textLength="136" lengthAdjust="spacingAndGlyphs" transform="rotate(85.4 232 219.7)">Prediction of Kriging error (K)</text>
<text x="259.2" y="356.2" style="font-size:10.8px" textLength="102" lengthAdjust="spacingAndGlyphs" transform="rotate(24.3 259.2 356.2)">Linear power (kW/m)</text>
<text x="385.6" y="392" style="font-size:9.5px" textLength="69" lengthAdjust="spacingAndGlyphs" transform="rotate(-33.5 385.6 392)">Flow rate (m/s)</text>
<circle cx="270.6" cy="207.3" r="1.05" fill="#f07070"/>
<circle cx="270.5" cy="218.4" r="1.05" fill="#888"/>
<rect x="341.1" y="202.4" width="19.8" height="9.3" fill="url(#tg)"/>
<rect x="341.1" y="213.4" width="19.8" height="8.8" fill="url(#gg)"/>
<text x="282.6" y="209.7" style="font-size:7.8px" textLength="56.3" lengthAdjust="spacingAndGlyphs">KAN training data</text>
<text x="282.6" y="220.2" style="font-size:7.8px" textLength="53.4" lengthAdjust="spacingAndGlyphs">KAN testing data</text>
<text x="363" y="209.4" style="font-size:7.8px" textLength="83.2" lengthAdjust="spacingAndGlyphs">Prediction of Kriging error</text>
<text x="363" y="220.8" style="font-size:7.8px" textLength="75" lengthAdjust="spacingAndGlyphs">Prediction error of KAN</text>
<text x="342.6" y="227.4" style="font-size:5.8px" text-anchor="middle">0</text>
<text x="360.4" y="227.4" style="font-size:5.8px" text-anchor="middle">1</text>
<text x="361.3" y="304.2" style="font-size:8.2px;font-weight:bold;fill:#8c1c2c;stroke:#8c1c2c" textLength="57" lengthAdjust="spacingAndGlyphs">2. KAN corrector:</text>
<text x="361.3" y="313.7" style="font-size:8.2px;font-weight:bold;fill:#8c1c2c;stroke:#8c1c2c" textLength="77.8" lengthAdjust="spacingAndGlyphs">Effectively captures the</text>
<text x="361.3" y="322.9" style="font-size:8.2px;font-weight:bold;fill:#8c1c2c;stroke:#8c1c2c" textLength="74.1" lengthAdjust="spacingAndGlyphs">complex error surface.</text>
</svg></body></html>
